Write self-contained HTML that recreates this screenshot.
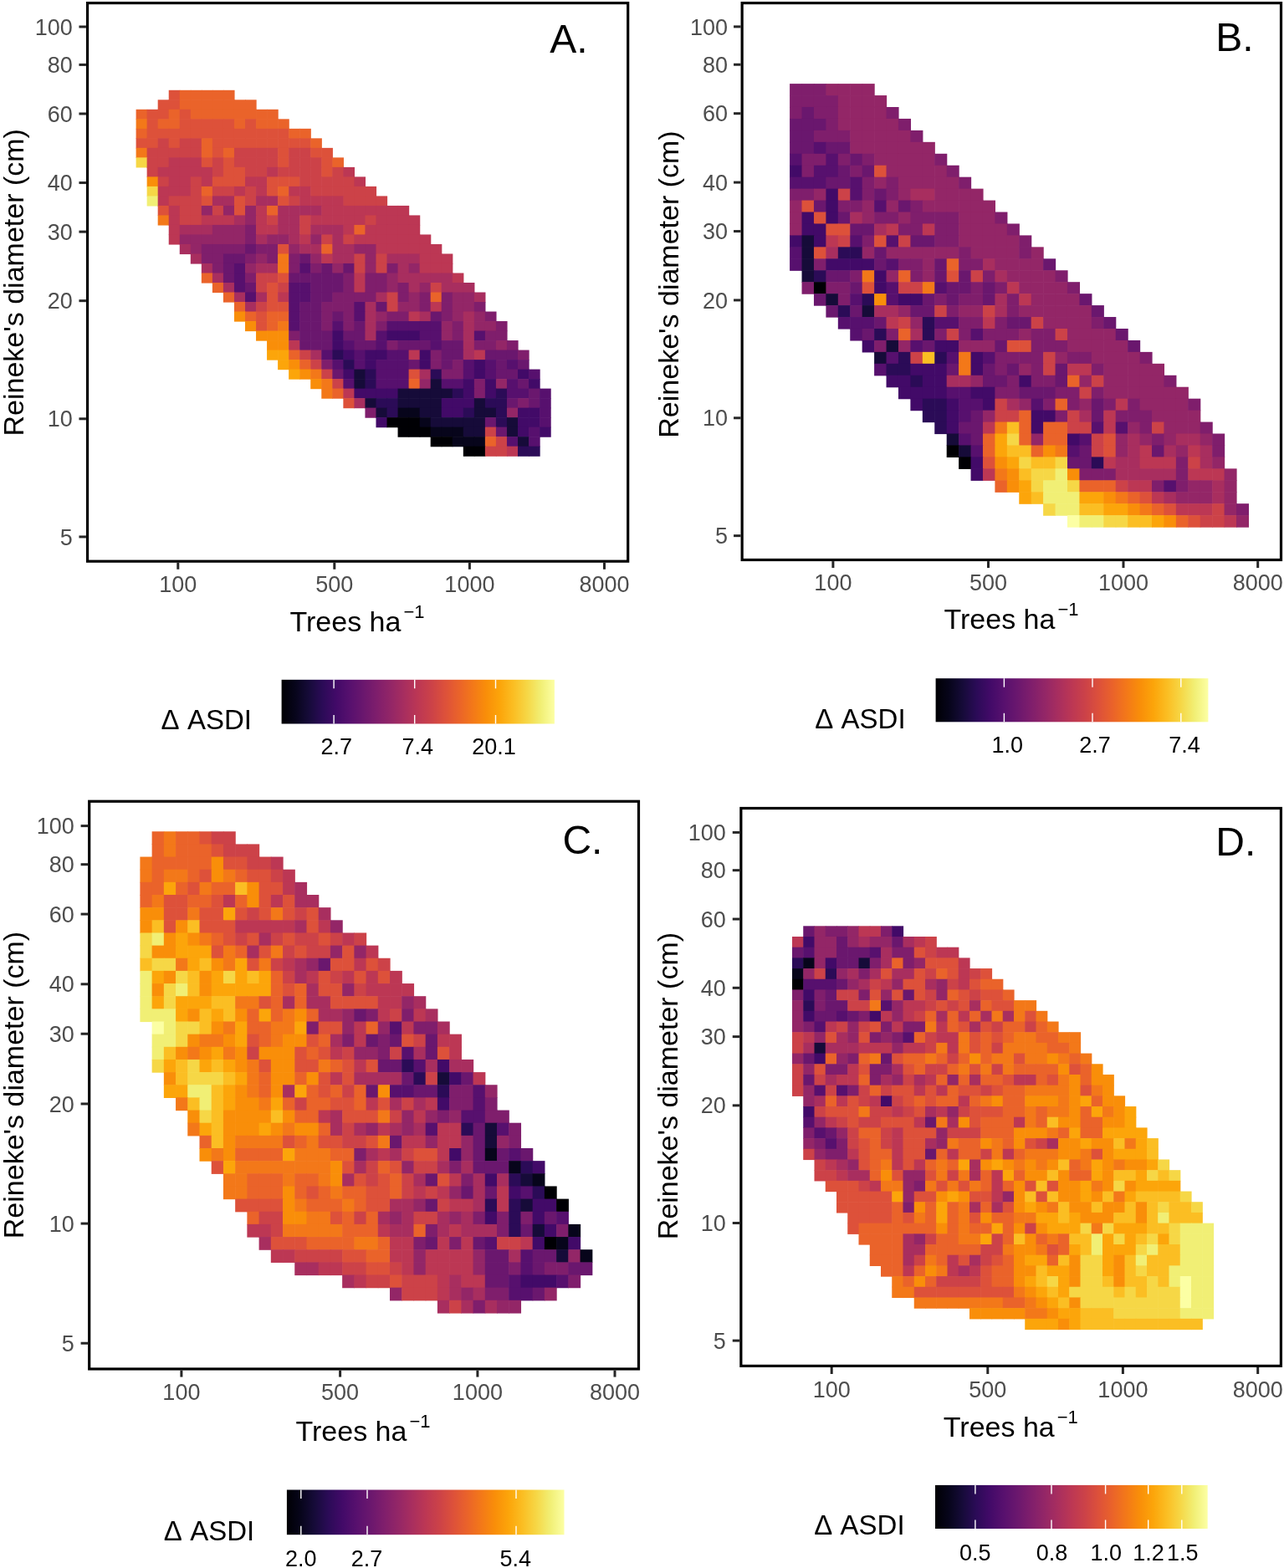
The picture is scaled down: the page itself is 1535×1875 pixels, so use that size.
<!DOCTYPE html>
<html><head><meta charset="utf-8"><title>Figure</title>
<style>html,body{margin:0;padding:0;background:#fff;overflow:hidden} svg text{font-family:"Liberation Sans", Arial, sans-serif;}</style>
</head><body>
<svg width="1535" height="1875" viewBox="0 0 1535 1875" style="display:block">
<rect x="0" y="0" width="1535" height="1875" fill="#ffffff"/>
<defs><linearGradient id="inf" x1="0" y1="0" x2="1" y2="0"><stop offset="0.00" stop-color="#000004"/><stop offset="0.05" stop-color="#07051b"/><stop offset="0.10" stop-color="#160b39"/><stop offset="0.15" stop-color="#2b0b57"/><stop offset="0.20" stop-color="#420a68"/><stop offset="0.25" stop-color="#57106e"/><stop offset="0.30" stop-color="#6a176e"/><stop offset="0.35" stop-color="#7f1e6c"/><stop offset="0.40" stop-color="#932667"/><stop offset="0.45" stop-color="#a82e5f"/><stop offset="0.50" stop-color="#bc3754"/><stop offset="0.55" stop-color="#cc4248"/><stop offset="0.60" stop-color="#dd513a"/><stop offset="0.65" stop-color="#ea632a"/><stop offset="0.70" stop-color="#f37819"/><stop offset="0.75" stop-color="#f98e09"/><stop offset="0.80" stop-color="#fca50a"/><stop offset="0.85" stop-color="#fbbe23"/><stop offset="0.90" stop-color="#f6d746"/><stop offset="0.95" stop-color="#f1ef75"/><stop offset="1.00" stop-color="#fcffa4"/></linearGradient></defs>
<rect x="201.72" y="107.80" width="13.64" height="12.11" fill="#dd513a"/>
<rect x="214.76" y="107.80" width="13.64" height="12.11" fill="#ea632a"/>
<rect x="227.80" y="107.80" width="13.64" height="12.11" fill="#ea632a"/>
<rect x="240.84" y="107.80" width="13.64" height="12.11" fill="#ea632a"/>
<rect x="253.88" y="107.80" width="13.64" height="12.11" fill="#ea632a"/>
<rect x="266.92" y="107.80" width="13.64" height="12.11" fill="#ea632a"/>
<rect x="188.68" y="119.31" width="13.64" height="12.11" fill="#dd513a"/>
<rect x="201.72" y="119.31" width="13.64" height="12.11" fill="#dd513a"/>
<rect x="214.76" y="119.31" width="13.64" height="12.11" fill="#ea632a"/>
<rect x="227.80" y="119.31" width="13.64" height="12.11" fill="#ea632a"/>
<rect x="240.84" y="119.31" width="13.64" height="12.11" fill="#ea632a"/>
<rect x="253.88" y="119.31" width="13.64" height="12.11" fill="#ea632a"/>
<rect x="266.92" y="119.31" width="13.64" height="12.11" fill="#ea632a"/>
<rect x="279.96" y="119.31" width="13.64" height="12.11" fill="#ea632a"/>
<rect x="293.00" y="119.31" width="13.64" height="12.11" fill="#ea632a"/>
<rect x="162.60" y="130.82" width="13.64" height="12.11" fill="#ea632a"/>
<rect x="175.64" y="130.82" width="13.64" height="12.11" fill="#dd513a"/>
<rect x="188.68" y="130.82" width="13.64" height="12.11" fill="#dd513a"/>
<rect x="201.72" y="130.82" width="13.64" height="12.11" fill="#ea632a"/>
<rect x="214.76" y="130.82" width="13.64" height="12.11" fill="#dd513a"/>
<rect x="227.80" y="130.82" width="13.64" height="12.11" fill="#ea632a"/>
<rect x="240.84" y="130.82" width="13.64" height="12.11" fill="#ea632a"/>
<rect x="253.88" y="130.82" width="13.64" height="12.11" fill="#ea632a"/>
<rect x="266.92" y="130.82" width="13.64" height="12.11" fill="#ea632a"/>
<rect x="279.96" y="130.82" width="13.64" height="12.11" fill="#ea632a"/>
<rect x="293.00" y="130.82" width="13.64" height="12.11" fill="#ea632a"/>
<rect x="306.04" y="130.82" width="13.64" height="12.11" fill="#ea632a"/>
<rect x="319.08" y="130.82" width="13.64" height="12.11" fill="#ea632a"/>
<rect x="162.60" y="142.33" width="13.64" height="12.11" fill="#f37819"/>
<rect x="175.64" y="142.33" width="13.64" height="12.11" fill="#dd513a"/>
<rect x="188.68" y="142.33" width="13.64" height="12.11" fill="#ea632a"/>
<rect x="201.72" y="142.33" width="13.64" height="12.11" fill="#ea632a"/>
<rect x="214.76" y="142.33" width="13.64" height="12.11" fill="#dd513a"/>
<rect x="227.80" y="142.33" width="13.64" height="12.11" fill="#dd513a"/>
<rect x="240.84" y="142.33" width="13.64" height="12.11" fill="#dd513a"/>
<rect x="253.88" y="142.33" width="13.64" height="12.11" fill="#dd513a"/>
<rect x="266.92" y="142.33" width="13.64" height="12.11" fill="#dd513a"/>
<rect x="279.96" y="142.33" width="13.64" height="12.11" fill="#ea632a"/>
<rect x="293.00" y="142.33" width="13.64" height="12.11" fill="#dd513a"/>
<rect x="306.04" y="142.33" width="13.64" height="12.11" fill="#ea632a"/>
<rect x="319.08" y="142.33" width="13.64" height="12.11" fill="#ea632a"/>
<rect x="332.12" y="142.33" width="13.64" height="12.11" fill="#ea632a"/>
<rect x="162.60" y="153.84" width="13.64" height="12.11" fill="#ea632a"/>
<rect x="175.64" y="153.84" width="13.64" height="12.11" fill="#dd513a"/>
<rect x="188.68" y="153.84" width="13.64" height="12.11" fill="#dd513a"/>
<rect x="201.72" y="153.84" width="13.64" height="12.11" fill="#dd513a"/>
<rect x="214.76" y="153.84" width="13.64" height="12.11" fill="#dd513a"/>
<rect x="227.80" y="153.84" width="13.64" height="12.11" fill="#dd513a"/>
<rect x="240.84" y="153.84" width="13.64" height="12.11" fill="#dd513a"/>
<rect x="253.88" y="153.84" width="13.64" height="12.11" fill="#dd513a"/>
<rect x="266.92" y="153.84" width="13.64" height="12.11" fill="#dd513a"/>
<rect x="279.96" y="153.84" width="13.64" height="12.11" fill="#dd513a"/>
<rect x="293.00" y="153.84" width="13.64" height="12.11" fill="#dd513a"/>
<rect x="306.04" y="153.84" width="13.64" height="12.11" fill="#dd513a"/>
<rect x="319.08" y="153.84" width="13.64" height="12.11" fill="#dd513a"/>
<rect x="332.12" y="153.84" width="13.64" height="12.11" fill="#dd513a"/>
<rect x="345.16" y="153.84" width="13.64" height="12.11" fill="#ea632a"/>
<rect x="358.20" y="153.84" width="13.64" height="12.11" fill="#ea632a"/>
<rect x="162.60" y="165.35" width="13.64" height="12.11" fill="#dd513a"/>
<rect x="175.64" y="165.35" width="13.64" height="12.11" fill="#dd513a"/>
<rect x="188.68" y="165.35" width="13.64" height="12.11" fill="#cc4248"/>
<rect x="201.72" y="165.35" width="13.64" height="12.11" fill="#dd513a"/>
<rect x="214.76" y="165.35" width="13.64" height="12.11" fill="#cc4248"/>
<rect x="227.80" y="165.35" width="13.64" height="12.11" fill="#cc4248"/>
<rect x="240.84" y="165.35" width="13.64" height="12.11" fill="#ea632a"/>
<rect x="253.88" y="165.35" width="13.64" height="12.11" fill="#dd513a"/>
<rect x="266.92" y="165.35" width="13.64" height="12.11" fill="#dd513a"/>
<rect x="279.96" y="165.35" width="13.64" height="12.11" fill="#dd513a"/>
<rect x="293.00" y="165.35" width="13.64" height="12.11" fill="#dd513a"/>
<rect x="306.04" y="165.35" width="13.64" height="12.11" fill="#dd513a"/>
<rect x="319.08" y="165.35" width="13.64" height="12.11" fill="#dd513a"/>
<rect x="332.12" y="165.35" width="13.64" height="12.11" fill="#dd513a"/>
<rect x="345.16" y="165.35" width="13.64" height="12.11" fill="#dd513a"/>
<rect x="358.20" y="165.35" width="13.64" height="12.11" fill="#dd513a"/>
<rect x="371.24" y="165.35" width="13.64" height="12.11" fill="#ea632a"/>
<rect x="162.60" y="176.86" width="13.64" height="12.11" fill="#f37819"/>
<rect x="175.64" y="176.86" width="13.64" height="12.11" fill="#cc4248"/>
<rect x="188.68" y="176.86" width="13.64" height="12.11" fill="#cc4248"/>
<rect x="201.72" y="176.86" width="13.64" height="12.11" fill="#cc4248"/>
<rect x="214.76" y="176.86" width="13.64" height="12.11" fill="#cc4248"/>
<rect x="227.80" y="176.86" width="13.64" height="12.11" fill="#cc4248"/>
<rect x="240.84" y="176.86" width="13.64" height="12.11" fill="#ea632a"/>
<rect x="253.88" y="176.86" width="13.64" height="12.11" fill="#dd513a"/>
<rect x="266.92" y="176.86" width="13.64" height="12.11" fill="#ea632a"/>
<rect x="279.96" y="176.86" width="13.64" height="12.11" fill="#cc4248"/>
<rect x="293.00" y="176.86" width="13.64" height="12.11" fill="#cc4248"/>
<rect x="306.04" y="176.86" width="13.64" height="12.11" fill="#cc4248"/>
<rect x="319.08" y="176.86" width="13.64" height="12.11" fill="#cc4248"/>
<rect x="332.12" y="176.86" width="13.64" height="12.11" fill="#dd513a"/>
<rect x="345.16" y="176.86" width="13.64" height="12.11" fill="#cc4248"/>
<rect x="358.20" y="176.86" width="13.64" height="12.11" fill="#cc4248"/>
<rect x="371.24" y="176.86" width="13.64" height="12.11" fill="#dd513a"/>
<rect x="384.28" y="176.86" width="13.64" height="12.11" fill="#dd513a"/>
<rect x="162.60" y="188.37" width="13.64" height="12.11" fill="#f6d746"/>
<rect x="175.64" y="188.37" width="13.64" height="12.11" fill="#cc4248"/>
<rect x="188.68" y="188.37" width="13.64" height="12.11" fill="#cc4248"/>
<rect x="201.72" y="188.37" width="13.64" height="12.11" fill="#bc3754"/>
<rect x="214.76" y="188.37" width="13.64" height="12.11" fill="#bc3754"/>
<rect x="227.80" y="188.37" width="13.64" height="12.11" fill="#bc3754"/>
<rect x="240.84" y="188.37" width="13.64" height="12.11" fill="#dd513a"/>
<rect x="253.88" y="188.37" width="13.64" height="12.11" fill="#cc4248"/>
<rect x="266.92" y="188.37" width="13.64" height="12.11" fill="#dd513a"/>
<rect x="279.96" y="188.37" width="13.64" height="12.11" fill="#cc4248"/>
<rect x="293.00" y="188.37" width="13.64" height="12.11" fill="#cc4248"/>
<rect x="306.04" y="188.37" width="13.64" height="12.11" fill="#cc4248"/>
<rect x="319.08" y="188.37" width="13.64" height="12.11" fill="#cc4248"/>
<rect x="332.12" y="188.37" width="13.64" height="12.11" fill="#dd513a"/>
<rect x="345.16" y="188.37" width="13.64" height="12.11" fill="#cc4248"/>
<rect x="358.20" y="188.37" width="13.64" height="12.11" fill="#cc4248"/>
<rect x="371.24" y="188.37" width="13.64" height="12.11" fill="#cc4248"/>
<rect x="384.28" y="188.37" width="13.64" height="12.11" fill="#dd513a"/>
<rect x="397.32" y="188.37" width="13.64" height="12.11" fill="#ea632a"/>
<rect x="175.64" y="199.88" width="13.64" height="12.11" fill="#cc4248"/>
<rect x="188.68" y="199.88" width="13.64" height="12.11" fill="#bc3754"/>
<rect x="201.72" y="199.88" width="13.64" height="12.11" fill="#bc3754"/>
<rect x="214.76" y="199.88" width="13.64" height="12.11" fill="#bc3754"/>
<rect x="227.80" y="199.88" width="13.64" height="12.11" fill="#bc3754"/>
<rect x="240.84" y="199.88" width="13.64" height="12.11" fill="#bc3754"/>
<rect x="253.88" y="199.88" width="13.64" height="12.11" fill="#cc4248"/>
<rect x="266.92" y="199.88" width="13.64" height="12.11" fill="#dd513a"/>
<rect x="279.96" y="199.88" width="13.64" height="12.11" fill="#dd513a"/>
<rect x="293.00" y="199.88" width="13.64" height="12.11" fill="#cc4248"/>
<rect x="306.04" y="199.88" width="13.64" height="12.11" fill="#cc4248"/>
<rect x="319.08" y="199.88" width="13.64" height="12.11" fill="#bc3754"/>
<rect x="332.12" y="199.88" width="13.64" height="12.11" fill="#cc4248"/>
<rect x="345.16" y="199.88" width="13.64" height="12.11" fill="#cc4248"/>
<rect x="358.20" y="199.88" width="13.64" height="12.11" fill="#cc4248"/>
<rect x="371.24" y="199.88" width="13.64" height="12.11" fill="#cc4248"/>
<rect x="384.28" y="199.88" width="13.64" height="12.11" fill="#dd513a"/>
<rect x="397.32" y="199.88" width="13.64" height="12.11" fill="#cc4248"/>
<rect x="410.36" y="199.88" width="13.64" height="12.11" fill="#bc3754"/>
<rect x="175.64" y="211.39" width="13.64" height="12.11" fill="#f98e09"/>
<rect x="188.68" y="211.39" width="13.64" height="12.11" fill="#cc4248"/>
<rect x="201.72" y="211.39" width="13.64" height="12.11" fill="#bc3754"/>
<rect x="214.76" y="211.39" width="13.64" height="12.11" fill="#bc3754"/>
<rect x="227.80" y="211.39" width="13.64" height="12.11" fill="#cc4248"/>
<rect x="240.84" y="211.39" width="13.64" height="12.11" fill="#bc3754"/>
<rect x="253.88" y="211.39" width="13.64" height="12.11" fill="#dd513a"/>
<rect x="266.92" y="211.39" width="13.64" height="12.11" fill="#dd513a"/>
<rect x="279.96" y="211.39" width="13.64" height="12.11" fill="#dd513a"/>
<rect x="293.00" y="211.39" width="13.64" height="12.11" fill="#bc3754"/>
<rect x="306.04" y="211.39" width="13.64" height="12.11" fill="#bc3754"/>
<rect x="319.08" y="211.39" width="13.64" height="12.11" fill="#dd513a"/>
<rect x="332.12" y="211.39" width="13.64" height="12.11" fill="#dd513a"/>
<rect x="345.16" y="211.39" width="13.64" height="12.11" fill="#dd513a"/>
<rect x="358.20" y="211.39" width="13.64" height="12.11" fill="#cc4248"/>
<rect x="371.24" y="211.39" width="13.64" height="12.11" fill="#cc4248"/>
<rect x="384.28" y="211.39" width="13.64" height="12.11" fill="#cc4248"/>
<rect x="397.32" y="211.39" width="13.64" height="12.11" fill="#cc4248"/>
<rect x="410.36" y="211.39" width="13.64" height="12.11" fill="#cc4248"/>
<rect x="423.40" y="211.39" width="13.64" height="12.11" fill="#bc3754"/>
<rect x="175.64" y="222.90" width="13.64" height="12.11" fill="#f6d746"/>
<rect x="188.68" y="222.90" width="13.64" height="12.11" fill="#bc3754"/>
<rect x="201.72" y="222.90" width="13.64" height="12.11" fill="#bc3754"/>
<rect x="214.76" y="222.90" width="13.64" height="12.11" fill="#bc3754"/>
<rect x="227.80" y="222.90" width="13.64" height="12.11" fill="#cc4248"/>
<rect x="240.84" y="222.90" width="13.64" height="12.11" fill="#ea632a"/>
<rect x="253.88" y="222.90" width="13.64" height="12.11" fill="#cc4248"/>
<rect x="266.92" y="222.90" width="13.64" height="12.11" fill="#cc4248"/>
<rect x="279.96" y="222.90" width="13.64" height="12.11" fill="#bc3754"/>
<rect x="293.00" y="222.90" width="13.64" height="12.11" fill="#cc4248"/>
<rect x="306.04" y="222.90" width="13.64" height="12.11" fill="#bc3754"/>
<rect x="319.08" y="222.90" width="13.64" height="12.11" fill="#dd513a"/>
<rect x="332.12" y="222.90" width="13.64" height="12.11" fill="#ea632a"/>
<rect x="345.16" y="222.90" width="13.64" height="12.11" fill="#bc3754"/>
<rect x="358.20" y="222.90" width="13.64" height="12.11" fill="#bc3754"/>
<rect x="371.24" y="222.90" width="13.64" height="12.11" fill="#cc4248"/>
<rect x="384.28" y="222.90" width="13.64" height="12.11" fill="#cc4248"/>
<rect x="397.32" y="222.90" width="13.64" height="12.11" fill="#cc4248"/>
<rect x="410.36" y="222.90" width="13.64" height="12.11" fill="#cc4248"/>
<rect x="423.40" y="222.90" width="13.64" height="12.11" fill="#cc4248"/>
<rect x="436.44" y="222.90" width="13.64" height="12.11" fill="#cc4248"/>
<rect x="175.64" y="234.41" width="13.64" height="12.11" fill="#f1ef75"/>
<rect x="188.68" y="234.41" width="13.64" height="12.11" fill="#bc3754"/>
<rect x="201.72" y="234.41" width="13.64" height="12.11" fill="#cc4248"/>
<rect x="214.76" y="234.41" width="13.64" height="12.11" fill="#cc4248"/>
<rect x="227.80" y="234.41" width="13.64" height="12.11" fill="#cc4248"/>
<rect x="240.84" y="234.41" width="13.64" height="12.11" fill="#dd513a"/>
<rect x="253.88" y="234.41" width="13.64" height="12.11" fill="#a82e5f"/>
<rect x="266.92" y="234.41" width="13.64" height="12.11" fill="#a82e5f"/>
<rect x="279.96" y="234.41" width="13.64" height="12.11" fill="#dd513a"/>
<rect x="293.00" y="234.41" width="13.64" height="12.11" fill="#cc4248"/>
<rect x="306.04" y="234.41" width="13.64" height="12.11" fill="#a82e5f"/>
<rect x="319.08" y="234.41" width="13.64" height="12.11" fill="#a82e5f"/>
<rect x="332.12" y="234.41" width="13.64" height="12.11" fill="#dd513a"/>
<rect x="345.16" y="234.41" width="13.64" height="12.11" fill="#cc4248"/>
<rect x="358.20" y="234.41" width="13.64" height="12.11" fill="#bc3754"/>
<rect x="371.24" y="234.41" width="13.64" height="12.11" fill="#bc3754"/>
<rect x="384.28" y="234.41" width="13.64" height="12.11" fill="#bc3754"/>
<rect x="397.32" y="234.41" width="13.64" height="12.11" fill="#bc3754"/>
<rect x="410.36" y="234.41" width="13.64" height="12.11" fill="#cc4248"/>
<rect x="423.40" y="234.41" width="13.64" height="12.11" fill="#cc4248"/>
<rect x="436.44" y="234.41" width="13.64" height="12.11" fill="#cc4248"/>
<rect x="449.48" y="234.41" width="13.64" height="12.11" fill="#cc4248"/>
<rect x="188.68" y="245.92" width="13.64" height="12.11" fill="#dd513a"/>
<rect x="201.72" y="245.92" width="13.64" height="12.11" fill="#bc3754"/>
<rect x="214.76" y="245.92" width="13.64" height="12.11" fill="#cc4248"/>
<rect x="227.80" y="245.92" width="13.64" height="12.11" fill="#cc4248"/>
<rect x="240.84" y="245.92" width="13.64" height="12.11" fill="#932667"/>
<rect x="253.88" y="245.92" width="13.64" height="12.11" fill="#cc4248"/>
<rect x="266.92" y="245.92" width="13.64" height="12.11" fill="#932667"/>
<rect x="279.96" y="245.92" width="13.64" height="12.11" fill="#dd513a"/>
<rect x="293.00" y="245.92" width="13.64" height="12.11" fill="#932667"/>
<rect x="306.04" y="245.92" width="13.64" height="12.11" fill="#bc3754"/>
<rect x="319.08" y="245.92" width="13.64" height="12.11" fill="#ea632a"/>
<rect x="332.12" y="245.92" width="13.64" height="12.11" fill="#a82e5f"/>
<rect x="345.16" y="245.92" width="13.64" height="12.11" fill="#a82e5f"/>
<rect x="358.20" y="245.92" width="13.64" height="12.11" fill="#a82e5f"/>
<rect x="371.24" y="245.92" width="13.64" height="12.11" fill="#a82e5f"/>
<rect x="384.28" y="245.92" width="13.64" height="12.11" fill="#bc3754"/>
<rect x="397.32" y="245.92" width="13.64" height="12.11" fill="#bc3754"/>
<rect x="410.36" y="245.92" width="13.64" height="12.11" fill="#bc3754"/>
<rect x="423.40" y="245.92" width="13.64" height="12.11" fill="#bc3754"/>
<rect x="436.44" y="245.92" width="13.64" height="12.11" fill="#bc3754"/>
<rect x="449.48" y="245.92" width="13.64" height="12.11" fill="#bc3754"/>
<rect x="462.52" y="245.92" width="13.64" height="12.11" fill="#bc3754"/>
<rect x="475.56" y="245.92" width="13.64" height="12.11" fill="#bc3754"/>
<rect x="188.68" y="257.43" width="13.64" height="12.11" fill="#f37819"/>
<rect x="201.72" y="257.43" width="13.64" height="12.11" fill="#bc3754"/>
<rect x="214.76" y="257.43" width="13.64" height="12.11" fill="#cc4248"/>
<rect x="227.80" y="257.43" width="13.64" height="12.11" fill="#cc4248"/>
<rect x="240.84" y="257.43" width="13.64" height="12.11" fill="#bc3754"/>
<rect x="253.88" y="257.43" width="13.64" height="12.11" fill="#bc3754"/>
<rect x="266.92" y="257.43" width="13.64" height="12.11" fill="#bc3754"/>
<rect x="279.96" y="257.43" width="13.64" height="12.11" fill="#a82e5f"/>
<rect x="293.00" y="257.43" width="13.64" height="12.11" fill="#932667"/>
<rect x="306.04" y="257.43" width="13.64" height="12.11" fill="#bc3754"/>
<rect x="319.08" y="257.43" width="13.64" height="12.11" fill="#cc4248"/>
<rect x="332.12" y="257.43" width="13.64" height="12.11" fill="#a82e5f"/>
<rect x="345.16" y="257.43" width="13.64" height="12.11" fill="#a82e5f"/>
<rect x="358.20" y="257.43" width="13.64" height="12.11" fill="#cc4248"/>
<rect x="371.24" y="257.43" width="13.64" height="12.11" fill="#bc3754"/>
<rect x="384.28" y="257.43" width="13.64" height="12.11" fill="#bc3754"/>
<rect x="397.32" y="257.43" width="13.64" height="12.11" fill="#bc3754"/>
<rect x="410.36" y="257.43" width="13.64" height="12.11" fill="#bc3754"/>
<rect x="423.40" y="257.43" width="13.64" height="12.11" fill="#bc3754"/>
<rect x="436.44" y="257.43" width="13.64" height="12.11" fill="#cc4248"/>
<rect x="449.48" y="257.43" width="13.64" height="12.11" fill="#bc3754"/>
<rect x="462.52" y="257.43" width="13.64" height="12.11" fill="#bc3754"/>
<rect x="475.56" y="257.43" width="13.64" height="12.11" fill="#bc3754"/>
<rect x="488.60" y="257.43" width="13.64" height="12.11" fill="#bc3754"/>
<rect x="201.72" y="268.94" width="13.64" height="12.11" fill="#bc3754"/>
<rect x="214.76" y="268.94" width="13.64" height="12.11" fill="#a82e5f"/>
<rect x="227.80" y="268.94" width="13.64" height="12.11" fill="#a82e5f"/>
<rect x="240.84" y="268.94" width="13.64" height="12.11" fill="#a82e5f"/>
<rect x="253.88" y="268.94" width="13.64" height="12.11" fill="#932667"/>
<rect x="266.92" y="268.94" width="13.64" height="12.11" fill="#932667"/>
<rect x="279.96" y="268.94" width="13.64" height="12.11" fill="#932667"/>
<rect x="293.00" y="268.94" width="13.64" height="12.11" fill="#7f1e6c"/>
<rect x="306.04" y="268.94" width="13.64" height="12.11" fill="#bc3754"/>
<rect x="319.08" y="268.94" width="13.64" height="12.11" fill="#bc3754"/>
<rect x="332.12" y="268.94" width="13.64" height="12.11" fill="#a82e5f"/>
<rect x="345.16" y="268.94" width="13.64" height="12.11" fill="#a82e5f"/>
<rect x="358.20" y="268.94" width="13.64" height="12.11" fill="#cc4248"/>
<rect x="371.24" y="268.94" width="13.64" height="12.11" fill="#a82e5f"/>
<rect x="384.28" y="268.94" width="13.64" height="12.11" fill="#a82e5f"/>
<rect x="397.32" y="268.94" width="13.64" height="12.11" fill="#a82e5f"/>
<rect x="410.36" y="268.94" width="13.64" height="12.11" fill="#bc3754"/>
<rect x="423.40" y="268.94" width="13.64" height="12.11" fill="#ea632a"/>
<rect x="436.44" y="268.94" width="13.64" height="12.11" fill="#bc3754"/>
<rect x="449.48" y="268.94" width="13.64" height="12.11" fill="#bc3754"/>
<rect x="462.52" y="268.94" width="13.64" height="12.11" fill="#bc3754"/>
<rect x="475.56" y="268.94" width="13.64" height="12.11" fill="#bc3754"/>
<rect x="488.60" y="268.94" width="13.64" height="12.11" fill="#bc3754"/>
<rect x="201.72" y="280.45" width="13.64" height="12.11" fill="#bc3754"/>
<rect x="214.76" y="280.45" width="13.64" height="12.11" fill="#932667"/>
<rect x="227.80" y="280.45" width="13.64" height="12.11" fill="#932667"/>
<rect x="240.84" y="280.45" width="13.64" height="12.11" fill="#932667"/>
<rect x="253.88" y="280.45" width="13.64" height="12.11" fill="#932667"/>
<rect x="266.92" y="280.45" width="13.64" height="12.11" fill="#932667"/>
<rect x="279.96" y="280.45" width="13.64" height="12.11" fill="#932667"/>
<rect x="293.00" y="280.45" width="13.64" height="12.11" fill="#7f1e6c"/>
<rect x="306.04" y="280.45" width="13.64" height="12.11" fill="#a82e5f"/>
<rect x="319.08" y="280.45" width="13.64" height="12.11" fill="#932667"/>
<rect x="332.12" y="280.45" width="13.64" height="12.11" fill="#932667"/>
<rect x="345.16" y="280.45" width="13.64" height="12.11" fill="#a82e5f"/>
<rect x="358.20" y="280.45" width="13.64" height="12.11" fill="#bc3754"/>
<rect x="371.24" y="280.45" width="13.64" height="12.11" fill="#932667"/>
<rect x="384.28" y="280.45" width="13.64" height="12.11" fill="#cc4248"/>
<rect x="397.32" y="280.45" width="13.64" height="12.11" fill="#a82e5f"/>
<rect x="410.36" y="280.45" width="13.64" height="12.11" fill="#cc4248"/>
<rect x="423.40" y="280.45" width="13.64" height="12.11" fill="#bc3754"/>
<rect x="436.44" y="280.45" width="13.64" height="12.11" fill="#bc3754"/>
<rect x="449.48" y="280.45" width="13.64" height="12.11" fill="#bc3754"/>
<rect x="462.52" y="280.45" width="13.64" height="12.11" fill="#bc3754"/>
<rect x="475.56" y="280.45" width="13.64" height="12.11" fill="#bc3754"/>
<rect x="488.60" y="280.45" width="13.64" height="12.11" fill="#bc3754"/>
<rect x="501.64" y="280.45" width="13.64" height="12.11" fill="#bc3754"/>
<rect x="214.76" y="291.96" width="13.64" height="12.11" fill="#a82e5f"/>
<rect x="227.80" y="291.96" width="13.64" height="12.11" fill="#932667"/>
<rect x="240.84" y="291.96" width="13.64" height="12.11" fill="#7f1e6c"/>
<rect x="253.88" y="291.96" width="13.64" height="12.11" fill="#7f1e6c"/>
<rect x="266.92" y="291.96" width="13.64" height="12.11" fill="#7f1e6c"/>
<rect x="279.96" y="291.96" width="13.64" height="12.11" fill="#7f1e6c"/>
<rect x="293.00" y="291.96" width="13.64" height="12.11" fill="#6a176e"/>
<rect x="306.04" y="291.96" width="13.64" height="12.11" fill="#7f1e6c"/>
<rect x="319.08" y="291.96" width="13.64" height="12.11" fill="#7f1e6c"/>
<rect x="332.12" y="291.96" width="13.64" height="12.11" fill="#dd513a"/>
<rect x="345.16" y="291.96" width="13.64" height="12.11" fill="#932667"/>
<rect x="358.20" y="291.96" width="13.64" height="12.11" fill="#a82e5f"/>
<rect x="371.24" y="291.96" width="13.64" height="12.11" fill="#a82e5f"/>
<rect x="384.28" y="291.96" width="13.64" height="12.11" fill="#ea632a"/>
<rect x="397.32" y="291.96" width="13.64" height="12.11" fill="#a82e5f"/>
<rect x="410.36" y="291.96" width="13.64" height="12.11" fill="#a82e5f"/>
<rect x="423.40" y="291.96" width="13.64" height="12.11" fill="#932667"/>
<rect x="436.44" y="291.96" width="13.64" height="12.11" fill="#932667"/>
<rect x="449.48" y="291.96" width="13.64" height="12.11" fill="#bc3754"/>
<rect x="462.52" y="291.96" width="13.64" height="12.11" fill="#bc3754"/>
<rect x="475.56" y="291.96" width="13.64" height="12.11" fill="#bc3754"/>
<rect x="488.60" y="291.96" width="13.64" height="12.11" fill="#bc3754"/>
<rect x="501.64" y="291.96" width="13.64" height="12.11" fill="#bc3754"/>
<rect x="514.68" y="291.96" width="13.64" height="12.11" fill="#bc3754"/>
<rect x="227.80" y="303.47" width="13.64" height="12.11" fill="#a82e5f"/>
<rect x="240.84" y="303.47" width="13.64" height="12.11" fill="#7f1e6c"/>
<rect x="253.88" y="303.47" width="13.64" height="12.11" fill="#7f1e6c"/>
<rect x="266.92" y="303.47" width="13.64" height="12.11" fill="#6a176e"/>
<rect x="279.96" y="303.47" width="13.64" height="12.11" fill="#6a176e"/>
<rect x="293.00" y="303.47" width="13.64" height="12.11" fill="#7f1e6c"/>
<rect x="306.04" y="303.47" width="13.64" height="12.11" fill="#932667"/>
<rect x="319.08" y="303.47" width="13.64" height="12.11" fill="#7f1e6c"/>
<rect x="332.12" y="303.47" width="13.64" height="12.11" fill="#f37819"/>
<rect x="345.16" y="303.47" width="13.64" height="12.11" fill="#7f1e6c"/>
<rect x="358.20" y="303.47" width="13.64" height="12.11" fill="#6a176e"/>
<rect x="371.24" y="303.47" width="13.64" height="12.11" fill="#932667"/>
<rect x="384.28" y="303.47" width="13.64" height="12.11" fill="#bc3754"/>
<rect x="397.32" y="303.47" width="13.64" height="12.11" fill="#a82e5f"/>
<rect x="410.36" y="303.47" width="13.64" height="12.11" fill="#a82e5f"/>
<rect x="423.40" y="303.47" width="13.64" height="12.11" fill="#cc4248"/>
<rect x="436.44" y="303.47" width="13.64" height="12.11" fill="#932667"/>
<rect x="449.48" y="303.47" width="13.64" height="12.11" fill="#cc4248"/>
<rect x="462.52" y="303.47" width="13.64" height="12.11" fill="#a82e5f"/>
<rect x="475.56" y="303.47" width="13.64" height="12.11" fill="#a82e5f"/>
<rect x="488.60" y="303.47" width="13.64" height="12.11" fill="#a82e5f"/>
<rect x="501.64" y="303.47" width="13.64" height="12.11" fill="#bc3754"/>
<rect x="514.68" y="303.47" width="13.64" height="12.11" fill="#bc3754"/>
<rect x="527.72" y="303.47" width="13.64" height="12.11" fill="#bc3754"/>
<rect x="240.84" y="314.98" width="13.64" height="12.11" fill="#a82e5f"/>
<rect x="253.88" y="314.98" width="13.64" height="12.11" fill="#7f1e6c"/>
<rect x="266.92" y="314.98" width="13.64" height="12.11" fill="#6a176e"/>
<rect x="279.96" y="314.98" width="13.64" height="12.11" fill="#57106e"/>
<rect x="293.00" y="314.98" width="13.64" height="12.11" fill="#932667"/>
<rect x="306.04" y="314.98" width="13.64" height="12.11" fill="#a82e5f"/>
<rect x="319.08" y="314.98" width="13.64" height="12.11" fill="#a82e5f"/>
<rect x="332.12" y="314.98" width="13.64" height="12.11" fill="#f37819"/>
<rect x="345.16" y="314.98" width="13.64" height="12.11" fill="#7f1e6c"/>
<rect x="358.20" y="314.98" width="13.64" height="12.11" fill="#57106e"/>
<rect x="371.24" y="314.98" width="13.64" height="12.11" fill="#7f1e6c"/>
<rect x="384.28" y="314.98" width="13.64" height="12.11" fill="#6a176e"/>
<rect x="397.32" y="314.98" width="13.64" height="12.11" fill="#932667"/>
<rect x="410.36" y="314.98" width="13.64" height="12.11" fill="#6a176e"/>
<rect x="423.40" y="314.98" width="13.64" height="12.11" fill="#cc4248"/>
<rect x="436.44" y="314.98" width="13.64" height="12.11" fill="#932667"/>
<rect x="449.48" y="314.98" width="13.64" height="12.11" fill="#cc4248"/>
<rect x="462.52" y="314.98" width="13.64" height="12.11" fill="#7f1e6c"/>
<rect x="475.56" y="314.98" width="13.64" height="12.11" fill="#a82e5f"/>
<rect x="488.60" y="314.98" width="13.64" height="12.11" fill="#932667"/>
<rect x="501.64" y="314.98" width="13.64" height="12.11" fill="#bc3754"/>
<rect x="514.68" y="314.98" width="13.64" height="12.11" fill="#bc3754"/>
<rect x="527.72" y="314.98" width="13.64" height="12.11" fill="#bc3754"/>
<rect x="240.84" y="326.49" width="13.64" height="12.11" fill="#ea632a"/>
<rect x="253.88" y="326.49" width="13.64" height="12.11" fill="#a82e5f"/>
<rect x="266.92" y="326.49" width="13.64" height="12.11" fill="#6a176e"/>
<rect x="279.96" y="326.49" width="13.64" height="12.11" fill="#57106e"/>
<rect x="293.00" y="326.49" width="13.64" height="12.11" fill="#7f1e6c"/>
<rect x="306.04" y="326.49" width="13.64" height="12.11" fill="#cc4248"/>
<rect x="319.08" y="326.49" width="13.64" height="12.11" fill="#cc4248"/>
<rect x="332.12" y="326.49" width="13.64" height="12.11" fill="#dd513a"/>
<rect x="345.16" y="326.49" width="13.64" height="12.11" fill="#6a176e"/>
<rect x="358.20" y="326.49" width="13.64" height="12.11" fill="#6a176e"/>
<rect x="371.24" y="326.49" width="13.64" height="12.11" fill="#6a176e"/>
<rect x="384.28" y="326.49" width="13.64" height="12.11" fill="#6a176e"/>
<rect x="397.32" y="326.49" width="13.64" height="12.11" fill="#6a176e"/>
<rect x="410.36" y="326.49" width="13.64" height="12.11" fill="#7f1e6c"/>
<rect x="423.40" y="326.49" width="13.64" height="12.11" fill="#bc3754"/>
<rect x="436.44" y="326.49" width="13.64" height="12.11" fill="#7f1e6c"/>
<rect x="449.48" y="326.49" width="13.64" height="12.11" fill="#7f1e6c"/>
<rect x="462.52" y="326.49" width="13.64" height="12.11" fill="#932667"/>
<rect x="475.56" y="326.49" width="13.64" height="12.11" fill="#a82e5f"/>
<rect x="488.60" y="326.49" width="13.64" height="12.11" fill="#a82e5f"/>
<rect x="501.64" y="326.49" width="13.64" height="12.11" fill="#a82e5f"/>
<rect x="514.68" y="326.49" width="13.64" height="12.11" fill="#a82e5f"/>
<rect x="527.72" y="326.49" width="13.64" height="12.11" fill="#a82e5f"/>
<rect x="540.76" y="326.49" width="13.64" height="12.11" fill="#bc3754"/>
<rect x="253.88" y="338.00" width="13.64" height="12.11" fill="#ea632a"/>
<rect x="266.92" y="338.00" width="13.64" height="12.11" fill="#a82e5f"/>
<rect x="279.96" y="338.00" width="13.64" height="12.11" fill="#57106e"/>
<rect x="293.00" y="338.00" width="13.64" height="12.11" fill="#6a176e"/>
<rect x="306.04" y="338.00" width="13.64" height="12.11" fill="#cc4248"/>
<rect x="319.08" y="338.00" width="13.64" height="12.11" fill="#dd513a"/>
<rect x="332.12" y="338.00" width="13.64" height="12.11" fill="#cc4248"/>
<rect x="345.16" y="338.00" width="13.64" height="12.11" fill="#57106e"/>
<rect x="358.20" y="338.00" width="13.64" height="12.11" fill="#57106e"/>
<rect x="371.24" y="338.00" width="13.64" height="12.11" fill="#6a176e"/>
<rect x="384.28" y="338.00" width="13.64" height="12.11" fill="#6a176e"/>
<rect x="397.32" y="338.00" width="13.64" height="12.11" fill="#6a176e"/>
<rect x="410.36" y="338.00" width="13.64" height="12.11" fill="#7f1e6c"/>
<rect x="423.40" y="338.00" width="13.64" height="12.11" fill="#bc3754"/>
<rect x="436.44" y="338.00" width="13.64" height="12.11" fill="#7f1e6c"/>
<rect x="449.48" y="338.00" width="13.64" height="12.11" fill="#7f1e6c"/>
<rect x="462.52" y="338.00" width="13.64" height="12.11" fill="#932667"/>
<rect x="475.56" y="338.00" width="13.64" height="12.11" fill="#7f1e6c"/>
<rect x="488.60" y="338.00" width="13.64" height="12.11" fill="#a82e5f"/>
<rect x="501.64" y="338.00" width="13.64" height="12.11" fill="#932667"/>
<rect x="514.68" y="338.00" width="13.64" height="12.11" fill="#cc4248"/>
<rect x="527.72" y="338.00" width="13.64" height="12.11" fill="#a82e5f"/>
<rect x="540.76" y="338.00" width="13.64" height="12.11" fill="#a82e5f"/>
<rect x="553.80" y="338.00" width="13.64" height="12.11" fill="#a82e5f"/>
<rect x="266.92" y="349.51" width="13.64" height="12.11" fill="#ea632a"/>
<rect x="279.96" y="349.51" width="13.64" height="12.11" fill="#a82e5f"/>
<rect x="293.00" y="349.51" width="13.64" height="12.11" fill="#57106e"/>
<rect x="306.04" y="349.51" width="13.64" height="12.11" fill="#a82e5f"/>
<rect x="319.08" y="349.51" width="13.64" height="12.11" fill="#dd513a"/>
<rect x="332.12" y="349.51" width="13.64" height="12.11" fill="#bc3754"/>
<rect x="345.16" y="349.51" width="13.64" height="12.11" fill="#57106e"/>
<rect x="358.20" y="349.51" width="13.64" height="12.11" fill="#57106e"/>
<rect x="371.24" y="349.51" width="13.64" height="12.11" fill="#6a176e"/>
<rect x="384.28" y="349.51" width="13.64" height="12.11" fill="#6a176e"/>
<rect x="397.32" y="349.51" width="13.64" height="12.11" fill="#7f1e6c"/>
<rect x="410.36" y="349.51" width="13.64" height="12.11" fill="#7f1e6c"/>
<rect x="423.40" y="349.51" width="13.64" height="12.11" fill="#7f1e6c"/>
<rect x="436.44" y="349.51" width="13.64" height="12.11" fill="#7f1e6c"/>
<rect x="449.48" y="349.51" width="13.64" height="12.11" fill="#a82e5f"/>
<rect x="462.52" y="349.51" width="13.64" height="12.11" fill="#cc4248"/>
<rect x="475.56" y="349.51" width="13.64" height="12.11" fill="#7f1e6c"/>
<rect x="488.60" y="349.51" width="13.64" height="12.11" fill="#932667"/>
<rect x="501.64" y="349.51" width="13.64" height="12.11" fill="#7f1e6c"/>
<rect x="514.68" y="349.51" width="13.64" height="12.11" fill="#ea632a"/>
<rect x="527.72" y="349.51" width="13.64" height="12.11" fill="#7f1e6c"/>
<rect x="540.76" y="349.51" width="13.64" height="12.11" fill="#932667"/>
<rect x="553.80" y="349.51" width="13.64" height="12.11" fill="#932667"/>
<rect x="566.84" y="349.51" width="13.64" height="12.11" fill="#a82e5f"/>
<rect x="279.96" y="361.02" width="13.64" height="12.11" fill="#ea632a"/>
<rect x="293.00" y="361.02" width="13.64" height="12.11" fill="#a82e5f"/>
<rect x="306.04" y="361.02" width="13.64" height="12.11" fill="#cc4248"/>
<rect x="319.08" y="361.02" width="13.64" height="12.11" fill="#dd513a"/>
<rect x="332.12" y="361.02" width="13.64" height="12.11" fill="#dd513a"/>
<rect x="345.16" y="361.02" width="13.64" height="12.11" fill="#57106e"/>
<rect x="358.20" y="361.02" width="13.64" height="12.11" fill="#6a176e"/>
<rect x="371.24" y="361.02" width="13.64" height="12.11" fill="#6a176e"/>
<rect x="384.28" y="361.02" width="13.64" height="12.11" fill="#7f1e6c"/>
<rect x="397.32" y="361.02" width="13.64" height="12.11" fill="#7f1e6c"/>
<rect x="410.36" y="361.02" width="13.64" height="12.11" fill="#7f1e6c"/>
<rect x="423.40" y="361.02" width="13.64" height="12.11" fill="#57106e"/>
<rect x="436.44" y="361.02" width="13.64" height="12.11" fill="#a82e5f"/>
<rect x="449.48" y="361.02" width="13.64" height="12.11" fill="#6a176e"/>
<rect x="462.52" y="361.02" width="13.64" height="12.11" fill="#cc4248"/>
<rect x="475.56" y="361.02" width="13.64" height="12.11" fill="#932667"/>
<rect x="488.60" y="361.02" width="13.64" height="12.11" fill="#932667"/>
<rect x="501.64" y="361.02" width="13.64" height="12.11" fill="#7f1e6c"/>
<rect x="514.68" y="361.02" width="13.64" height="12.11" fill="#bc3754"/>
<rect x="527.72" y="361.02" width="13.64" height="12.11" fill="#7f1e6c"/>
<rect x="540.76" y="361.02" width="13.64" height="12.11" fill="#932667"/>
<rect x="553.80" y="361.02" width="13.64" height="12.11" fill="#932667"/>
<rect x="566.84" y="361.02" width="13.64" height="12.11" fill="#7f1e6c"/>
<rect x="279.96" y="372.53" width="13.64" height="12.11" fill="#f98e09"/>
<rect x="293.00" y="372.53" width="13.64" height="12.11" fill="#ea632a"/>
<rect x="306.04" y="372.53" width="13.64" height="12.11" fill="#dd513a"/>
<rect x="319.08" y="372.53" width="13.64" height="12.11" fill="#ea632a"/>
<rect x="332.12" y="372.53" width="13.64" height="12.11" fill="#ea632a"/>
<rect x="345.16" y="372.53" width="13.64" height="12.11" fill="#57106e"/>
<rect x="358.20" y="372.53" width="13.64" height="12.11" fill="#6a176e"/>
<rect x="371.24" y="372.53" width="13.64" height="12.11" fill="#6a176e"/>
<rect x="384.28" y="372.53" width="13.64" height="12.11" fill="#7f1e6c"/>
<rect x="397.32" y="372.53" width="13.64" height="12.11" fill="#6a176e"/>
<rect x="410.36" y="372.53" width="13.64" height="12.11" fill="#7f1e6c"/>
<rect x="423.40" y="372.53" width="13.64" height="12.11" fill="#57106e"/>
<rect x="436.44" y="372.53" width="13.64" height="12.11" fill="#a82e5f"/>
<rect x="449.48" y="372.53" width="13.64" height="12.11" fill="#932667"/>
<rect x="462.52" y="372.53" width="13.64" height="12.11" fill="#7f1e6c"/>
<rect x="475.56" y="372.53" width="13.64" height="12.11" fill="#7f1e6c"/>
<rect x="488.60" y="372.53" width="13.64" height="12.11" fill="#bc3754"/>
<rect x="501.64" y="372.53" width="13.64" height="12.11" fill="#a82e5f"/>
<rect x="514.68" y="372.53" width="13.64" height="12.11" fill="#6a176e"/>
<rect x="527.72" y="372.53" width="13.64" height="12.11" fill="#7f1e6c"/>
<rect x="540.76" y="372.53" width="13.64" height="12.11" fill="#932667"/>
<rect x="553.80" y="372.53" width="13.64" height="12.11" fill="#a82e5f"/>
<rect x="566.84" y="372.53" width="13.64" height="12.11" fill="#932667"/>
<rect x="579.88" y="372.53" width="13.64" height="12.11" fill="#7f1e6c"/>
<rect x="293.00" y="384.04" width="13.64" height="12.11" fill="#f98e09"/>
<rect x="306.04" y="384.04" width="13.64" height="12.11" fill="#dd513a"/>
<rect x="319.08" y="384.04" width="13.64" height="12.11" fill="#ea632a"/>
<rect x="332.12" y="384.04" width="13.64" height="12.11" fill="#f37819"/>
<rect x="345.16" y="384.04" width="13.64" height="12.11" fill="#57106e"/>
<rect x="358.20" y="384.04" width="13.64" height="12.11" fill="#6a176e"/>
<rect x="371.24" y="384.04" width="13.64" height="12.11" fill="#6a176e"/>
<rect x="384.28" y="384.04" width="13.64" height="12.11" fill="#7f1e6c"/>
<rect x="397.32" y="384.04" width="13.64" height="12.11" fill="#57106e"/>
<rect x="410.36" y="384.04" width="13.64" height="12.11" fill="#7f1e6c"/>
<rect x="423.40" y="384.04" width="13.64" height="12.11" fill="#6a176e"/>
<rect x="436.44" y="384.04" width="13.64" height="12.11" fill="#a82e5f"/>
<rect x="449.48" y="384.04" width="13.64" height="12.11" fill="#7f1e6c"/>
<rect x="462.52" y="384.04" width="13.64" height="12.11" fill="#57106e"/>
<rect x="475.56" y="384.04" width="13.64" height="12.11" fill="#57106e"/>
<rect x="488.60" y="384.04" width="13.64" height="12.11" fill="#57106e"/>
<rect x="501.64" y="384.04" width="13.64" height="12.11" fill="#57106e"/>
<rect x="514.68" y="384.04" width="13.64" height="12.11" fill="#57106e"/>
<rect x="527.72" y="384.04" width="13.64" height="12.11" fill="#932667"/>
<rect x="540.76" y="384.04" width="13.64" height="12.11" fill="#7f1e6c"/>
<rect x="553.80" y="384.04" width="13.64" height="12.11" fill="#a82e5f"/>
<rect x="566.84" y="384.04" width="13.64" height="12.11" fill="#932667"/>
<rect x="579.88" y="384.04" width="13.64" height="12.11" fill="#932667"/>
<rect x="592.92" y="384.04" width="13.64" height="12.11" fill="#7f1e6c"/>
<rect x="306.04" y="395.55" width="13.64" height="12.11" fill="#f98e09"/>
<rect x="319.08" y="395.55" width="13.64" height="12.11" fill="#f98e09"/>
<rect x="332.12" y="395.55" width="13.64" height="12.11" fill="#f98e09"/>
<rect x="345.16" y="395.55" width="13.64" height="12.11" fill="#7f1e6c"/>
<rect x="358.20" y="395.55" width="13.64" height="12.11" fill="#6a176e"/>
<rect x="371.24" y="395.55" width="13.64" height="12.11" fill="#6a176e"/>
<rect x="384.28" y="395.55" width="13.64" height="12.11" fill="#6a176e"/>
<rect x="397.32" y="395.55" width="13.64" height="12.11" fill="#420a68"/>
<rect x="410.36" y="395.55" width="13.64" height="12.11" fill="#6a176e"/>
<rect x="423.40" y="395.55" width="13.64" height="12.11" fill="#6a176e"/>
<rect x="436.44" y="395.55" width="13.64" height="12.11" fill="#a82e5f"/>
<rect x="449.48" y="395.55" width="13.64" height="12.11" fill="#57106e"/>
<rect x="462.52" y="395.55" width="13.64" height="12.11" fill="#420a68"/>
<rect x="475.56" y="395.55" width="13.64" height="12.11" fill="#420a68"/>
<rect x="488.60" y="395.55" width="13.64" height="12.11" fill="#420a68"/>
<rect x="501.64" y="395.55" width="13.64" height="12.11" fill="#57106e"/>
<rect x="514.68" y="395.55" width="13.64" height="12.11" fill="#57106e"/>
<rect x="527.72" y="395.55" width="13.64" height="12.11" fill="#932667"/>
<rect x="540.76" y="395.55" width="13.64" height="12.11" fill="#7f1e6c"/>
<rect x="553.80" y="395.55" width="13.64" height="12.11" fill="#a82e5f"/>
<rect x="566.84" y="395.55" width="13.64" height="12.11" fill="#57106e"/>
<rect x="579.88" y="395.55" width="13.64" height="12.11" fill="#7f1e6c"/>
<rect x="592.92" y="395.55" width="13.64" height="12.11" fill="#7f1e6c"/>
<rect x="319.08" y="407.06" width="13.64" height="12.11" fill="#f98e09"/>
<rect x="332.12" y="407.06" width="13.64" height="12.11" fill="#f98e09"/>
<rect x="345.16" y="407.06" width="13.64" height="12.11" fill="#bc3754"/>
<rect x="358.20" y="407.06" width="13.64" height="12.11" fill="#6a176e"/>
<rect x="371.24" y="407.06" width="13.64" height="12.11" fill="#6a176e"/>
<rect x="384.28" y="407.06" width="13.64" height="12.11" fill="#6a176e"/>
<rect x="397.32" y="407.06" width="13.64" height="12.11" fill="#420a68"/>
<rect x="410.36" y="407.06" width="13.64" height="12.11" fill="#57106e"/>
<rect x="423.40" y="407.06" width="13.64" height="12.11" fill="#6a176e"/>
<rect x="436.44" y="407.06" width="13.64" height="12.11" fill="#6a176e"/>
<rect x="449.48" y="407.06" width="13.64" height="12.11" fill="#57106e"/>
<rect x="462.52" y="407.06" width="13.64" height="12.11" fill="#7f1e6c"/>
<rect x="475.56" y="407.06" width="13.64" height="12.11" fill="#6a176e"/>
<rect x="488.60" y="407.06" width="13.64" height="12.11" fill="#6a176e"/>
<rect x="501.64" y="407.06" width="13.64" height="12.11" fill="#6a176e"/>
<rect x="514.68" y="407.06" width="13.64" height="12.11" fill="#57106e"/>
<rect x="527.72" y="407.06" width="13.64" height="12.11" fill="#6a176e"/>
<rect x="540.76" y="407.06" width="13.64" height="12.11" fill="#6a176e"/>
<rect x="553.80" y="407.06" width="13.64" height="12.11" fill="#a82e5f"/>
<rect x="566.84" y="407.06" width="13.64" height="12.11" fill="#7f1e6c"/>
<rect x="579.88" y="407.06" width="13.64" height="12.11" fill="#7f1e6c"/>
<rect x="592.92" y="407.06" width="13.64" height="12.11" fill="#932667"/>
<rect x="605.96" y="407.06" width="13.64" height="12.11" fill="#7f1e6c"/>
<rect x="319.08" y="418.57" width="13.64" height="12.11" fill="#fca50a"/>
<rect x="332.12" y="418.57" width="13.64" height="12.11" fill="#fca50a"/>
<rect x="345.16" y="418.57" width="13.64" height="12.11" fill="#ea632a"/>
<rect x="358.20" y="418.57" width="13.64" height="12.11" fill="#cc4248"/>
<rect x="371.24" y="418.57" width="13.64" height="12.11" fill="#a82e5f"/>
<rect x="384.28" y="418.57" width="13.64" height="12.11" fill="#57106e"/>
<rect x="397.32" y="418.57" width="13.64" height="12.11" fill="#2b0b57"/>
<rect x="410.36" y="418.57" width="13.64" height="12.11" fill="#420a68"/>
<rect x="423.40" y="418.57" width="13.64" height="12.11" fill="#57106e"/>
<rect x="436.44" y="418.57" width="13.64" height="12.11" fill="#420a68"/>
<rect x="449.48" y="418.57" width="13.64" height="12.11" fill="#420a68"/>
<rect x="462.52" y="418.57" width="13.64" height="12.11" fill="#57106e"/>
<rect x="475.56" y="418.57" width="13.64" height="12.11" fill="#57106e"/>
<rect x="488.60" y="418.57" width="13.64" height="12.11" fill="#bc3754"/>
<rect x="501.64" y="418.57" width="13.64" height="12.11" fill="#420a68"/>
<rect x="514.68" y="418.57" width="13.64" height="12.11" fill="#7f1e6c"/>
<rect x="527.72" y="418.57" width="13.64" height="12.11" fill="#6a176e"/>
<rect x="540.76" y="418.57" width="13.64" height="12.11" fill="#6a176e"/>
<rect x="553.80" y="418.57" width="13.64" height="12.11" fill="#a82e5f"/>
<rect x="566.84" y="418.57" width="13.64" height="12.11" fill="#bc3754"/>
<rect x="579.88" y="418.57" width="13.64" height="12.11" fill="#6a176e"/>
<rect x="592.92" y="418.57" width="13.64" height="12.11" fill="#6a176e"/>
<rect x="605.96" y="418.57" width="13.64" height="12.11" fill="#6a176e"/>
<rect x="619.00" y="418.57" width="13.64" height="12.11" fill="#7f1e6c"/>
<rect x="332.12" y="430.08" width="13.64" height="12.11" fill="#fca50a"/>
<rect x="345.16" y="430.08" width="13.64" height="12.11" fill="#f98e09"/>
<rect x="358.20" y="430.08" width="13.64" height="12.11" fill="#ea632a"/>
<rect x="371.24" y="430.08" width="13.64" height="12.11" fill="#cc4248"/>
<rect x="384.28" y="430.08" width="13.64" height="12.11" fill="#7f1e6c"/>
<rect x="397.32" y="430.08" width="13.64" height="12.11" fill="#57106e"/>
<rect x="410.36" y="430.08" width="13.64" height="12.11" fill="#2b0b57"/>
<rect x="423.40" y="430.08" width="13.64" height="12.11" fill="#57106e"/>
<rect x="436.44" y="430.08" width="13.64" height="12.11" fill="#420a68"/>
<rect x="449.48" y="430.08" width="13.64" height="12.11" fill="#57106e"/>
<rect x="462.52" y="430.08" width="13.64" height="12.11" fill="#57106e"/>
<rect x="475.56" y="430.08" width="13.64" height="12.11" fill="#57106e"/>
<rect x="488.60" y="430.08" width="13.64" height="12.11" fill="#6a176e"/>
<rect x="501.64" y="430.08" width="13.64" height="12.11" fill="#420a68"/>
<rect x="514.68" y="430.08" width="13.64" height="12.11" fill="#7f1e6c"/>
<rect x="527.72" y="430.08" width="13.64" height="12.11" fill="#6a176e"/>
<rect x="540.76" y="430.08" width="13.64" height="12.11" fill="#7f1e6c"/>
<rect x="553.80" y="430.08" width="13.64" height="12.11" fill="#57106e"/>
<rect x="566.84" y="430.08" width="13.64" height="12.11" fill="#420a68"/>
<rect x="579.88" y="430.08" width="13.64" height="12.11" fill="#57106e"/>
<rect x="592.92" y="430.08" width="13.64" height="12.11" fill="#6a176e"/>
<rect x="605.96" y="430.08" width="13.64" height="12.11" fill="#57106e"/>
<rect x="619.00" y="430.08" width="13.64" height="12.11" fill="#6a176e"/>
<rect x="345.16" y="441.59" width="13.64" height="12.11" fill="#fca50a"/>
<rect x="358.20" y="441.59" width="13.64" height="12.11" fill="#f98e09"/>
<rect x="371.24" y="441.59" width="13.64" height="12.11" fill="#f37819"/>
<rect x="384.28" y="441.59" width="13.64" height="12.11" fill="#cc4248"/>
<rect x="397.32" y="441.59" width="13.64" height="12.11" fill="#6a176e"/>
<rect x="410.36" y="441.59" width="13.64" height="12.11" fill="#420a68"/>
<rect x="423.40" y="441.59" width="13.64" height="12.11" fill="#160b39"/>
<rect x="436.44" y="441.59" width="13.64" height="12.11" fill="#2b0b57"/>
<rect x="449.48" y="441.59" width="13.64" height="12.11" fill="#57106e"/>
<rect x="462.52" y="441.59" width="13.64" height="12.11" fill="#57106e"/>
<rect x="475.56" y="441.59" width="13.64" height="12.11" fill="#57106e"/>
<rect x="488.60" y="441.59" width="13.64" height="12.11" fill="#dd513a"/>
<rect x="501.64" y="441.59" width="13.64" height="12.11" fill="#a82e5f"/>
<rect x="514.68" y="441.59" width="13.64" height="12.11" fill="#2b0b57"/>
<rect x="527.72" y="441.59" width="13.64" height="12.11" fill="#7f1e6c"/>
<rect x="540.76" y="441.59" width="13.64" height="12.11" fill="#7f1e6c"/>
<rect x="553.80" y="441.59" width="13.64" height="12.11" fill="#57106e"/>
<rect x="566.84" y="441.59" width="13.64" height="12.11" fill="#420a68"/>
<rect x="579.88" y="441.59" width="13.64" height="12.11" fill="#57106e"/>
<rect x="592.92" y="441.59" width="13.64" height="12.11" fill="#6a176e"/>
<rect x="605.96" y="441.59" width="13.64" height="12.11" fill="#6a176e"/>
<rect x="619.00" y="441.59" width="13.64" height="12.11" fill="#420a68"/>
<rect x="632.04" y="441.59" width="13.64" height="12.11" fill="#57106e"/>
<rect x="371.24" y="453.10" width="13.64" height="12.11" fill="#f98e09"/>
<rect x="384.28" y="453.10" width="13.64" height="12.11" fill="#f37819"/>
<rect x="397.32" y="453.10" width="13.64" height="12.11" fill="#cc4248"/>
<rect x="410.36" y="453.10" width="13.64" height="12.11" fill="#57106e"/>
<rect x="423.40" y="453.10" width="13.64" height="12.11" fill="#160b39"/>
<rect x="436.44" y="453.10" width="13.64" height="12.11" fill="#2b0b57"/>
<rect x="449.48" y="453.10" width="13.64" height="12.11" fill="#57106e"/>
<rect x="462.52" y="453.10" width="13.64" height="12.11" fill="#57106e"/>
<rect x="475.56" y="453.10" width="13.64" height="12.11" fill="#57106e"/>
<rect x="488.60" y="453.10" width="13.64" height="12.11" fill="#ea632a"/>
<rect x="501.64" y="453.10" width="13.64" height="12.11" fill="#932667"/>
<rect x="514.68" y="453.10" width="13.64" height="12.11" fill="#160b39"/>
<rect x="527.72" y="453.10" width="13.64" height="12.11" fill="#57106e"/>
<rect x="540.76" y="453.10" width="13.64" height="12.11" fill="#57106e"/>
<rect x="553.80" y="453.10" width="13.64" height="12.11" fill="#420a68"/>
<rect x="566.84" y="453.10" width="13.64" height="12.11" fill="#7f1e6c"/>
<rect x="579.88" y="453.10" width="13.64" height="12.11" fill="#420a68"/>
<rect x="592.92" y="453.10" width="13.64" height="12.11" fill="#932667"/>
<rect x="605.96" y="453.10" width="13.64" height="12.11" fill="#57106e"/>
<rect x="619.00" y="453.10" width="13.64" height="12.11" fill="#6a176e"/>
<rect x="632.04" y="453.10" width="13.64" height="12.11" fill="#420a68"/>
<rect x="384.28" y="464.61" width="13.64" height="12.11" fill="#f37819"/>
<rect x="397.32" y="464.61" width="13.64" height="12.11" fill="#ea632a"/>
<rect x="410.36" y="464.61" width="13.64" height="12.11" fill="#bc3754"/>
<rect x="423.40" y="464.61" width="13.64" height="12.11" fill="#420a68"/>
<rect x="436.44" y="464.61" width="13.64" height="12.11" fill="#420a68"/>
<rect x="449.48" y="464.61" width="13.64" height="12.11" fill="#420a68"/>
<rect x="462.52" y="464.61" width="13.64" height="12.11" fill="#420a68"/>
<rect x="475.56" y="464.61" width="13.64" height="12.11" fill="#160b39"/>
<rect x="488.60" y="464.61" width="13.64" height="12.11" fill="#160b39"/>
<rect x="501.64" y="464.61" width="13.64" height="12.11" fill="#160b39"/>
<rect x="514.68" y="464.61" width="13.64" height="12.11" fill="#160b39"/>
<rect x="527.72" y="464.61" width="13.64" height="12.11" fill="#160b39"/>
<rect x="540.76" y="464.61" width="13.64" height="12.11" fill="#2b0b57"/>
<rect x="553.80" y="464.61" width="13.64" height="12.11" fill="#420a68"/>
<rect x="566.84" y="464.61" width="13.64" height="12.11" fill="#7f1e6c"/>
<rect x="579.88" y="464.61" width="13.64" height="12.11" fill="#420a68"/>
<rect x="592.92" y="464.61" width="13.64" height="12.11" fill="#2b0b57"/>
<rect x="605.96" y="464.61" width="13.64" height="12.11" fill="#57106e"/>
<rect x="619.00" y="464.61" width="13.64" height="12.11" fill="#57106e"/>
<rect x="632.04" y="464.61" width="13.64" height="12.11" fill="#6a176e"/>
<rect x="645.08" y="464.61" width="13.64" height="12.11" fill="#57106e"/>
<rect x="410.36" y="476.12" width="13.64" height="12.11" fill="#dd513a"/>
<rect x="423.40" y="476.12" width="13.64" height="12.11" fill="#a82e5f"/>
<rect x="436.44" y="476.12" width="13.64" height="12.11" fill="#160b39"/>
<rect x="449.48" y="476.12" width="13.64" height="12.11" fill="#2b0b57"/>
<rect x="462.52" y="476.12" width="13.64" height="12.11" fill="#2b0b57"/>
<rect x="475.56" y="476.12" width="13.64" height="12.11" fill="#160b39"/>
<rect x="488.60" y="476.12" width="13.64" height="12.11" fill="#160b39"/>
<rect x="501.64" y="476.12" width="13.64" height="12.11" fill="#160b39"/>
<rect x="514.68" y="476.12" width="13.64" height="12.11" fill="#160b39"/>
<rect x="527.72" y="476.12" width="13.64" height="12.11" fill="#420a68"/>
<rect x="540.76" y="476.12" width="13.64" height="12.11" fill="#420a68"/>
<rect x="553.80" y="476.12" width="13.64" height="12.11" fill="#420a68"/>
<rect x="566.84" y="476.12" width="13.64" height="12.11" fill="#160b39"/>
<rect x="579.88" y="476.12" width="13.64" height="12.11" fill="#2b0b57"/>
<rect x="592.92" y="476.12" width="13.64" height="12.11" fill="#2b0b57"/>
<rect x="605.96" y="476.12" width="13.64" height="12.11" fill="#6a176e"/>
<rect x="619.00" y="476.12" width="13.64" height="12.11" fill="#7f1e6c"/>
<rect x="632.04" y="476.12" width="13.64" height="12.11" fill="#6a176e"/>
<rect x="645.08" y="476.12" width="13.64" height="12.11" fill="#57106e"/>
<rect x="436.44" y="487.63" width="13.64" height="12.11" fill="#7f1e6c"/>
<rect x="449.48" y="487.63" width="13.64" height="12.11" fill="#160b39"/>
<rect x="462.52" y="487.63" width="13.64" height="12.11" fill="#2b0b57"/>
<rect x="475.56" y="487.63" width="13.64" height="12.11" fill="#07051b"/>
<rect x="488.60" y="487.63" width="13.64" height="12.11" fill="#07051b"/>
<rect x="501.64" y="487.63" width="13.64" height="12.11" fill="#160b39"/>
<rect x="514.68" y="487.63" width="13.64" height="12.11" fill="#160b39"/>
<rect x="527.72" y="487.63" width="13.64" height="12.11" fill="#420a68"/>
<rect x="540.76" y="487.63" width="13.64" height="12.11" fill="#420a68"/>
<rect x="553.80" y="487.63" width="13.64" height="12.11" fill="#2b0b57"/>
<rect x="566.84" y="487.63" width="13.64" height="12.11" fill="#160b39"/>
<rect x="579.88" y="487.63" width="13.64" height="12.11" fill="#160b39"/>
<rect x="592.92" y="487.63" width="13.64" height="12.11" fill="#2b0b57"/>
<rect x="605.96" y="487.63" width="13.64" height="12.11" fill="#932667"/>
<rect x="619.00" y="487.63" width="13.64" height="12.11" fill="#420a68"/>
<rect x="632.04" y="487.63" width="13.64" height="12.11" fill="#420a68"/>
<rect x="645.08" y="487.63" width="13.64" height="12.11" fill="#57106e"/>
<rect x="449.48" y="499.14" width="13.64" height="12.11" fill="#420a68"/>
<rect x="462.52" y="499.14" width="13.64" height="12.11" fill="#000004"/>
<rect x="475.56" y="499.14" width="13.64" height="12.11" fill="#000004"/>
<rect x="488.60" y="499.14" width="13.64" height="12.11" fill="#000004"/>
<rect x="501.64" y="499.14" width="13.64" height="12.11" fill="#07051b"/>
<rect x="514.68" y="499.14" width="13.64" height="12.11" fill="#160b39"/>
<rect x="527.72" y="499.14" width="13.64" height="12.11" fill="#160b39"/>
<rect x="540.76" y="499.14" width="13.64" height="12.11" fill="#160b39"/>
<rect x="553.80" y="499.14" width="13.64" height="12.11" fill="#160b39"/>
<rect x="566.84" y="499.14" width="13.64" height="12.11" fill="#160b39"/>
<rect x="579.88" y="499.14" width="13.64" height="12.11" fill="#6a176e"/>
<rect x="592.92" y="499.14" width="13.64" height="12.11" fill="#2b0b57"/>
<rect x="605.96" y="499.14" width="13.64" height="12.11" fill="#160b39"/>
<rect x="619.00" y="499.14" width="13.64" height="12.11" fill="#420a68"/>
<rect x="632.04" y="499.14" width="13.64" height="12.11" fill="#420a68"/>
<rect x="645.08" y="499.14" width="13.64" height="12.11" fill="#57106e"/>
<rect x="475.56" y="510.65" width="13.64" height="12.11" fill="#000004"/>
<rect x="488.60" y="510.65" width="13.64" height="12.11" fill="#000004"/>
<rect x="501.64" y="510.65" width="13.64" height="12.11" fill="#000004"/>
<rect x="514.68" y="510.65" width="13.64" height="12.11" fill="#07051b"/>
<rect x="527.72" y="510.65" width="13.64" height="12.11" fill="#07051b"/>
<rect x="540.76" y="510.65" width="13.64" height="12.11" fill="#07051b"/>
<rect x="553.80" y="510.65" width="13.64" height="12.11" fill="#160b39"/>
<rect x="566.84" y="510.65" width="13.64" height="12.11" fill="#160b39"/>
<rect x="579.88" y="510.65" width="13.64" height="12.11" fill="#cc4248"/>
<rect x="592.92" y="510.65" width="13.64" height="12.11" fill="#6a176e"/>
<rect x="605.96" y="510.65" width="13.64" height="12.11" fill="#160b39"/>
<rect x="619.00" y="510.65" width="13.64" height="12.11" fill="#420a68"/>
<rect x="632.04" y="510.65" width="13.64" height="12.11" fill="#57106e"/>
<rect x="645.08" y="510.65" width="13.64" height="12.11" fill="#420a68"/>
<rect x="514.68" y="522.16" width="13.64" height="12.11" fill="#000004"/>
<rect x="527.72" y="522.16" width="13.64" height="12.11" fill="#000004"/>
<rect x="540.76" y="522.16" width="13.64" height="12.11" fill="#07051b"/>
<rect x="553.80" y="522.16" width="13.64" height="12.11" fill="#07051b"/>
<rect x="566.84" y="522.16" width="13.64" height="12.11" fill="#07051b"/>
<rect x="579.88" y="522.16" width="13.64" height="12.11" fill="#ea632a"/>
<rect x="592.92" y="522.16" width="13.64" height="12.11" fill="#cc4248"/>
<rect x="605.96" y="522.16" width="13.64" height="12.11" fill="#57106e"/>
<rect x="619.00" y="522.16" width="13.64" height="12.11" fill="#160b39"/>
<rect x="632.04" y="522.16" width="13.64" height="12.11" fill="#57106e"/>
<rect x="553.80" y="533.67" width="13.64" height="12.11" fill="#000004"/>
<rect x="566.84" y="533.67" width="13.64" height="12.11" fill="#000004"/>
<rect x="579.88" y="533.67" width="13.64" height="12.11" fill="#cc4248"/>
<rect x="592.92" y="533.67" width="13.64" height="12.11" fill="#cc4248"/>
<rect x="605.96" y="533.67" width="13.64" height="12.11" fill="#bc3754"/>
<rect x="619.00" y="533.67" width="13.64" height="12.11" fill="#2b0b57"/>
<rect x="632.04" y="533.67" width="13.64" height="12.11" fill="#2b0b57"/>
<rect x="104.55" y="3.6" width="646.15" height="667.60" fill="none" stroke="#000" stroke-width="3.2"/>
<line x1="94.45" y1="32.00" x2="102.95" y2="32.00" stroke="#262626" stroke-width="3"/>
<text x="86.80" y="41.60" font-size="27" fill="#4d4d4d" text-anchor="end">100</text>
<line x1="94.45" y1="77.43" x2="102.95" y2="77.43" stroke="#262626" stroke-width="3"/>
<text x="86.80" y="87.03" font-size="27" fill="#4d4d4d" text-anchor="end">80</text>
<line x1="94.45" y1="136.00" x2="102.95" y2="136.00" stroke="#262626" stroke-width="3"/>
<text x="86.80" y="145.60" font-size="27" fill="#4d4d4d" text-anchor="end">60</text>
<line x1="94.45" y1="218.55" x2="102.95" y2="218.55" stroke="#262626" stroke-width="3"/>
<text x="86.80" y="228.15" font-size="27" fill="#4d4d4d" text-anchor="end">40</text>
<line x1="94.45" y1="277.13" x2="102.95" y2="277.13" stroke="#262626" stroke-width="3"/>
<text x="86.80" y="286.73" font-size="27" fill="#4d4d4d" text-anchor="end">30</text>
<line x1="94.45" y1="359.68" x2="102.95" y2="359.68" stroke="#262626" stroke-width="3"/>
<text x="86.80" y="369.28" font-size="27" fill="#4d4d4d" text-anchor="end">20</text>
<line x1="94.45" y1="500.80" x2="102.95" y2="500.80" stroke="#262626" stroke-width="3"/>
<text x="86.80" y="510.40" font-size="27" fill="#4d4d4d" text-anchor="end">10</text>
<line x1="94.45" y1="641.92" x2="102.95" y2="641.92" stroke="#262626" stroke-width="3"/>
<text x="86.80" y="651.52" font-size="27" fill="#4d4d4d" text-anchor="end">5</text>
<line x1="212.80" y1="672.80" x2="212.80" y2="680.80" stroke="#262626" stroke-width="3"/>
<text x="212.80" y="708.20" font-size="27" fill="#4d4d4d" text-anchor="middle">100</text>
<line x1="399.80" y1="672.80" x2="399.80" y2="680.80" stroke="#262626" stroke-width="3"/>
<text x="399.80" y="708.20" font-size="27" fill="#4d4d4d" text-anchor="middle">500</text>
<line x1="561.40" y1="672.80" x2="561.40" y2="680.80" stroke="#262626" stroke-width="3"/>
<text x="561.40" y="708.20" font-size="27" fill="#4d4d4d" text-anchor="middle">1000</text>
<line x1="722.50" y1="672.80" x2="722.50" y2="680.80" stroke="#262626" stroke-width="3"/>
<text x="722.50" y="708.20" font-size="27" fill="#4d4d4d" text-anchor="middle">8000</text>
<text x="346.50" y="754.80" font-size="34" fill="#000">Trees ha<tspan font-size="22" dx="3" dy="-16">&#8722;1</tspan></text>
<text transform="translate(28.20,337.80) rotate(-90)" x="0" y="0" font-size="34" fill="#000" text-anchor="middle">Reineke's diameter (cm)</text>
<text x="657.20" y="62.80" font-size="48" fill="#000">A.</text>
<rect x="944.10" y="100.10" width="15.03" height="14.55" fill="#7f1e6c"/>
<rect x="958.53" y="100.10" width="15.03" height="14.55" fill="#7f1e6c"/>
<rect x="972.96" y="100.10" width="15.03" height="14.55" fill="#7f1e6c"/>
<rect x="987.39" y="100.10" width="15.03" height="14.55" fill="#932667"/>
<rect x="1001.82" y="100.10" width="15.03" height="14.55" fill="#932667"/>
<rect x="1016.25" y="100.10" width="15.03" height="14.55" fill="#932667"/>
<rect x="1030.68" y="100.10" width="15.03" height="14.55" fill="#932667"/>
<rect x="944.10" y="114.05" width="15.03" height="14.55" fill="#7f1e6c"/>
<rect x="958.53" y="114.05" width="15.03" height="14.55" fill="#7f1e6c"/>
<rect x="972.96" y="114.05" width="15.03" height="14.55" fill="#7f1e6c"/>
<rect x="987.39" y="114.05" width="15.03" height="14.55" fill="#7f1e6c"/>
<rect x="1001.82" y="114.05" width="15.03" height="14.55" fill="#932667"/>
<rect x="1016.25" y="114.05" width="15.03" height="14.55" fill="#932667"/>
<rect x="1030.68" y="114.05" width="15.03" height="14.55" fill="#932667"/>
<rect x="1045.11" y="114.05" width="15.03" height="14.55" fill="#932667"/>
<rect x="944.10" y="127.99" width="15.03" height="14.55" fill="#7f1e6c"/>
<rect x="958.53" y="127.99" width="15.03" height="14.55" fill="#6a176e"/>
<rect x="972.96" y="127.99" width="15.03" height="14.55" fill="#7f1e6c"/>
<rect x="987.39" y="127.99" width="15.03" height="14.55" fill="#7f1e6c"/>
<rect x="1001.82" y="127.99" width="15.03" height="14.55" fill="#932667"/>
<rect x="1016.25" y="127.99" width="15.03" height="14.55" fill="#932667"/>
<rect x="1030.68" y="127.99" width="15.03" height="14.55" fill="#932667"/>
<rect x="1045.11" y="127.99" width="15.03" height="14.55" fill="#932667"/>
<rect x="1059.54" y="127.99" width="15.03" height="14.55" fill="#7f1e6c"/>
<rect x="944.10" y="141.94" width="15.03" height="14.55" fill="#6a176e"/>
<rect x="958.53" y="141.94" width="15.03" height="14.55" fill="#6a176e"/>
<rect x="972.96" y="141.94" width="15.03" height="14.55" fill="#6a176e"/>
<rect x="987.39" y="141.94" width="15.03" height="14.55" fill="#7f1e6c"/>
<rect x="1001.82" y="141.94" width="15.03" height="14.55" fill="#932667"/>
<rect x="1016.25" y="141.94" width="15.03" height="14.55" fill="#932667"/>
<rect x="1030.68" y="141.94" width="15.03" height="14.55" fill="#932667"/>
<rect x="1045.11" y="141.94" width="15.03" height="14.55" fill="#932667"/>
<rect x="1059.54" y="141.94" width="15.03" height="14.55" fill="#932667"/>
<rect x="1073.97" y="141.94" width="15.03" height="14.55" fill="#7f1e6c"/>
<rect x="944.10" y="155.89" width="15.03" height="14.55" fill="#6a176e"/>
<rect x="958.53" y="155.89" width="15.03" height="14.55" fill="#6a176e"/>
<rect x="972.96" y="155.89" width="15.03" height="14.55" fill="#7f1e6c"/>
<rect x="987.39" y="155.89" width="15.03" height="14.55" fill="#7f1e6c"/>
<rect x="1001.82" y="155.89" width="15.03" height="14.55" fill="#7f1e6c"/>
<rect x="1016.25" y="155.89" width="15.03" height="14.55" fill="#932667"/>
<rect x="1030.68" y="155.89" width="15.03" height="14.55" fill="#932667"/>
<rect x="1045.11" y="155.89" width="15.03" height="14.55" fill="#932667"/>
<rect x="1059.54" y="155.89" width="15.03" height="14.55" fill="#932667"/>
<rect x="1073.97" y="155.89" width="15.03" height="14.55" fill="#932667"/>
<rect x="1088.40" y="155.89" width="15.03" height="14.55" fill="#7f1e6c"/>
<rect x="944.10" y="169.83" width="15.03" height="14.55" fill="#6a176e"/>
<rect x="958.53" y="169.83" width="15.03" height="14.55" fill="#6a176e"/>
<rect x="972.96" y="169.83" width="15.03" height="14.55" fill="#57106e"/>
<rect x="987.39" y="169.83" width="15.03" height="14.55" fill="#6a176e"/>
<rect x="1001.82" y="169.83" width="15.03" height="14.55" fill="#6a176e"/>
<rect x="1016.25" y="169.83" width="15.03" height="14.55" fill="#932667"/>
<rect x="1030.68" y="169.83" width="15.03" height="14.55" fill="#932667"/>
<rect x="1045.11" y="169.83" width="15.03" height="14.55" fill="#932667"/>
<rect x="1059.54" y="169.83" width="15.03" height="14.55" fill="#932667"/>
<rect x="1073.97" y="169.83" width="15.03" height="14.55" fill="#932667"/>
<rect x="1088.40" y="169.83" width="15.03" height="14.55" fill="#932667"/>
<rect x="1102.83" y="169.83" width="15.03" height="14.55" fill="#932667"/>
<rect x="944.10" y="183.78" width="15.03" height="14.55" fill="#57106e"/>
<rect x="958.53" y="183.78" width="15.03" height="14.55" fill="#7f1e6c"/>
<rect x="972.96" y="183.78" width="15.03" height="14.55" fill="#7f1e6c"/>
<rect x="987.39" y="183.78" width="15.03" height="14.55" fill="#57106e"/>
<rect x="1001.82" y="183.78" width="15.03" height="14.55" fill="#7f1e6c"/>
<rect x="1016.25" y="183.78" width="15.03" height="14.55" fill="#6a176e"/>
<rect x="1030.68" y="183.78" width="15.03" height="14.55" fill="#7f1e6c"/>
<rect x="1045.11" y="183.78" width="15.03" height="14.55" fill="#932667"/>
<rect x="1059.54" y="183.78" width="15.03" height="14.55" fill="#932667"/>
<rect x="1073.97" y="183.78" width="15.03" height="14.55" fill="#932667"/>
<rect x="1088.40" y="183.78" width="15.03" height="14.55" fill="#932667"/>
<rect x="1102.83" y="183.78" width="15.03" height="14.55" fill="#932667"/>
<rect x="1117.26" y="183.78" width="15.03" height="14.55" fill="#7f1e6c"/>
<rect x="944.10" y="197.73" width="15.03" height="14.55" fill="#420a68"/>
<rect x="958.53" y="197.73" width="15.03" height="14.55" fill="#7f1e6c"/>
<rect x="972.96" y="197.73" width="15.03" height="14.55" fill="#57106e"/>
<rect x="987.39" y="197.73" width="15.03" height="14.55" fill="#57106e"/>
<rect x="1001.82" y="197.73" width="15.03" height="14.55" fill="#6a176e"/>
<rect x="1016.25" y="197.73" width="15.03" height="14.55" fill="#7f1e6c"/>
<rect x="1030.68" y="197.73" width="15.03" height="14.55" fill="#6a176e"/>
<rect x="1045.11" y="197.73" width="15.03" height="14.55" fill="#dd513a"/>
<rect x="1059.54" y="197.73" width="15.03" height="14.55" fill="#932667"/>
<rect x="1073.97" y="197.73" width="15.03" height="14.55" fill="#932667"/>
<rect x="1088.40" y="197.73" width="15.03" height="14.55" fill="#932667"/>
<rect x="1102.83" y="197.73" width="15.03" height="14.55" fill="#932667"/>
<rect x="1117.26" y="197.73" width="15.03" height="14.55" fill="#932667"/>
<rect x="1131.69" y="197.73" width="15.03" height="14.55" fill="#7f1e6c"/>
<rect x="944.10" y="211.68" width="15.03" height="14.55" fill="#57106e"/>
<rect x="958.53" y="211.68" width="15.03" height="14.55" fill="#57106e"/>
<rect x="972.96" y="211.68" width="15.03" height="14.55" fill="#57106e"/>
<rect x="987.39" y="211.68" width="15.03" height="14.55" fill="#6a176e"/>
<rect x="1001.82" y="211.68" width="15.03" height="14.55" fill="#6a176e"/>
<rect x="1016.25" y="211.68" width="15.03" height="14.55" fill="#57106e"/>
<rect x="1030.68" y="211.68" width="15.03" height="14.55" fill="#7f1e6c"/>
<rect x="1045.11" y="211.68" width="15.03" height="14.55" fill="#932667"/>
<rect x="1059.54" y="211.68" width="15.03" height="14.55" fill="#7f1e6c"/>
<rect x="1073.97" y="211.68" width="15.03" height="14.55" fill="#932667"/>
<rect x="1088.40" y="211.68" width="15.03" height="14.55" fill="#932667"/>
<rect x="1102.83" y="211.68" width="15.03" height="14.55" fill="#932667"/>
<rect x="1117.26" y="211.68" width="15.03" height="14.55" fill="#932667"/>
<rect x="1131.69" y="211.68" width="15.03" height="14.55" fill="#932667"/>
<rect x="1146.12" y="211.68" width="15.03" height="14.55" fill="#7f1e6c"/>
<rect x="944.10" y="225.62" width="15.03" height="14.55" fill="#7f1e6c"/>
<rect x="958.53" y="225.62" width="15.03" height="14.55" fill="#7f1e6c"/>
<rect x="972.96" y="225.62" width="15.03" height="14.55" fill="#932667"/>
<rect x="987.39" y="225.62" width="15.03" height="14.55" fill="#420a68"/>
<rect x="1001.82" y="225.62" width="15.03" height="14.55" fill="#cc4248"/>
<rect x="1016.25" y="225.62" width="15.03" height="14.55" fill="#57106e"/>
<rect x="1030.68" y="225.62" width="15.03" height="14.55" fill="#7f1e6c"/>
<rect x="1045.11" y="225.62" width="15.03" height="14.55" fill="#6a176e"/>
<rect x="1059.54" y="225.62" width="15.03" height="14.55" fill="#7f1e6c"/>
<rect x="1073.97" y="225.62" width="15.03" height="14.55" fill="#932667"/>
<rect x="1088.40" y="225.62" width="15.03" height="14.55" fill="#a82e5f"/>
<rect x="1102.83" y="225.62" width="15.03" height="14.55" fill="#a82e5f"/>
<rect x="1117.26" y="225.62" width="15.03" height="14.55" fill="#932667"/>
<rect x="1131.69" y="225.62" width="15.03" height="14.55" fill="#932667"/>
<rect x="1146.12" y="225.62" width="15.03" height="14.55" fill="#932667"/>
<rect x="1160.55" y="225.62" width="15.03" height="14.55" fill="#932667"/>
<rect x="944.10" y="239.57" width="15.03" height="14.55" fill="#932667"/>
<rect x="958.53" y="239.57" width="15.03" height="14.55" fill="#dd513a"/>
<rect x="972.96" y="239.57" width="15.03" height="14.55" fill="#6a176e"/>
<rect x="987.39" y="239.57" width="15.03" height="14.55" fill="#420a68"/>
<rect x="1001.82" y="239.57" width="15.03" height="14.55" fill="#7f1e6c"/>
<rect x="1016.25" y="239.57" width="15.03" height="14.55" fill="#7f1e6c"/>
<rect x="1030.68" y="239.57" width="15.03" height="14.55" fill="#932667"/>
<rect x="1045.11" y="239.57" width="15.03" height="14.55" fill="#57106e"/>
<rect x="1059.54" y="239.57" width="15.03" height="14.55" fill="#932667"/>
<rect x="1073.97" y="239.57" width="15.03" height="14.55" fill="#6a176e"/>
<rect x="1088.40" y="239.57" width="15.03" height="14.55" fill="#7f1e6c"/>
<rect x="1102.83" y="239.57" width="15.03" height="14.55" fill="#932667"/>
<rect x="1117.26" y="239.57" width="15.03" height="14.55" fill="#932667"/>
<rect x="1131.69" y="239.57" width="15.03" height="14.55" fill="#932667"/>
<rect x="1146.12" y="239.57" width="15.03" height="14.55" fill="#932667"/>
<rect x="1160.55" y="239.57" width="15.03" height="14.55" fill="#932667"/>
<rect x="1174.98" y="239.57" width="15.03" height="14.55" fill="#932667"/>
<rect x="944.10" y="253.52" width="15.03" height="14.55" fill="#932667"/>
<rect x="958.53" y="253.52" width="15.03" height="14.55" fill="#420a68"/>
<rect x="972.96" y="253.52" width="15.03" height="14.55" fill="#dd513a"/>
<rect x="987.39" y="253.52" width="15.03" height="14.55" fill="#420a68"/>
<rect x="1001.82" y="253.52" width="15.03" height="14.55" fill="#6a176e"/>
<rect x="1016.25" y="253.52" width="15.03" height="14.55" fill="#a82e5f"/>
<rect x="1030.68" y="253.52" width="15.03" height="14.55" fill="#932667"/>
<rect x="1045.11" y="253.52" width="15.03" height="14.55" fill="#7f1e6c"/>
<rect x="1059.54" y="253.52" width="15.03" height="14.55" fill="#7f1e6c"/>
<rect x="1073.97" y="253.52" width="15.03" height="14.55" fill="#932667"/>
<rect x="1088.40" y="253.52" width="15.03" height="14.55" fill="#7f1e6c"/>
<rect x="1102.83" y="253.52" width="15.03" height="14.55" fill="#7f1e6c"/>
<rect x="1117.26" y="253.52" width="15.03" height="14.55" fill="#7f1e6c"/>
<rect x="1131.69" y="253.52" width="15.03" height="14.55" fill="#7f1e6c"/>
<rect x="1146.12" y="253.52" width="15.03" height="14.55" fill="#932667"/>
<rect x="1160.55" y="253.52" width="15.03" height="14.55" fill="#932667"/>
<rect x="1174.98" y="253.52" width="15.03" height="14.55" fill="#932667"/>
<rect x="1189.41" y="253.52" width="15.03" height="14.55" fill="#7f1e6c"/>
<rect x="944.10" y="267.46" width="15.03" height="14.55" fill="#932667"/>
<rect x="958.53" y="267.46" width="15.03" height="14.55" fill="#420a68"/>
<rect x="972.96" y="267.46" width="15.03" height="14.55" fill="#420a68"/>
<rect x="987.39" y="267.46" width="15.03" height="14.55" fill="#dd513a"/>
<rect x="1001.82" y="267.46" width="15.03" height="14.55" fill="#dd513a"/>
<rect x="1016.25" y="267.46" width="15.03" height="14.55" fill="#6a176e"/>
<rect x="1030.68" y="267.46" width="15.03" height="14.55" fill="#6a176e"/>
<rect x="1045.11" y="267.46" width="15.03" height="14.55" fill="#a82e5f"/>
<rect x="1059.54" y="267.46" width="15.03" height="14.55" fill="#bc3754"/>
<rect x="1073.97" y="267.46" width="15.03" height="14.55" fill="#7f1e6c"/>
<rect x="1088.40" y="267.46" width="15.03" height="14.55" fill="#7f1e6c"/>
<rect x="1102.83" y="267.46" width="15.03" height="14.55" fill="#bc3754"/>
<rect x="1117.26" y="267.46" width="15.03" height="14.55" fill="#7f1e6c"/>
<rect x="1131.69" y="267.46" width="15.03" height="14.55" fill="#7f1e6c"/>
<rect x="1146.12" y="267.46" width="15.03" height="14.55" fill="#932667"/>
<rect x="1160.55" y="267.46" width="15.03" height="14.55" fill="#932667"/>
<rect x="1174.98" y="267.46" width="15.03" height="14.55" fill="#932667"/>
<rect x="1189.41" y="267.46" width="15.03" height="14.55" fill="#932667"/>
<rect x="1203.84" y="267.46" width="15.03" height="14.55" fill="#7f1e6c"/>
<rect x="944.10" y="281.41" width="15.03" height="14.55" fill="#420a68"/>
<rect x="958.53" y="281.41" width="15.03" height="14.55" fill="#160b39"/>
<rect x="972.96" y="281.41" width="15.03" height="14.55" fill="#420a68"/>
<rect x="987.39" y="281.41" width="15.03" height="14.55" fill="#bc3754"/>
<rect x="1001.82" y="281.41" width="15.03" height="14.55" fill="#cc4248"/>
<rect x="1016.25" y="281.41" width="15.03" height="14.55" fill="#57106e"/>
<rect x="1030.68" y="281.41" width="15.03" height="14.55" fill="#7f1e6c"/>
<rect x="1045.11" y="281.41" width="15.03" height="14.55" fill="#dd513a"/>
<rect x="1059.54" y="281.41" width="15.03" height="14.55" fill="#57106e"/>
<rect x="1073.97" y="281.41" width="15.03" height="14.55" fill="#cc4248"/>
<rect x="1088.40" y="281.41" width="15.03" height="14.55" fill="#6a176e"/>
<rect x="1102.83" y="281.41" width="15.03" height="14.55" fill="#6a176e"/>
<rect x="1117.26" y="281.41" width="15.03" height="14.55" fill="#7f1e6c"/>
<rect x="1131.69" y="281.41" width="15.03" height="14.55" fill="#7f1e6c"/>
<rect x="1146.12" y="281.41" width="15.03" height="14.55" fill="#932667"/>
<rect x="1160.55" y="281.41" width="15.03" height="14.55" fill="#932667"/>
<rect x="1174.98" y="281.41" width="15.03" height="14.55" fill="#932667"/>
<rect x="1189.41" y="281.41" width="15.03" height="14.55" fill="#932667"/>
<rect x="1203.84" y="281.41" width="15.03" height="14.55" fill="#932667"/>
<rect x="1218.27" y="281.41" width="15.03" height="14.55" fill="#7f1e6c"/>
<rect x="944.10" y="295.36" width="15.03" height="14.55" fill="#57106e"/>
<rect x="958.53" y="295.36" width="15.03" height="14.55" fill="#160b39"/>
<rect x="972.96" y="295.36" width="15.03" height="14.55" fill="#dd513a"/>
<rect x="987.39" y="295.36" width="15.03" height="14.55" fill="#a82e5f"/>
<rect x="1001.82" y="295.36" width="15.03" height="14.55" fill="#2b0b57"/>
<rect x="1016.25" y="295.36" width="15.03" height="14.55" fill="#2b0b57"/>
<rect x="1030.68" y="295.36" width="15.03" height="14.55" fill="#932667"/>
<rect x="1045.11" y="295.36" width="15.03" height="14.55" fill="#6a176e"/>
<rect x="1059.54" y="295.36" width="15.03" height="14.55" fill="#932667"/>
<rect x="1073.97" y="295.36" width="15.03" height="14.55" fill="#932667"/>
<rect x="1088.40" y="295.36" width="15.03" height="14.55" fill="#932667"/>
<rect x="1102.83" y="295.36" width="15.03" height="14.55" fill="#932667"/>
<rect x="1117.26" y="295.36" width="15.03" height="14.55" fill="#932667"/>
<rect x="1131.69" y="295.36" width="15.03" height="14.55" fill="#932667"/>
<rect x="1146.12" y="295.36" width="15.03" height="14.55" fill="#7f1e6c"/>
<rect x="1160.55" y="295.36" width="15.03" height="14.55" fill="#932667"/>
<rect x="1174.98" y="295.36" width="15.03" height="14.55" fill="#932667"/>
<rect x="1189.41" y="295.36" width="15.03" height="14.55" fill="#932667"/>
<rect x="1203.84" y="295.36" width="15.03" height="14.55" fill="#932667"/>
<rect x="1218.27" y="295.36" width="15.03" height="14.55" fill="#7f1e6c"/>
<rect x="1232.70" y="295.36" width="15.03" height="14.55" fill="#932667"/>
<rect x="944.10" y="309.30" width="15.03" height="14.55" fill="#57106e"/>
<rect x="958.53" y="309.30" width="15.03" height="14.55" fill="#160b39"/>
<rect x="972.96" y="309.30" width="15.03" height="14.55" fill="#7f1e6c"/>
<rect x="987.39" y="309.30" width="15.03" height="14.55" fill="#420a68"/>
<rect x="1001.82" y="309.30" width="15.03" height="14.55" fill="#420a68"/>
<rect x="1016.25" y="309.30" width="15.03" height="14.55" fill="#420a68"/>
<rect x="1030.68" y="309.30" width="15.03" height="14.55" fill="#420a68"/>
<rect x="1045.11" y="309.30" width="15.03" height="14.55" fill="#6a176e"/>
<rect x="1059.54" y="309.30" width="15.03" height="14.55" fill="#57106e"/>
<rect x="1073.97" y="309.30" width="15.03" height="14.55" fill="#7f1e6c"/>
<rect x="1088.40" y="309.30" width="15.03" height="14.55" fill="#7f1e6c"/>
<rect x="1102.83" y="309.30" width="15.03" height="14.55" fill="#932667"/>
<rect x="1117.26" y="309.30" width="15.03" height="14.55" fill="#6a176e"/>
<rect x="1131.69" y="309.30" width="15.03" height="14.55" fill="#ea632a"/>
<rect x="1146.12" y="309.30" width="15.03" height="14.55" fill="#7f1e6c"/>
<rect x="1160.55" y="309.30" width="15.03" height="14.55" fill="#7f1e6c"/>
<rect x="1174.98" y="309.30" width="15.03" height="14.55" fill="#a82e5f"/>
<rect x="1189.41" y="309.30" width="15.03" height="14.55" fill="#932667"/>
<rect x="1203.84" y="309.30" width="15.03" height="14.55" fill="#932667"/>
<rect x="1218.27" y="309.30" width="15.03" height="14.55" fill="#932667"/>
<rect x="1232.70" y="309.30" width="15.03" height="14.55" fill="#932667"/>
<rect x="1247.13" y="309.30" width="15.03" height="14.55" fill="#6a176e"/>
<rect x="958.53" y="323.25" width="15.03" height="14.55" fill="#160b39"/>
<rect x="972.96" y="323.25" width="15.03" height="14.55" fill="#2b0b57"/>
<rect x="987.39" y="323.25" width="15.03" height="14.55" fill="#6a176e"/>
<rect x="1001.82" y="323.25" width="15.03" height="14.55" fill="#6a176e"/>
<rect x="1016.25" y="323.25" width="15.03" height="14.55" fill="#7f1e6c"/>
<rect x="1030.68" y="323.25" width="15.03" height="14.55" fill="#f37819"/>
<rect x="1045.11" y="323.25" width="15.03" height="14.55" fill="#420a68"/>
<rect x="1059.54" y="323.25" width="15.03" height="14.55" fill="#932667"/>
<rect x="1073.97" y="323.25" width="15.03" height="14.55" fill="#ea632a"/>
<rect x="1088.40" y="323.25" width="15.03" height="14.55" fill="#7f1e6c"/>
<rect x="1102.83" y="323.25" width="15.03" height="14.55" fill="#932667"/>
<rect x="1117.26" y="323.25" width="15.03" height="14.55" fill="#6a176e"/>
<rect x="1131.69" y="323.25" width="15.03" height="14.55" fill="#dd513a"/>
<rect x="1146.12" y="323.25" width="15.03" height="14.55" fill="#6a176e"/>
<rect x="1160.55" y="323.25" width="15.03" height="14.55" fill="#cc4248"/>
<rect x="1174.98" y="323.25" width="15.03" height="14.55" fill="#7f1e6c"/>
<rect x="1189.41" y="323.25" width="15.03" height="14.55" fill="#a82e5f"/>
<rect x="1203.84" y="323.25" width="15.03" height="14.55" fill="#932667"/>
<rect x="1218.27" y="323.25" width="15.03" height="14.55" fill="#932667"/>
<rect x="1232.70" y="323.25" width="15.03" height="14.55" fill="#932667"/>
<rect x="1247.13" y="323.25" width="15.03" height="14.55" fill="#932667"/>
<rect x="1261.56" y="323.25" width="15.03" height="14.55" fill="#7f1e6c"/>
<rect x="958.53" y="337.20" width="15.03" height="14.55" fill="#7f1e6c"/>
<rect x="972.96" y="337.20" width="15.03" height="14.55" fill="#000004"/>
<rect x="987.39" y="337.20" width="15.03" height="14.55" fill="#7f1e6c"/>
<rect x="1001.82" y="337.20" width="15.03" height="14.55" fill="#7f1e6c"/>
<rect x="1016.25" y="337.20" width="15.03" height="14.55" fill="#6a176e"/>
<rect x="1030.68" y="337.20" width="15.03" height="14.55" fill="#dd513a"/>
<rect x="1045.11" y="337.20" width="15.03" height="14.55" fill="#420a68"/>
<rect x="1059.54" y="337.20" width="15.03" height="14.55" fill="#57106e"/>
<rect x="1073.97" y="337.20" width="15.03" height="14.55" fill="#cc4248"/>
<rect x="1088.40" y="337.20" width="15.03" height="14.55" fill="#cc4248"/>
<rect x="1102.83" y="337.20" width="15.03" height="14.55" fill="#f37819"/>
<rect x="1117.26" y="337.20" width="15.03" height="14.55" fill="#57106e"/>
<rect x="1131.69" y="337.20" width="15.03" height="14.55" fill="#6a176e"/>
<rect x="1146.12" y="337.20" width="15.03" height="14.55" fill="#6a176e"/>
<rect x="1160.55" y="337.20" width="15.03" height="14.55" fill="#7f1e6c"/>
<rect x="1174.98" y="337.20" width="15.03" height="14.55" fill="#6a176e"/>
<rect x="1189.41" y="337.20" width="15.03" height="14.55" fill="#7f1e6c"/>
<rect x="1203.84" y="337.20" width="15.03" height="14.55" fill="#bc3754"/>
<rect x="1218.27" y="337.20" width="15.03" height="14.55" fill="#932667"/>
<rect x="1232.70" y="337.20" width="15.03" height="14.55" fill="#932667"/>
<rect x="1247.13" y="337.20" width="15.03" height="14.55" fill="#932667"/>
<rect x="1261.56" y="337.20" width="15.03" height="14.55" fill="#932667"/>
<rect x="1275.99" y="337.20" width="15.03" height="14.55" fill="#7f1e6c"/>
<rect x="972.96" y="351.15" width="15.03" height="14.55" fill="#6a176e"/>
<rect x="987.39" y="351.15" width="15.03" height="14.55" fill="#160b39"/>
<rect x="1001.82" y="351.15" width="15.03" height="14.55" fill="#7f1e6c"/>
<rect x="1016.25" y="351.15" width="15.03" height="14.55" fill="#57106e"/>
<rect x="1030.68" y="351.15" width="15.03" height="14.55" fill="#2b0b57"/>
<rect x="1045.11" y="351.15" width="15.03" height="14.55" fill="#f98e09"/>
<rect x="1059.54" y="351.15" width="15.03" height="14.55" fill="#57106e"/>
<rect x="1073.97" y="351.15" width="15.03" height="14.55" fill="#420a68"/>
<rect x="1088.40" y="351.15" width="15.03" height="14.55" fill="#420a68"/>
<rect x="1102.83" y="351.15" width="15.03" height="14.55" fill="#6a176e"/>
<rect x="1117.26" y="351.15" width="15.03" height="14.55" fill="#7f1e6c"/>
<rect x="1131.69" y="351.15" width="15.03" height="14.55" fill="#6a176e"/>
<rect x="1146.12" y="351.15" width="15.03" height="14.55" fill="#7f1e6c"/>
<rect x="1160.55" y="351.15" width="15.03" height="14.55" fill="#7f1e6c"/>
<rect x="1174.98" y="351.15" width="15.03" height="14.55" fill="#6a176e"/>
<rect x="1189.41" y="351.15" width="15.03" height="14.55" fill="#a82e5f"/>
<rect x="1203.84" y="351.15" width="15.03" height="14.55" fill="#7f1e6c"/>
<rect x="1218.27" y="351.15" width="15.03" height="14.55" fill="#bc3754"/>
<rect x="1232.70" y="351.15" width="15.03" height="14.55" fill="#932667"/>
<rect x="1247.13" y="351.15" width="15.03" height="14.55" fill="#932667"/>
<rect x="1261.56" y="351.15" width="15.03" height="14.55" fill="#932667"/>
<rect x="1275.99" y="351.15" width="15.03" height="14.55" fill="#932667"/>
<rect x="1290.42" y="351.15" width="15.03" height="14.55" fill="#6a176e"/>
<rect x="987.39" y="365.09" width="15.03" height="14.55" fill="#6a176e"/>
<rect x="1001.82" y="365.09" width="15.03" height="14.55" fill="#2b0b57"/>
<rect x="1016.25" y="365.09" width="15.03" height="14.55" fill="#6a176e"/>
<rect x="1030.68" y="365.09" width="15.03" height="14.55" fill="#160b39"/>
<rect x="1045.11" y="365.09" width="15.03" height="14.55" fill="#a82e5f"/>
<rect x="1059.54" y="365.09" width="15.03" height="14.55" fill="#a82e5f"/>
<rect x="1073.97" y="365.09" width="15.03" height="14.55" fill="#932667"/>
<rect x="1088.40" y="365.09" width="15.03" height="14.55" fill="#6a176e"/>
<rect x="1102.83" y="365.09" width="15.03" height="14.55" fill="#6a176e"/>
<rect x="1117.26" y="365.09" width="15.03" height="14.55" fill="#cc4248"/>
<rect x="1131.69" y="365.09" width="15.03" height="14.55" fill="#7f1e6c"/>
<rect x="1146.12" y="365.09" width="15.03" height="14.55" fill="#932667"/>
<rect x="1160.55" y="365.09" width="15.03" height="14.55" fill="#932667"/>
<rect x="1174.98" y="365.09" width="15.03" height="14.55" fill="#cc4248"/>
<rect x="1189.41" y="365.09" width="15.03" height="14.55" fill="#a82e5f"/>
<rect x="1203.84" y="365.09" width="15.03" height="14.55" fill="#7f1e6c"/>
<rect x="1218.27" y="365.09" width="15.03" height="14.55" fill="#932667"/>
<rect x="1232.70" y="365.09" width="15.03" height="14.55" fill="#932667"/>
<rect x="1247.13" y="365.09" width="15.03" height="14.55" fill="#932667"/>
<rect x="1261.56" y="365.09" width="15.03" height="14.55" fill="#932667"/>
<rect x="1275.99" y="365.09" width="15.03" height="14.55" fill="#932667"/>
<rect x="1290.42" y="365.09" width="15.03" height="14.55" fill="#932667"/>
<rect x="1304.85" y="365.09" width="15.03" height="14.55" fill="#6a176e"/>
<rect x="1001.82" y="379.04" width="15.03" height="14.55" fill="#57106e"/>
<rect x="1016.25" y="379.04" width="15.03" height="14.55" fill="#57106e"/>
<rect x="1030.68" y="379.04" width="15.03" height="14.55" fill="#57106e"/>
<rect x="1045.11" y="379.04" width="15.03" height="14.55" fill="#6a176e"/>
<rect x="1059.54" y="379.04" width="15.03" height="14.55" fill="#bc3754"/>
<rect x="1073.97" y="379.04" width="15.03" height="14.55" fill="#cc4248"/>
<rect x="1088.40" y="379.04" width="15.03" height="14.55" fill="#932667"/>
<rect x="1102.83" y="379.04" width="15.03" height="14.55" fill="#2b0b57"/>
<rect x="1117.26" y="379.04" width="15.03" height="14.55" fill="#57106e"/>
<rect x="1131.69" y="379.04" width="15.03" height="14.55" fill="#57106e"/>
<rect x="1146.12" y="379.04" width="15.03" height="14.55" fill="#7f1e6c"/>
<rect x="1160.55" y="379.04" width="15.03" height="14.55" fill="#7f1e6c"/>
<rect x="1174.98" y="379.04" width="15.03" height="14.55" fill="#bc3754"/>
<rect x="1189.41" y="379.04" width="15.03" height="14.55" fill="#7f1e6c"/>
<rect x="1203.84" y="379.04" width="15.03" height="14.55" fill="#6a176e"/>
<rect x="1218.27" y="379.04" width="15.03" height="14.55" fill="#6a176e"/>
<rect x="1232.70" y="379.04" width="15.03" height="14.55" fill="#cc4248"/>
<rect x="1247.13" y="379.04" width="15.03" height="14.55" fill="#932667"/>
<rect x="1261.56" y="379.04" width="15.03" height="14.55" fill="#932667"/>
<rect x="1275.99" y="379.04" width="15.03" height="14.55" fill="#932667"/>
<rect x="1290.42" y="379.04" width="15.03" height="14.55" fill="#932667"/>
<rect x="1304.85" y="379.04" width="15.03" height="14.55" fill="#7f1e6c"/>
<rect x="1319.28" y="379.04" width="15.03" height="14.55" fill="#6a176e"/>
<rect x="1016.25" y="392.99" width="15.03" height="14.55" fill="#57106e"/>
<rect x="1030.68" y="392.99" width="15.03" height="14.55" fill="#6a176e"/>
<rect x="1045.11" y="392.99" width="15.03" height="14.55" fill="#2b0b57"/>
<rect x="1059.54" y="392.99" width="15.03" height="14.55" fill="#7f1e6c"/>
<rect x="1073.97" y="392.99" width="15.03" height="14.55" fill="#ea632a"/>
<rect x="1088.40" y="392.99" width="15.03" height="14.55" fill="#a82e5f"/>
<rect x="1102.83" y="392.99" width="15.03" height="14.55" fill="#2b0b57"/>
<rect x="1117.26" y="392.99" width="15.03" height="14.55" fill="#7f1e6c"/>
<rect x="1131.69" y="392.99" width="15.03" height="14.55" fill="#cc4248"/>
<rect x="1146.12" y="392.99" width="15.03" height="14.55" fill="#7f1e6c"/>
<rect x="1160.55" y="392.99" width="15.03" height="14.55" fill="#57106e"/>
<rect x="1174.98" y="392.99" width="15.03" height="14.55" fill="#7f1e6c"/>
<rect x="1189.41" y="392.99" width="15.03" height="14.55" fill="#7f1e6c"/>
<rect x="1203.84" y="392.99" width="15.03" height="14.55" fill="#7f1e6c"/>
<rect x="1218.27" y="392.99" width="15.03" height="14.55" fill="#932667"/>
<rect x="1232.70" y="392.99" width="15.03" height="14.55" fill="#7f1e6c"/>
<rect x="1247.13" y="392.99" width="15.03" height="14.55" fill="#7f1e6c"/>
<rect x="1261.56" y="392.99" width="15.03" height="14.55" fill="#cc4248"/>
<rect x="1275.99" y="392.99" width="15.03" height="14.55" fill="#932667"/>
<rect x="1290.42" y="392.99" width="15.03" height="14.55" fill="#932667"/>
<rect x="1304.85" y="392.99" width="15.03" height="14.55" fill="#932667"/>
<rect x="1319.28" y="392.99" width="15.03" height="14.55" fill="#932667"/>
<rect x="1333.71" y="392.99" width="15.03" height="14.55" fill="#6a176e"/>
<rect x="1030.68" y="406.93" width="15.03" height="14.55" fill="#420a68"/>
<rect x="1045.11" y="406.93" width="15.03" height="14.55" fill="#7f1e6c"/>
<rect x="1059.54" y="406.93" width="15.03" height="14.55" fill="#160b39"/>
<rect x="1073.97" y="406.93" width="15.03" height="14.55" fill="#932667"/>
<rect x="1088.40" y="406.93" width="15.03" height="14.55" fill="#57106e"/>
<rect x="1102.83" y="406.93" width="15.03" height="14.55" fill="#6a176e"/>
<rect x="1117.26" y="406.93" width="15.03" height="14.55" fill="#420a68"/>
<rect x="1131.69" y="406.93" width="15.03" height="14.55" fill="#420a68"/>
<rect x="1146.12" y="406.93" width="15.03" height="14.55" fill="#932667"/>
<rect x="1160.55" y="406.93" width="15.03" height="14.55" fill="#932667"/>
<rect x="1174.98" y="406.93" width="15.03" height="14.55" fill="#932667"/>
<rect x="1189.41" y="406.93" width="15.03" height="14.55" fill="#6a176e"/>
<rect x="1203.84" y="406.93" width="15.03" height="14.55" fill="#dd513a"/>
<rect x="1218.27" y="406.93" width="15.03" height="14.55" fill="#dd513a"/>
<rect x="1232.70" y="406.93" width="15.03" height="14.55" fill="#7f1e6c"/>
<rect x="1247.13" y="406.93" width="15.03" height="14.55" fill="#7f1e6c"/>
<rect x="1261.56" y="406.93" width="15.03" height="14.55" fill="#7f1e6c"/>
<rect x="1275.99" y="406.93" width="15.03" height="14.55" fill="#932667"/>
<rect x="1290.42" y="406.93" width="15.03" height="14.55" fill="#932667"/>
<rect x="1304.85" y="406.93" width="15.03" height="14.55" fill="#932667"/>
<rect x="1319.28" y="406.93" width="15.03" height="14.55" fill="#932667"/>
<rect x="1333.71" y="406.93" width="15.03" height="14.55" fill="#932667"/>
<rect x="1348.14" y="406.93" width="15.03" height="14.55" fill="#6a176e"/>
<rect x="1045.11" y="420.88" width="15.03" height="14.55" fill="#160b39"/>
<rect x="1059.54" y="420.88" width="15.03" height="14.55" fill="#57106e"/>
<rect x="1073.97" y="420.88" width="15.03" height="14.55" fill="#2b0b57"/>
<rect x="1088.40" y="420.88" width="15.03" height="14.55" fill="#cc4248"/>
<rect x="1102.83" y="420.88" width="15.03" height="14.55" fill="#fbbe23"/>
<rect x="1117.26" y="420.88" width="15.03" height="14.55" fill="#2b0b57"/>
<rect x="1131.69" y="420.88" width="15.03" height="14.55" fill="#57106e"/>
<rect x="1146.12" y="420.88" width="15.03" height="14.55" fill="#f37819"/>
<rect x="1160.55" y="420.88" width="15.03" height="14.55" fill="#420a68"/>
<rect x="1174.98" y="420.88" width="15.03" height="14.55" fill="#57106e"/>
<rect x="1189.41" y="420.88" width="15.03" height="14.55" fill="#7f1e6c"/>
<rect x="1203.84" y="420.88" width="15.03" height="14.55" fill="#7f1e6c"/>
<rect x="1218.27" y="420.88" width="15.03" height="14.55" fill="#7f1e6c"/>
<rect x="1232.70" y="420.88" width="15.03" height="14.55" fill="#7f1e6c"/>
<rect x="1247.13" y="420.88" width="15.03" height="14.55" fill="#cc4248"/>
<rect x="1261.56" y="420.88" width="15.03" height="14.55" fill="#932667"/>
<rect x="1275.99" y="420.88" width="15.03" height="14.55" fill="#7f1e6c"/>
<rect x="1290.42" y="420.88" width="15.03" height="14.55" fill="#7f1e6c"/>
<rect x="1304.85" y="420.88" width="15.03" height="14.55" fill="#932667"/>
<rect x="1319.28" y="420.88" width="15.03" height="14.55" fill="#932667"/>
<rect x="1333.71" y="420.88" width="15.03" height="14.55" fill="#932667"/>
<rect x="1348.14" y="420.88" width="15.03" height="14.55" fill="#932667"/>
<rect x="1362.57" y="420.88" width="15.03" height="14.55" fill="#7f1e6c"/>
<rect x="1045.11" y="434.83" width="15.03" height="14.55" fill="#57106e"/>
<rect x="1059.54" y="434.83" width="15.03" height="14.55" fill="#2b0b57"/>
<rect x="1073.97" y="434.83" width="15.03" height="14.55" fill="#2b0b57"/>
<rect x="1088.40" y="434.83" width="15.03" height="14.55" fill="#420a68"/>
<rect x="1102.83" y="434.83" width="15.03" height="14.55" fill="#420a68"/>
<rect x="1117.26" y="434.83" width="15.03" height="14.55" fill="#420a68"/>
<rect x="1131.69" y="434.83" width="15.03" height="14.55" fill="#6a176e"/>
<rect x="1146.12" y="434.83" width="15.03" height="14.55" fill="#f37819"/>
<rect x="1160.55" y="434.83" width="15.03" height="14.55" fill="#420a68"/>
<rect x="1174.98" y="434.83" width="15.03" height="14.55" fill="#6a176e"/>
<rect x="1189.41" y="434.83" width="15.03" height="14.55" fill="#7f1e6c"/>
<rect x="1203.84" y="434.83" width="15.03" height="14.55" fill="#6a176e"/>
<rect x="1218.27" y="434.83" width="15.03" height="14.55" fill="#932667"/>
<rect x="1232.70" y="434.83" width="15.03" height="14.55" fill="#7f1e6c"/>
<rect x="1247.13" y="434.83" width="15.03" height="14.55" fill="#cc4248"/>
<rect x="1261.56" y="434.83" width="15.03" height="14.55" fill="#6a176e"/>
<rect x="1275.99" y="434.83" width="15.03" height="14.55" fill="#bc3754"/>
<rect x="1290.42" y="434.83" width="15.03" height="14.55" fill="#bc3754"/>
<rect x="1304.85" y="434.83" width="15.03" height="14.55" fill="#7f1e6c"/>
<rect x="1319.28" y="434.83" width="15.03" height="14.55" fill="#932667"/>
<rect x="1333.71" y="434.83" width="15.03" height="14.55" fill="#932667"/>
<rect x="1348.14" y="434.83" width="15.03" height="14.55" fill="#932667"/>
<rect x="1362.57" y="434.83" width="15.03" height="14.55" fill="#932667"/>
<rect x="1377.00" y="434.83" width="15.03" height="14.55" fill="#932667"/>
<rect x="1059.54" y="448.77" width="15.03" height="14.55" fill="#420a68"/>
<rect x="1073.97" y="448.77" width="15.03" height="14.55" fill="#420a68"/>
<rect x="1088.40" y="448.77" width="15.03" height="14.55" fill="#2b0b57"/>
<rect x="1102.83" y="448.77" width="15.03" height="14.55" fill="#420a68"/>
<rect x="1117.26" y="448.77" width="15.03" height="14.55" fill="#420a68"/>
<rect x="1131.69" y="448.77" width="15.03" height="14.55" fill="#a82e5f"/>
<rect x="1146.12" y="448.77" width="15.03" height="14.55" fill="#a82e5f"/>
<rect x="1160.55" y="448.77" width="15.03" height="14.55" fill="#932667"/>
<rect x="1174.98" y="448.77" width="15.03" height="14.55" fill="#6a176e"/>
<rect x="1189.41" y="448.77" width="15.03" height="14.55" fill="#6a176e"/>
<rect x="1203.84" y="448.77" width="15.03" height="14.55" fill="#7f1e6c"/>
<rect x="1218.27" y="448.77" width="15.03" height="14.55" fill="#420a68"/>
<rect x="1232.70" y="448.77" width="15.03" height="14.55" fill="#7f1e6c"/>
<rect x="1247.13" y="448.77" width="15.03" height="14.55" fill="#7f1e6c"/>
<rect x="1261.56" y="448.77" width="15.03" height="14.55" fill="#6a176e"/>
<rect x="1275.99" y="448.77" width="15.03" height="14.55" fill="#ea632a"/>
<rect x="1290.42" y="448.77" width="15.03" height="14.55" fill="#932667"/>
<rect x="1304.85" y="448.77" width="15.03" height="14.55" fill="#cc4248"/>
<rect x="1319.28" y="448.77" width="15.03" height="14.55" fill="#932667"/>
<rect x="1333.71" y="448.77" width="15.03" height="14.55" fill="#932667"/>
<rect x="1348.14" y="448.77" width="15.03" height="14.55" fill="#932667"/>
<rect x="1362.57" y="448.77" width="15.03" height="14.55" fill="#932667"/>
<rect x="1377.00" y="448.77" width="15.03" height="14.55" fill="#932667"/>
<rect x="1391.43" y="448.77" width="15.03" height="14.55" fill="#7f1e6c"/>
<rect x="1073.97" y="462.72" width="15.03" height="14.55" fill="#420a68"/>
<rect x="1088.40" y="462.72" width="15.03" height="14.55" fill="#420a68"/>
<rect x="1102.83" y="462.72" width="15.03" height="14.55" fill="#420a68"/>
<rect x="1117.26" y="462.72" width="15.03" height="14.55" fill="#420a68"/>
<rect x="1131.69" y="462.72" width="15.03" height="14.55" fill="#57106e"/>
<rect x="1146.12" y="462.72" width="15.03" height="14.55" fill="#57106e"/>
<rect x="1160.55" y="462.72" width="15.03" height="14.55" fill="#420a68"/>
<rect x="1174.98" y="462.72" width="15.03" height="14.55" fill="#420a68"/>
<rect x="1189.41" y="462.72" width="15.03" height="14.55" fill="#7f1e6c"/>
<rect x="1203.84" y="462.72" width="15.03" height="14.55" fill="#7f1e6c"/>
<rect x="1218.27" y="462.72" width="15.03" height="14.55" fill="#6a176e"/>
<rect x="1232.70" y="462.72" width="15.03" height="14.55" fill="#6a176e"/>
<rect x="1247.13" y="462.72" width="15.03" height="14.55" fill="#6a176e"/>
<rect x="1261.56" y="462.72" width="15.03" height="14.55" fill="#7f1e6c"/>
<rect x="1275.99" y="462.72" width="15.03" height="14.55" fill="#7f1e6c"/>
<rect x="1290.42" y="462.72" width="15.03" height="14.55" fill="#cc4248"/>
<rect x="1304.85" y="462.72" width="15.03" height="14.55" fill="#7f1e6c"/>
<rect x="1319.28" y="462.72" width="15.03" height="14.55" fill="#932667"/>
<rect x="1333.71" y="462.72" width="15.03" height="14.55" fill="#932667"/>
<rect x="1348.14" y="462.72" width="15.03" height="14.55" fill="#932667"/>
<rect x="1362.57" y="462.72" width="15.03" height="14.55" fill="#932667"/>
<rect x="1377.00" y="462.72" width="15.03" height="14.55" fill="#932667"/>
<rect x="1391.43" y="462.72" width="15.03" height="14.55" fill="#932667"/>
<rect x="1405.86" y="462.72" width="15.03" height="14.55" fill="#932667"/>
<rect x="1088.40" y="476.67" width="15.03" height="14.55" fill="#420a68"/>
<rect x="1102.83" y="476.67" width="15.03" height="14.55" fill="#2b0b57"/>
<rect x="1117.26" y="476.67" width="15.03" height="14.55" fill="#2b0b57"/>
<rect x="1131.69" y="476.67" width="15.03" height="14.55" fill="#420a68"/>
<rect x="1146.12" y="476.67" width="15.03" height="14.55" fill="#57106e"/>
<rect x="1160.55" y="476.67" width="15.03" height="14.55" fill="#57106e"/>
<rect x="1174.98" y="476.67" width="15.03" height="14.55" fill="#420a68"/>
<rect x="1189.41" y="476.67" width="15.03" height="14.55" fill="#cc4248"/>
<rect x="1203.84" y="476.67" width="15.03" height="14.55" fill="#a82e5f"/>
<rect x="1218.27" y="476.67" width="15.03" height="14.55" fill="#932667"/>
<rect x="1232.70" y="476.67" width="15.03" height="14.55" fill="#57106e"/>
<rect x="1247.13" y="476.67" width="15.03" height="14.55" fill="#7f1e6c"/>
<rect x="1261.56" y="476.67" width="15.03" height="14.55" fill="#ea632a"/>
<rect x="1275.99" y="476.67" width="15.03" height="14.55" fill="#7f1e6c"/>
<rect x="1290.42" y="476.67" width="15.03" height="14.55" fill="#932667"/>
<rect x="1304.85" y="476.67" width="15.03" height="14.55" fill="#6a176e"/>
<rect x="1319.28" y="476.67" width="15.03" height="14.55" fill="#7f1e6c"/>
<rect x="1333.71" y="476.67" width="15.03" height="14.55" fill="#bc3754"/>
<rect x="1348.14" y="476.67" width="15.03" height="14.55" fill="#7f1e6c"/>
<rect x="1362.57" y="476.67" width="15.03" height="14.55" fill="#932667"/>
<rect x="1377.00" y="476.67" width="15.03" height="14.55" fill="#932667"/>
<rect x="1391.43" y="476.67" width="15.03" height="14.55" fill="#932667"/>
<rect x="1405.86" y="476.67" width="15.03" height="14.55" fill="#932667"/>
<rect x="1420.29" y="476.67" width="15.03" height="14.55" fill="#7f1e6c"/>
<rect x="1102.83" y="490.62" width="15.03" height="14.55" fill="#2b0b57"/>
<rect x="1117.26" y="490.62" width="15.03" height="14.55" fill="#2b0b57"/>
<rect x="1131.69" y="490.62" width="15.03" height="14.55" fill="#420a68"/>
<rect x="1146.12" y="490.62" width="15.03" height="14.55" fill="#57106e"/>
<rect x="1160.55" y="490.62" width="15.03" height="14.55" fill="#6a176e"/>
<rect x="1174.98" y="490.62" width="15.03" height="14.55" fill="#932667"/>
<rect x="1189.41" y="490.62" width="15.03" height="14.55" fill="#cc4248"/>
<rect x="1203.84" y="490.62" width="15.03" height="14.55" fill="#cc4248"/>
<rect x="1218.27" y="490.62" width="15.03" height="14.55" fill="#ea632a"/>
<rect x="1232.70" y="490.62" width="15.03" height="14.55" fill="#420a68"/>
<rect x="1247.13" y="490.62" width="15.03" height="14.55" fill="#420a68"/>
<rect x="1261.56" y="490.62" width="15.03" height="14.55" fill="#7f1e6c"/>
<rect x="1275.99" y="490.62" width="15.03" height="14.55" fill="#cc4248"/>
<rect x="1290.42" y="490.62" width="15.03" height="14.55" fill="#a82e5f"/>
<rect x="1304.85" y="490.62" width="15.03" height="14.55" fill="#6a176e"/>
<rect x="1319.28" y="490.62" width="15.03" height="14.55" fill="#bc3754"/>
<rect x="1333.71" y="490.62" width="15.03" height="14.55" fill="#7f1e6c"/>
<rect x="1348.14" y="490.62" width="15.03" height="14.55" fill="#7f1e6c"/>
<rect x="1362.57" y="490.62" width="15.03" height="14.55" fill="#7f1e6c"/>
<rect x="1377.00" y="490.62" width="15.03" height="14.55" fill="#932667"/>
<rect x="1391.43" y="490.62" width="15.03" height="14.55" fill="#932667"/>
<rect x="1405.86" y="490.62" width="15.03" height="14.55" fill="#932667"/>
<rect x="1420.29" y="490.62" width="15.03" height="14.55" fill="#932667"/>
<rect x="1117.26" y="504.56" width="15.03" height="14.55" fill="#2b0b57"/>
<rect x="1131.69" y="504.56" width="15.03" height="14.55" fill="#420a68"/>
<rect x="1146.12" y="504.56" width="15.03" height="14.55" fill="#6a176e"/>
<rect x="1160.55" y="504.56" width="15.03" height="14.55" fill="#6a176e"/>
<rect x="1174.98" y="504.56" width="15.03" height="14.55" fill="#bc3754"/>
<rect x="1189.41" y="504.56" width="15.03" height="14.55" fill="#f37819"/>
<rect x="1203.84" y="504.56" width="15.03" height="14.55" fill="#fbbe23"/>
<rect x="1218.27" y="504.56" width="15.03" height="14.55" fill="#ea632a"/>
<rect x="1232.70" y="504.56" width="15.03" height="14.55" fill="#420a68"/>
<rect x="1247.13" y="504.56" width="15.03" height="14.55" fill="#ea632a"/>
<rect x="1261.56" y="504.56" width="15.03" height="14.55" fill="#ea632a"/>
<rect x="1275.99" y="504.56" width="15.03" height="14.55" fill="#cc4248"/>
<rect x="1290.42" y="504.56" width="15.03" height="14.55" fill="#cc4248"/>
<rect x="1304.85" y="504.56" width="15.03" height="14.55" fill="#57106e"/>
<rect x="1319.28" y="504.56" width="15.03" height="14.55" fill="#bc3754"/>
<rect x="1333.71" y="504.56" width="15.03" height="14.55" fill="#57106e"/>
<rect x="1348.14" y="504.56" width="15.03" height="14.55" fill="#932667"/>
<rect x="1362.57" y="504.56" width="15.03" height="14.55" fill="#7f1e6c"/>
<rect x="1377.00" y="504.56" width="15.03" height="14.55" fill="#cc4248"/>
<rect x="1391.43" y="504.56" width="15.03" height="14.55" fill="#932667"/>
<rect x="1405.86" y="504.56" width="15.03" height="14.55" fill="#932667"/>
<rect x="1420.29" y="504.56" width="15.03" height="14.55" fill="#932667"/>
<rect x="1434.72" y="504.56" width="15.03" height="14.55" fill="#7f1e6c"/>
<rect x="1131.69" y="518.51" width="15.03" height="14.55" fill="#160b39"/>
<rect x="1146.12" y="518.51" width="15.03" height="14.55" fill="#57106e"/>
<rect x="1160.55" y="518.51" width="15.03" height="14.55" fill="#6a176e"/>
<rect x="1174.98" y="518.51" width="15.03" height="14.55" fill="#ea632a"/>
<rect x="1189.41" y="518.51" width="15.03" height="14.55" fill="#fca50a"/>
<rect x="1203.84" y="518.51" width="15.03" height="14.55" fill="#f6d746"/>
<rect x="1218.27" y="518.51" width="15.03" height="14.55" fill="#ea632a"/>
<rect x="1232.70" y="518.51" width="15.03" height="14.55" fill="#932667"/>
<rect x="1247.13" y="518.51" width="15.03" height="14.55" fill="#ea632a"/>
<rect x="1261.56" y="518.51" width="15.03" height="14.55" fill="#ea632a"/>
<rect x="1275.99" y="518.51" width="15.03" height="14.55" fill="#420a68"/>
<rect x="1290.42" y="518.51" width="15.03" height="14.55" fill="#57106e"/>
<rect x="1304.85" y="518.51" width="15.03" height="14.55" fill="#cc4248"/>
<rect x="1319.28" y="518.51" width="15.03" height="14.55" fill="#dd513a"/>
<rect x="1333.71" y="518.51" width="15.03" height="14.55" fill="#932667"/>
<rect x="1348.14" y="518.51" width="15.03" height="14.55" fill="#a82e5f"/>
<rect x="1362.57" y="518.51" width="15.03" height="14.55" fill="#932667"/>
<rect x="1377.00" y="518.51" width="15.03" height="14.55" fill="#7f1e6c"/>
<rect x="1391.43" y="518.51" width="15.03" height="14.55" fill="#932667"/>
<rect x="1405.86" y="518.51" width="15.03" height="14.55" fill="#a82e5f"/>
<rect x="1420.29" y="518.51" width="15.03" height="14.55" fill="#a82e5f"/>
<rect x="1434.72" y="518.51" width="15.03" height="14.55" fill="#932667"/>
<rect x="1449.15" y="518.51" width="15.03" height="14.55" fill="#7f1e6c"/>
<rect x="1131.69" y="532.46" width="15.03" height="14.55" fill="#000004"/>
<rect x="1146.12" y="532.46" width="15.03" height="14.55" fill="#160b39"/>
<rect x="1160.55" y="532.46" width="15.03" height="14.55" fill="#57106e"/>
<rect x="1174.98" y="532.46" width="15.03" height="14.55" fill="#ea632a"/>
<rect x="1189.41" y="532.46" width="15.03" height="14.55" fill="#fca50a"/>
<rect x="1203.84" y="532.46" width="15.03" height="14.55" fill="#fbbe23"/>
<rect x="1218.27" y="532.46" width="15.03" height="14.55" fill="#fbbe23"/>
<rect x="1232.70" y="532.46" width="15.03" height="14.55" fill="#ea632a"/>
<rect x="1247.13" y="532.46" width="15.03" height="14.55" fill="#f98e09"/>
<rect x="1261.56" y="532.46" width="15.03" height="14.55" fill="#f37819"/>
<rect x="1275.99" y="532.46" width="15.03" height="14.55" fill="#57106e"/>
<rect x="1290.42" y="532.46" width="15.03" height="14.55" fill="#6a176e"/>
<rect x="1304.85" y="532.46" width="15.03" height="14.55" fill="#cc4248"/>
<rect x="1319.28" y="532.46" width="15.03" height="14.55" fill="#dd513a"/>
<rect x="1333.71" y="532.46" width="15.03" height="14.55" fill="#932667"/>
<rect x="1348.14" y="532.46" width="15.03" height="14.55" fill="#a82e5f"/>
<rect x="1362.57" y="532.46" width="15.03" height="14.55" fill="#bc3754"/>
<rect x="1377.00" y="532.46" width="15.03" height="14.55" fill="#6a176e"/>
<rect x="1391.43" y="532.46" width="15.03" height="14.55" fill="#a82e5f"/>
<rect x="1405.86" y="532.46" width="15.03" height="14.55" fill="#932667"/>
<rect x="1420.29" y="532.46" width="15.03" height="14.55" fill="#bc3754"/>
<rect x="1434.72" y="532.46" width="15.03" height="14.55" fill="#a82e5f"/>
<rect x="1449.15" y="532.46" width="15.03" height="14.55" fill="#7f1e6c"/>
<rect x="1146.12" y="546.40" width="15.03" height="14.55" fill="#000004"/>
<rect x="1160.55" y="546.40" width="15.03" height="14.55" fill="#420a68"/>
<rect x="1174.98" y="546.40" width="15.03" height="14.55" fill="#dd513a"/>
<rect x="1189.41" y="546.40" width="15.03" height="14.55" fill="#f98e09"/>
<rect x="1203.84" y="546.40" width="15.03" height="14.55" fill="#fca50a"/>
<rect x="1218.27" y="546.40" width="15.03" height="14.55" fill="#f6d746"/>
<rect x="1232.70" y="546.40" width="15.03" height="14.55" fill="#fbbe23"/>
<rect x="1247.13" y="546.40" width="15.03" height="14.55" fill="#fbbe23"/>
<rect x="1261.56" y="546.40" width="15.03" height="14.55" fill="#f6d746"/>
<rect x="1275.99" y="546.40" width="15.03" height="14.55" fill="#6a176e"/>
<rect x="1290.42" y="546.40" width="15.03" height="14.55" fill="#6a176e"/>
<rect x="1304.85" y="546.40" width="15.03" height="14.55" fill="#2b0b57"/>
<rect x="1319.28" y="546.40" width="15.03" height="14.55" fill="#bc3754"/>
<rect x="1333.71" y="546.40" width="15.03" height="14.55" fill="#a82e5f"/>
<rect x="1348.14" y="546.40" width="15.03" height="14.55" fill="#a82e5f"/>
<rect x="1362.57" y="546.40" width="15.03" height="14.55" fill="#bc3754"/>
<rect x="1377.00" y="546.40" width="15.03" height="14.55" fill="#bc3754"/>
<rect x="1391.43" y="546.40" width="15.03" height="14.55" fill="#bc3754"/>
<rect x="1405.86" y="546.40" width="15.03" height="14.55" fill="#7f1e6c"/>
<rect x="1420.29" y="546.40" width="15.03" height="14.55" fill="#cc4248"/>
<rect x="1434.72" y="546.40" width="15.03" height="14.55" fill="#a82e5f"/>
<rect x="1449.15" y="546.40" width="15.03" height="14.55" fill="#932667"/>
<rect x="1160.55" y="560.35" width="15.03" height="14.55" fill="#420a68"/>
<rect x="1174.98" y="560.35" width="15.03" height="14.55" fill="#bc3754"/>
<rect x="1189.41" y="560.35" width="15.03" height="14.55" fill="#f37819"/>
<rect x="1203.84" y="560.35" width="15.03" height="14.55" fill="#f98e09"/>
<rect x="1218.27" y="560.35" width="15.03" height="14.55" fill="#fbbe23"/>
<rect x="1232.70" y="560.35" width="15.03" height="14.55" fill="#f6d746"/>
<rect x="1247.13" y="560.35" width="15.03" height="14.55" fill="#f6d746"/>
<rect x="1261.56" y="560.35" width="15.03" height="14.55" fill="#f1ef75"/>
<rect x="1275.99" y="560.35" width="15.03" height="14.55" fill="#f98e09"/>
<rect x="1290.42" y="560.35" width="15.03" height="14.55" fill="#7f1e6c"/>
<rect x="1304.85" y="560.35" width="15.03" height="14.55" fill="#7f1e6c"/>
<rect x="1319.28" y="560.35" width="15.03" height="14.55" fill="#7f1e6c"/>
<rect x="1333.71" y="560.35" width="15.03" height="14.55" fill="#a82e5f"/>
<rect x="1348.14" y="560.35" width="15.03" height="14.55" fill="#a82e5f"/>
<rect x="1362.57" y="560.35" width="15.03" height="14.55" fill="#a82e5f"/>
<rect x="1377.00" y="560.35" width="15.03" height="14.55" fill="#a82e5f"/>
<rect x="1391.43" y="560.35" width="15.03" height="14.55" fill="#a82e5f"/>
<rect x="1405.86" y="560.35" width="15.03" height="14.55" fill="#7f1e6c"/>
<rect x="1420.29" y="560.35" width="15.03" height="14.55" fill="#bc3754"/>
<rect x="1434.72" y="560.35" width="15.03" height="14.55" fill="#bc3754"/>
<rect x="1449.15" y="560.35" width="15.03" height="14.55" fill="#bc3754"/>
<rect x="1463.58" y="560.35" width="15.03" height="14.55" fill="#932667"/>
<rect x="1189.41" y="574.30" width="15.03" height="14.55" fill="#ea632a"/>
<rect x="1203.84" y="574.30" width="15.03" height="14.55" fill="#f98e09"/>
<rect x="1218.27" y="574.30" width="15.03" height="14.55" fill="#fca50a"/>
<rect x="1232.70" y="574.30" width="15.03" height="14.55" fill="#f6d746"/>
<rect x="1247.13" y="574.30" width="15.03" height="14.55" fill="#f1ef75"/>
<rect x="1261.56" y="574.30" width="15.03" height="14.55" fill="#f1ef75"/>
<rect x="1275.99" y="574.30" width="15.03" height="14.55" fill="#f6d746"/>
<rect x="1290.42" y="574.30" width="15.03" height="14.55" fill="#ea632a"/>
<rect x="1304.85" y="574.30" width="15.03" height="14.55" fill="#ea632a"/>
<rect x="1319.28" y="574.30" width="15.03" height="14.55" fill="#ea632a"/>
<rect x="1333.71" y="574.30" width="15.03" height="14.55" fill="#cc4248"/>
<rect x="1348.14" y="574.30" width="15.03" height="14.55" fill="#bc3754"/>
<rect x="1362.57" y="574.30" width="15.03" height="14.55" fill="#bc3754"/>
<rect x="1377.00" y="574.30" width="15.03" height="14.55" fill="#7f1e6c"/>
<rect x="1391.43" y="574.30" width="15.03" height="14.55" fill="#57106e"/>
<rect x="1405.86" y="574.30" width="15.03" height="14.55" fill="#7f1e6c"/>
<rect x="1420.29" y="574.30" width="15.03" height="14.55" fill="#932667"/>
<rect x="1434.72" y="574.30" width="15.03" height="14.55" fill="#932667"/>
<rect x="1449.15" y="574.30" width="15.03" height="14.55" fill="#a82e5f"/>
<rect x="1463.58" y="574.30" width="15.03" height="14.55" fill="#932667"/>
<rect x="1218.27" y="588.25" width="15.03" height="14.55" fill="#fca50a"/>
<rect x="1232.70" y="588.25" width="15.03" height="14.55" fill="#fbbe23"/>
<rect x="1247.13" y="588.25" width="15.03" height="14.55" fill="#f1ef75"/>
<rect x="1261.56" y="588.25" width="15.03" height="14.55" fill="#f1ef75"/>
<rect x="1275.99" y="588.25" width="15.03" height="14.55" fill="#f1ef75"/>
<rect x="1290.42" y="588.25" width="15.03" height="14.55" fill="#fca50a"/>
<rect x="1304.85" y="588.25" width="15.03" height="14.55" fill="#fca50a"/>
<rect x="1319.28" y="588.25" width="15.03" height="14.55" fill="#f98e09"/>
<rect x="1333.71" y="588.25" width="15.03" height="14.55" fill="#f37819"/>
<rect x="1348.14" y="588.25" width="15.03" height="14.55" fill="#ea632a"/>
<rect x="1362.57" y="588.25" width="15.03" height="14.55" fill="#dd513a"/>
<rect x="1377.00" y="588.25" width="15.03" height="14.55" fill="#bc3754"/>
<rect x="1391.43" y="588.25" width="15.03" height="14.55" fill="#a82e5f"/>
<rect x="1405.86" y="588.25" width="15.03" height="14.55" fill="#932667"/>
<rect x="1420.29" y="588.25" width="15.03" height="14.55" fill="#932667"/>
<rect x="1434.72" y="588.25" width="15.03" height="14.55" fill="#932667"/>
<rect x="1449.15" y="588.25" width="15.03" height="14.55" fill="#a82e5f"/>
<rect x="1463.58" y="588.25" width="15.03" height="14.55" fill="#932667"/>
<rect x="1247.13" y="602.19" width="15.03" height="14.55" fill="#f6d746"/>
<rect x="1261.56" y="602.19" width="15.03" height="14.55" fill="#f1ef75"/>
<rect x="1275.99" y="602.19" width="15.03" height="14.55" fill="#f1ef75"/>
<rect x="1290.42" y="602.19" width="15.03" height="14.55" fill="#fbbe23"/>
<rect x="1304.85" y="602.19" width="15.03" height="14.55" fill="#fbbe23"/>
<rect x="1319.28" y="602.19" width="15.03" height="14.55" fill="#fca50a"/>
<rect x="1333.71" y="602.19" width="15.03" height="14.55" fill="#fca50a"/>
<rect x="1348.14" y="602.19" width="15.03" height="14.55" fill="#f98e09"/>
<rect x="1362.57" y="602.19" width="15.03" height="14.55" fill="#f37819"/>
<rect x="1377.00" y="602.19" width="15.03" height="14.55" fill="#ea632a"/>
<rect x="1391.43" y="602.19" width="15.03" height="14.55" fill="#dd513a"/>
<rect x="1405.86" y="602.19" width="15.03" height="14.55" fill="#bc3754"/>
<rect x="1420.29" y="602.19" width="15.03" height="14.55" fill="#bc3754"/>
<rect x="1434.72" y="602.19" width="15.03" height="14.55" fill="#bc3754"/>
<rect x="1449.15" y="602.19" width="15.03" height="14.55" fill="#cc4248"/>
<rect x="1463.58" y="602.19" width="15.03" height="14.55" fill="#932667"/>
<rect x="1478.01" y="602.19" width="15.03" height="14.55" fill="#7f1e6c"/>
<rect x="1275.99" y="616.14" width="15.03" height="14.55" fill="#fcffa4"/>
<rect x="1290.42" y="616.14" width="15.03" height="14.55" fill="#f1ef75"/>
<rect x="1304.85" y="616.14" width="15.03" height="14.55" fill="#f1ef75"/>
<rect x="1319.28" y="616.14" width="15.03" height="14.55" fill="#f6d746"/>
<rect x="1333.71" y="616.14" width="15.03" height="14.55" fill="#f6d746"/>
<rect x="1348.14" y="616.14" width="15.03" height="14.55" fill="#fbbe23"/>
<rect x="1362.57" y="616.14" width="15.03" height="14.55" fill="#fbbe23"/>
<rect x="1377.00" y="616.14" width="15.03" height="14.55" fill="#fca50a"/>
<rect x="1391.43" y="616.14" width="15.03" height="14.55" fill="#f98e09"/>
<rect x="1405.86" y="616.14" width="15.03" height="14.55" fill="#ea632a"/>
<rect x="1420.29" y="616.14" width="15.03" height="14.55" fill="#dd513a"/>
<rect x="1434.72" y="616.14" width="15.03" height="14.55" fill="#cc4248"/>
<rect x="1449.15" y="616.14" width="15.03" height="14.55" fill="#cc4248"/>
<rect x="1463.58" y="616.14" width="15.03" height="14.55" fill="#bc3754"/>
<rect x="1478.01" y="616.14" width="15.03" height="14.55" fill="#932667"/>
<rect x="887.15" y="3.6" width="644.35" height="665.90" fill="none" stroke="#000" stroke-width="3.2"/>
<line x1="877.05" y1="31.90" x2="885.55" y2="31.90" stroke="#262626" stroke-width="3"/>
<text x="870.10" y="41.50" font-size="27" fill="#4d4d4d" text-anchor="end">100</text>
<line x1="877.05" y1="77.24" x2="885.55" y2="77.24" stroke="#262626" stroke-width="3"/>
<text x="870.10" y="86.84" font-size="27" fill="#4d4d4d" text-anchor="end">80</text>
<line x1="877.05" y1="135.70" x2="885.55" y2="135.70" stroke="#262626" stroke-width="3"/>
<text x="870.10" y="145.30" font-size="27" fill="#4d4d4d" text-anchor="end">60</text>
<line x1="877.05" y1="218.10" x2="885.55" y2="218.10" stroke="#262626" stroke-width="3"/>
<text x="870.10" y="227.70" font-size="27" fill="#4d4d4d" text-anchor="end">40</text>
<line x1="877.05" y1="276.55" x2="885.55" y2="276.55" stroke="#262626" stroke-width="3"/>
<text x="870.10" y="286.15" font-size="27" fill="#4d4d4d" text-anchor="end">30</text>
<line x1="877.05" y1="358.95" x2="885.55" y2="358.95" stroke="#262626" stroke-width="3"/>
<text x="870.10" y="368.55" font-size="27" fill="#4d4d4d" text-anchor="end">20</text>
<line x1="877.05" y1="499.80" x2="885.55" y2="499.80" stroke="#262626" stroke-width="3"/>
<text x="870.10" y="509.40" font-size="27" fill="#4d4d4d" text-anchor="end">10</text>
<line x1="877.05" y1="640.65" x2="885.55" y2="640.65" stroke="#262626" stroke-width="3"/>
<text x="870.10" y="650.25" font-size="27" fill="#4d4d4d" text-anchor="end">5</text>
<line x1="995.90" y1="671.10" x2="995.90" y2="679.10" stroke="#262626" stroke-width="3"/>
<text x="995.90" y="706.40" font-size="27" fill="#4d4d4d" text-anchor="middle">100</text>
<line x1="1181.50" y1="671.10" x2="1181.50" y2="679.10" stroke="#262626" stroke-width="3"/>
<text x="1181.50" y="706.40" font-size="27" fill="#4d4d4d" text-anchor="middle">500</text>
<line x1="1343.00" y1="671.10" x2="1343.00" y2="679.10" stroke="#262626" stroke-width="3"/>
<text x="1343.00" y="706.40" font-size="27" fill="#4d4d4d" text-anchor="middle">1000</text>
<line x1="1503.70" y1="671.10" x2="1503.70" y2="679.10" stroke="#262626" stroke-width="3"/>
<text x="1503.70" y="706.40" font-size="27" fill="#4d4d4d" text-anchor="middle">8000</text>
<text x="1128.50" y="752.10" font-size="34" fill="#000">Trees ha<tspan font-size="22" dx="3" dy="-16">&#8722;1</tspan></text>
<text transform="translate(810.60,340.00) rotate(-90)" x="0" y="0" font-size="34" fill="#000" text-anchor="middle">Reineke's diameter (cm)</text>
<text x="1453.30" y="60.80" font-size="48" fill="#000">B.</text>
<rect x="181.62" y="994.25" width="14.82" height="15.75" fill="#ea632a"/>
<rect x="195.84" y="994.25" width="14.82" height="15.75" fill="#f37819"/>
<rect x="210.06" y="994.25" width="14.82" height="15.75" fill="#ea632a"/>
<rect x="224.28" y="994.25" width="14.82" height="15.75" fill="#ea632a"/>
<rect x="238.50" y="994.25" width="14.82" height="15.75" fill="#dd513a"/>
<rect x="252.72" y="994.25" width="14.82" height="15.75" fill="#cc4248"/>
<rect x="266.94" y="994.25" width="14.82" height="15.75" fill="#cc4248"/>
<rect x="181.62" y="1009.40" width="14.82" height="15.75" fill="#ea632a"/>
<rect x="195.84" y="1009.40" width="14.82" height="15.75" fill="#f37819"/>
<rect x="210.06" y="1009.40" width="14.82" height="15.75" fill="#ea632a"/>
<rect x="224.28" y="1009.40" width="14.82" height="15.75" fill="#ea632a"/>
<rect x="238.50" y="1009.40" width="14.82" height="15.75" fill="#ea632a"/>
<rect x="252.72" y="1009.40" width="14.82" height="15.75" fill="#dd513a"/>
<rect x="266.94" y="1009.40" width="14.82" height="15.75" fill="#cc4248"/>
<rect x="281.16" y="1009.40" width="14.82" height="15.75" fill="#cc4248"/>
<rect x="295.38" y="1009.40" width="14.82" height="15.75" fill="#cc4248"/>
<rect x="167.40" y="1024.55" width="14.82" height="15.75" fill="#f37819"/>
<rect x="181.62" y="1024.55" width="14.82" height="15.75" fill="#ea632a"/>
<rect x="195.84" y="1024.55" width="14.82" height="15.75" fill="#ea632a"/>
<rect x="210.06" y="1024.55" width="14.82" height="15.75" fill="#ea632a"/>
<rect x="224.28" y="1024.55" width="14.82" height="15.75" fill="#ea632a"/>
<rect x="238.50" y="1024.55" width="14.82" height="15.75" fill="#ea632a"/>
<rect x="252.72" y="1024.55" width="14.82" height="15.75" fill="#f98e09"/>
<rect x="266.94" y="1024.55" width="14.82" height="15.75" fill="#dd513a"/>
<rect x="281.16" y="1024.55" width="14.82" height="15.75" fill="#dd513a"/>
<rect x="295.38" y="1024.55" width="14.82" height="15.75" fill="#cc4248"/>
<rect x="309.60" y="1024.55" width="14.82" height="15.75" fill="#cc4248"/>
<rect x="323.82" y="1024.55" width="14.82" height="15.75" fill="#bc3754"/>
<rect x="167.40" y="1039.70" width="14.82" height="15.75" fill="#f37819"/>
<rect x="181.62" y="1039.70" width="14.82" height="15.75" fill="#ea632a"/>
<rect x="195.84" y="1039.70" width="14.82" height="15.75" fill="#f37819"/>
<rect x="210.06" y="1039.70" width="14.82" height="15.75" fill="#f37819"/>
<rect x="224.28" y="1039.70" width="14.82" height="15.75" fill="#ea632a"/>
<rect x="238.50" y="1039.70" width="14.82" height="15.75" fill="#dd513a"/>
<rect x="252.72" y="1039.70" width="14.82" height="15.75" fill="#f98e09"/>
<rect x="266.94" y="1039.70" width="14.82" height="15.75" fill="#f37819"/>
<rect x="281.16" y="1039.70" width="14.82" height="15.75" fill="#ea632a"/>
<rect x="295.38" y="1039.70" width="14.82" height="15.75" fill="#dd513a"/>
<rect x="309.60" y="1039.70" width="14.82" height="15.75" fill="#dd513a"/>
<rect x="323.82" y="1039.70" width="14.82" height="15.75" fill="#cc4248"/>
<rect x="338.04" y="1039.70" width="14.82" height="15.75" fill="#bc3754"/>
<rect x="167.40" y="1054.85" width="14.82" height="15.75" fill="#ea632a"/>
<rect x="181.62" y="1054.85" width="14.82" height="15.75" fill="#ea632a"/>
<rect x="195.84" y="1054.85" width="14.82" height="15.75" fill="#fca50a"/>
<rect x="210.06" y="1054.85" width="14.82" height="15.75" fill="#ea632a"/>
<rect x="224.28" y="1054.85" width="14.82" height="15.75" fill="#dd513a"/>
<rect x="238.50" y="1054.85" width="14.82" height="15.75" fill="#f37819"/>
<rect x="252.72" y="1054.85" width="14.82" height="15.75" fill="#ea632a"/>
<rect x="266.94" y="1054.85" width="14.82" height="15.75" fill="#ea632a"/>
<rect x="281.16" y="1054.85" width="14.82" height="15.75" fill="#fbbe23"/>
<rect x="295.38" y="1054.85" width="14.82" height="15.75" fill="#f98e09"/>
<rect x="309.60" y="1054.85" width="14.82" height="15.75" fill="#dd513a"/>
<rect x="323.82" y="1054.85" width="14.82" height="15.75" fill="#dd513a"/>
<rect x="338.04" y="1054.85" width="14.82" height="15.75" fill="#bc3754"/>
<rect x="352.26" y="1054.85" width="14.82" height="15.75" fill="#a82e5f"/>
<rect x="167.40" y="1070.00" width="14.82" height="15.75" fill="#ea632a"/>
<rect x="181.62" y="1070.00" width="14.82" height="15.75" fill="#f37819"/>
<rect x="195.84" y="1070.00" width="14.82" height="15.75" fill="#dd513a"/>
<rect x="210.06" y="1070.00" width="14.82" height="15.75" fill="#dd513a"/>
<rect x="224.28" y="1070.00" width="14.82" height="15.75" fill="#ea632a"/>
<rect x="238.50" y="1070.00" width="14.82" height="15.75" fill="#ea632a"/>
<rect x="252.72" y="1070.00" width="14.82" height="15.75" fill="#dd513a"/>
<rect x="266.94" y="1070.00" width="14.82" height="15.75" fill="#bc3754"/>
<rect x="281.16" y="1070.00" width="14.82" height="15.75" fill="#ea632a"/>
<rect x="295.38" y="1070.00" width="14.82" height="15.75" fill="#f98e09"/>
<rect x="309.60" y="1070.00" width="14.82" height="15.75" fill="#dd513a"/>
<rect x="323.82" y="1070.00" width="14.82" height="15.75" fill="#bc3754"/>
<rect x="338.04" y="1070.00" width="14.82" height="15.75" fill="#dd513a"/>
<rect x="352.26" y="1070.00" width="14.82" height="15.75" fill="#a82e5f"/>
<rect x="366.48" y="1070.00" width="14.82" height="15.75" fill="#a82e5f"/>
<rect x="167.40" y="1085.15" width="14.82" height="15.75" fill="#f98e09"/>
<rect x="181.62" y="1085.15" width="14.82" height="15.75" fill="#f98e09"/>
<rect x="195.84" y="1085.15" width="14.82" height="15.75" fill="#dd513a"/>
<rect x="210.06" y="1085.15" width="14.82" height="15.75" fill="#dd513a"/>
<rect x="224.28" y="1085.15" width="14.82" height="15.75" fill="#f37819"/>
<rect x="238.50" y="1085.15" width="14.82" height="15.75" fill="#dd513a"/>
<rect x="252.72" y="1085.15" width="14.82" height="15.75" fill="#dd513a"/>
<rect x="266.94" y="1085.15" width="14.82" height="15.75" fill="#fca50a"/>
<rect x="281.16" y="1085.15" width="14.82" height="15.75" fill="#dd513a"/>
<rect x="295.38" y="1085.15" width="14.82" height="15.75" fill="#cc4248"/>
<rect x="309.60" y="1085.15" width="14.82" height="15.75" fill="#dd513a"/>
<rect x="323.82" y="1085.15" width="14.82" height="15.75" fill="#f37819"/>
<rect x="338.04" y="1085.15" width="14.82" height="15.75" fill="#dd513a"/>
<rect x="352.26" y="1085.15" width="14.82" height="15.75" fill="#cc4248"/>
<rect x="366.48" y="1085.15" width="14.82" height="15.75" fill="#dd513a"/>
<rect x="380.70" y="1085.15" width="14.82" height="15.75" fill="#a82e5f"/>
<rect x="167.40" y="1100.30" width="14.82" height="15.75" fill="#f98e09"/>
<rect x="181.62" y="1100.30" width="14.82" height="15.75" fill="#fbbe23"/>
<rect x="195.84" y="1100.30" width="14.82" height="15.75" fill="#dd513a"/>
<rect x="210.06" y="1100.30" width="14.82" height="15.75" fill="#f98e09"/>
<rect x="224.28" y="1100.30" width="14.82" height="15.75" fill="#fbbe23"/>
<rect x="238.50" y="1100.30" width="14.82" height="15.75" fill="#dd513a"/>
<rect x="252.72" y="1100.30" width="14.82" height="15.75" fill="#dd513a"/>
<rect x="266.94" y="1100.30" width="14.82" height="15.75" fill="#dd513a"/>
<rect x="281.16" y="1100.30" width="14.82" height="15.75" fill="#bc3754"/>
<rect x="295.38" y="1100.30" width="14.82" height="15.75" fill="#bc3754"/>
<rect x="309.60" y="1100.30" width="14.82" height="15.75" fill="#bc3754"/>
<rect x="323.82" y="1100.30" width="14.82" height="15.75" fill="#bc3754"/>
<rect x="338.04" y="1100.30" width="14.82" height="15.75" fill="#bc3754"/>
<rect x="352.26" y="1100.30" width="14.82" height="15.75" fill="#a82e5f"/>
<rect x="366.48" y="1100.30" width="14.82" height="15.75" fill="#dd513a"/>
<rect x="380.70" y="1100.30" width="14.82" height="15.75" fill="#bc3754"/>
<rect x="394.92" y="1100.30" width="14.82" height="15.75" fill="#932667"/>
<rect x="167.40" y="1115.45" width="14.82" height="15.75" fill="#f6d746"/>
<rect x="181.62" y="1115.45" width="14.82" height="15.75" fill="#f1ef75"/>
<rect x="195.84" y="1115.45" width="14.82" height="15.75" fill="#f98e09"/>
<rect x="210.06" y="1115.45" width="14.82" height="15.75" fill="#fca50a"/>
<rect x="224.28" y="1115.45" width="14.82" height="15.75" fill="#f98e09"/>
<rect x="238.50" y="1115.45" width="14.82" height="15.75" fill="#f37819"/>
<rect x="252.72" y="1115.45" width="14.82" height="15.75" fill="#ea632a"/>
<rect x="266.94" y="1115.45" width="14.82" height="15.75" fill="#dd513a"/>
<rect x="281.16" y="1115.45" width="14.82" height="15.75" fill="#cc4248"/>
<rect x="295.38" y="1115.45" width="14.82" height="15.75" fill="#dd513a"/>
<rect x="309.60" y="1115.45" width="14.82" height="15.75" fill="#a82e5f"/>
<rect x="323.82" y="1115.45" width="14.82" height="15.75" fill="#cc4248"/>
<rect x="338.04" y="1115.45" width="14.82" height="15.75" fill="#dd513a"/>
<rect x="352.26" y="1115.45" width="14.82" height="15.75" fill="#cc4248"/>
<rect x="366.48" y="1115.45" width="14.82" height="15.75" fill="#cc4248"/>
<rect x="380.70" y="1115.45" width="14.82" height="15.75" fill="#dd513a"/>
<rect x="394.92" y="1115.45" width="14.82" height="15.75" fill="#cc4248"/>
<rect x="409.14" y="1115.45" width="14.82" height="15.75" fill="#bc3754"/>
<rect x="423.36" y="1115.45" width="14.82" height="15.75" fill="#cc4248"/>
<rect x="167.40" y="1130.60" width="14.82" height="15.75" fill="#f6d746"/>
<rect x="181.62" y="1130.60" width="14.82" height="15.75" fill="#f98e09"/>
<rect x="195.84" y="1130.60" width="14.82" height="15.75" fill="#f98e09"/>
<rect x="210.06" y="1130.60" width="14.82" height="15.75" fill="#fca50a"/>
<rect x="224.28" y="1130.60" width="14.82" height="15.75" fill="#fca50a"/>
<rect x="238.50" y="1130.60" width="14.82" height="15.75" fill="#fca50a"/>
<rect x="252.72" y="1130.60" width="14.82" height="15.75" fill="#dd513a"/>
<rect x="266.94" y="1130.60" width="14.82" height="15.75" fill="#f37819"/>
<rect x="281.16" y="1130.60" width="14.82" height="15.75" fill="#ea632a"/>
<rect x="295.38" y="1130.60" width="14.82" height="15.75" fill="#a82e5f"/>
<rect x="309.60" y="1130.60" width="14.82" height="15.75" fill="#dd513a"/>
<rect x="323.82" y="1130.60" width="14.82" height="15.75" fill="#f37819"/>
<rect x="338.04" y="1130.60" width="14.82" height="15.75" fill="#cc4248"/>
<rect x="352.26" y="1130.60" width="14.82" height="15.75" fill="#dd513a"/>
<rect x="366.48" y="1130.60" width="14.82" height="15.75" fill="#cc4248"/>
<rect x="380.70" y="1130.60" width="14.82" height="15.75" fill="#cc4248"/>
<rect x="394.92" y="1130.60" width="14.82" height="15.75" fill="#932667"/>
<rect x="409.14" y="1130.60" width="14.82" height="15.75" fill="#dd513a"/>
<rect x="423.36" y="1130.60" width="14.82" height="15.75" fill="#932667"/>
<rect x="437.58" y="1130.60" width="14.82" height="15.75" fill="#bc3754"/>
<rect x="167.40" y="1145.75" width="14.82" height="15.75" fill="#fbbe23"/>
<rect x="181.62" y="1145.75" width="14.82" height="15.75" fill="#f6d746"/>
<rect x="195.84" y="1145.75" width="14.82" height="15.75" fill="#f6d746"/>
<rect x="210.06" y="1145.75" width="14.82" height="15.75" fill="#f37819"/>
<rect x="224.28" y="1145.75" width="14.82" height="15.75" fill="#fca50a"/>
<rect x="238.50" y="1145.75" width="14.82" height="15.75" fill="#fbbe23"/>
<rect x="252.72" y="1145.75" width="14.82" height="15.75" fill="#f98e09"/>
<rect x="266.94" y="1145.75" width="14.82" height="15.75" fill="#f37819"/>
<rect x="281.16" y="1145.75" width="14.82" height="15.75" fill="#fca50a"/>
<rect x="295.38" y="1145.75" width="14.82" height="15.75" fill="#dd513a"/>
<rect x="309.60" y="1145.75" width="14.82" height="15.75" fill="#f37819"/>
<rect x="323.82" y="1145.75" width="14.82" height="15.75" fill="#cc4248"/>
<rect x="338.04" y="1145.75" width="14.82" height="15.75" fill="#bc3754"/>
<rect x="352.26" y="1145.75" width="14.82" height="15.75" fill="#a82e5f"/>
<rect x="366.48" y="1145.75" width="14.82" height="15.75" fill="#932667"/>
<rect x="380.70" y="1145.75" width="14.82" height="15.75" fill="#6a176e"/>
<rect x="394.92" y="1145.75" width="14.82" height="15.75" fill="#dd513a"/>
<rect x="409.14" y="1145.75" width="14.82" height="15.75" fill="#dd513a"/>
<rect x="423.36" y="1145.75" width="14.82" height="15.75" fill="#bc3754"/>
<rect x="437.58" y="1145.75" width="14.82" height="15.75" fill="#dd513a"/>
<rect x="451.80" y="1145.75" width="14.82" height="15.75" fill="#cc4248"/>
<rect x="167.40" y="1160.90" width="14.82" height="15.75" fill="#f1ef75"/>
<rect x="181.62" y="1160.90" width="14.82" height="15.75" fill="#fca50a"/>
<rect x="195.84" y="1160.90" width="14.82" height="15.75" fill="#f98e09"/>
<rect x="210.06" y="1160.90" width="14.82" height="15.75" fill="#f6d746"/>
<rect x="224.28" y="1160.90" width="14.82" height="15.75" fill="#fbbe23"/>
<rect x="238.50" y="1160.90" width="14.82" height="15.75" fill="#f98e09"/>
<rect x="252.72" y="1160.90" width="14.82" height="15.75" fill="#fca50a"/>
<rect x="266.94" y="1160.90" width="14.82" height="15.75" fill="#f6d746"/>
<rect x="281.16" y="1160.90" width="14.82" height="15.75" fill="#fca50a"/>
<rect x="295.38" y="1160.90" width="14.82" height="15.75" fill="#fbbe23"/>
<rect x="309.60" y="1160.90" width="14.82" height="15.75" fill="#fca50a"/>
<rect x="323.82" y="1160.90" width="14.82" height="15.75" fill="#ea632a"/>
<rect x="338.04" y="1160.90" width="14.82" height="15.75" fill="#cc4248"/>
<rect x="352.26" y="1160.90" width="14.82" height="15.75" fill="#a82e5f"/>
<rect x="366.48" y="1160.90" width="14.82" height="15.75" fill="#bc3754"/>
<rect x="380.70" y="1160.90" width="14.82" height="15.75" fill="#dd513a"/>
<rect x="394.92" y="1160.90" width="14.82" height="15.75" fill="#cc4248"/>
<rect x="409.14" y="1160.90" width="14.82" height="15.75" fill="#bc3754"/>
<rect x="423.36" y="1160.90" width="14.82" height="15.75" fill="#dd513a"/>
<rect x="437.58" y="1160.90" width="14.82" height="15.75" fill="#bc3754"/>
<rect x="451.80" y="1160.90" width="14.82" height="15.75" fill="#dd513a"/>
<rect x="466.02" y="1160.90" width="14.82" height="15.75" fill="#bc3754"/>
<rect x="167.40" y="1176.05" width="14.82" height="15.75" fill="#f1ef75"/>
<rect x="181.62" y="1176.05" width="14.82" height="15.75" fill="#f98e09"/>
<rect x="195.84" y="1176.05" width="14.82" height="15.75" fill="#f6d746"/>
<rect x="210.06" y="1176.05" width="14.82" height="15.75" fill="#f1ef75"/>
<rect x="224.28" y="1176.05" width="14.82" height="15.75" fill="#fbbe23"/>
<rect x="238.50" y="1176.05" width="14.82" height="15.75" fill="#f98e09"/>
<rect x="252.72" y="1176.05" width="14.82" height="15.75" fill="#fca50a"/>
<rect x="266.94" y="1176.05" width="14.82" height="15.75" fill="#fca50a"/>
<rect x="281.16" y="1176.05" width="14.82" height="15.75" fill="#fca50a"/>
<rect x="295.38" y="1176.05" width="14.82" height="15.75" fill="#fca50a"/>
<rect x="309.60" y="1176.05" width="14.82" height="15.75" fill="#fca50a"/>
<rect x="323.82" y="1176.05" width="14.82" height="15.75" fill="#ea632a"/>
<rect x="338.04" y="1176.05" width="14.82" height="15.75" fill="#dd513a"/>
<rect x="352.26" y="1176.05" width="14.82" height="15.75" fill="#ea632a"/>
<rect x="366.48" y="1176.05" width="14.82" height="15.75" fill="#a82e5f"/>
<rect x="380.70" y="1176.05" width="14.82" height="15.75" fill="#dd513a"/>
<rect x="394.92" y="1176.05" width="14.82" height="15.75" fill="#dd513a"/>
<rect x="409.14" y="1176.05" width="14.82" height="15.75" fill="#932667"/>
<rect x="423.36" y="1176.05" width="14.82" height="15.75" fill="#cc4248"/>
<rect x="437.58" y="1176.05" width="14.82" height="15.75" fill="#bc3754"/>
<rect x="451.80" y="1176.05" width="14.82" height="15.75" fill="#bc3754"/>
<rect x="466.02" y="1176.05" width="14.82" height="15.75" fill="#bc3754"/>
<rect x="480.24" y="1176.05" width="14.82" height="15.75" fill="#bc3754"/>
<rect x="167.40" y="1191.20" width="14.82" height="15.75" fill="#f1ef75"/>
<rect x="181.62" y="1191.20" width="14.82" height="15.75" fill="#fca50a"/>
<rect x="195.84" y="1191.20" width="14.82" height="15.75" fill="#f6d746"/>
<rect x="210.06" y="1191.20" width="14.82" height="15.75" fill="#fca50a"/>
<rect x="224.28" y="1191.20" width="14.82" height="15.75" fill="#fca50a"/>
<rect x="238.50" y="1191.20" width="14.82" height="15.75" fill="#fca50a"/>
<rect x="252.72" y="1191.20" width="14.82" height="15.75" fill="#fbbe23"/>
<rect x="266.94" y="1191.20" width="14.82" height="15.75" fill="#fbbe23"/>
<rect x="281.16" y="1191.20" width="14.82" height="15.75" fill="#f37819"/>
<rect x="295.38" y="1191.20" width="14.82" height="15.75" fill="#f37819"/>
<rect x="309.60" y="1191.20" width="14.82" height="15.75" fill="#dd513a"/>
<rect x="323.82" y="1191.20" width="14.82" height="15.75" fill="#ea632a"/>
<rect x="338.04" y="1191.20" width="14.82" height="15.75" fill="#a82e5f"/>
<rect x="352.26" y="1191.20" width="14.82" height="15.75" fill="#ea632a"/>
<rect x="366.48" y="1191.20" width="14.82" height="15.75" fill="#a82e5f"/>
<rect x="380.70" y="1191.20" width="14.82" height="15.75" fill="#a82e5f"/>
<rect x="394.92" y="1191.20" width="14.82" height="15.75" fill="#dd513a"/>
<rect x="409.14" y="1191.20" width="14.82" height="15.75" fill="#dd513a"/>
<rect x="423.36" y="1191.20" width="14.82" height="15.75" fill="#dd513a"/>
<rect x="437.58" y="1191.20" width="14.82" height="15.75" fill="#dd513a"/>
<rect x="451.80" y="1191.20" width="14.82" height="15.75" fill="#bc3754"/>
<rect x="466.02" y="1191.20" width="14.82" height="15.75" fill="#bc3754"/>
<rect x="480.24" y="1191.20" width="14.82" height="15.75" fill="#932667"/>
<rect x="494.46" y="1191.20" width="14.82" height="15.75" fill="#a82e5f"/>
<rect x="167.40" y="1206.35" width="14.82" height="15.75" fill="#f1ef75"/>
<rect x="181.62" y="1206.35" width="14.82" height="15.75" fill="#f1ef75"/>
<rect x="195.84" y="1206.35" width="14.82" height="15.75" fill="#f1ef75"/>
<rect x="210.06" y="1206.35" width="14.82" height="15.75" fill="#fca50a"/>
<rect x="224.28" y="1206.35" width="14.82" height="15.75" fill="#f98e09"/>
<rect x="238.50" y="1206.35" width="14.82" height="15.75" fill="#fbbe23"/>
<rect x="252.72" y="1206.35" width="14.82" height="15.75" fill="#fca50a"/>
<rect x="266.94" y="1206.35" width="14.82" height="15.75" fill="#fbbe23"/>
<rect x="281.16" y="1206.35" width="14.82" height="15.75" fill="#f98e09"/>
<rect x="295.38" y="1206.35" width="14.82" height="15.75" fill="#ea632a"/>
<rect x="309.60" y="1206.35" width="14.82" height="15.75" fill="#fca50a"/>
<rect x="323.82" y="1206.35" width="14.82" height="15.75" fill="#ea632a"/>
<rect x="338.04" y="1206.35" width="14.82" height="15.75" fill="#f37819"/>
<rect x="352.26" y="1206.35" width="14.82" height="15.75" fill="#f98e09"/>
<rect x="366.48" y="1206.35" width="14.82" height="15.75" fill="#ea632a"/>
<rect x="380.70" y="1206.35" width="14.82" height="15.75" fill="#a82e5f"/>
<rect x="394.92" y="1206.35" width="14.82" height="15.75" fill="#a82e5f"/>
<rect x="409.14" y="1206.35" width="14.82" height="15.75" fill="#932667"/>
<rect x="423.36" y="1206.35" width="14.82" height="15.75" fill="#6a176e"/>
<rect x="437.58" y="1206.35" width="14.82" height="15.75" fill="#7f1e6c"/>
<rect x="451.80" y="1206.35" width="14.82" height="15.75" fill="#bc3754"/>
<rect x="466.02" y="1206.35" width="14.82" height="15.75" fill="#cc4248"/>
<rect x="480.24" y="1206.35" width="14.82" height="15.75" fill="#7f1e6c"/>
<rect x="494.46" y="1206.35" width="14.82" height="15.75" fill="#bc3754"/>
<rect x="508.68" y="1206.35" width="14.82" height="15.75" fill="#a82e5f"/>
<rect x="181.62" y="1221.50" width="14.82" height="15.75" fill="#fcffa4"/>
<rect x="195.84" y="1221.50" width="14.82" height="15.75" fill="#f1ef75"/>
<rect x="210.06" y="1221.50" width="14.82" height="15.75" fill="#f6d746"/>
<rect x="224.28" y="1221.50" width="14.82" height="15.75" fill="#f6d746"/>
<rect x="238.50" y="1221.50" width="14.82" height="15.75" fill="#fbbe23"/>
<rect x="252.72" y="1221.50" width="14.82" height="15.75" fill="#f98e09"/>
<rect x="266.94" y="1221.50" width="14.82" height="15.75" fill="#f37819"/>
<rect x="281.16" y="1221.50" width="14.82" height="15.75" fill="#fca50a"/>
<rect x="295.38" y="1221.50" width="14.82" height="15.75" fill="#ea632a"/>
<rect x="309.60" y="1221.50" width="14.82" height="15.75" fill="#ea632a"/>
<rect x="323.82" y="1221.50" width="14.82" height="15.75" fill="#f37819"/>
<rect x="338.04" y="1221.50" width="14.82" height="15.75" fill="#f37819"/>
<rect x="352.26" y="1221.50" width="14.82" height="15.75" fill="#fca50a"/>
<rect x="366.48" y="1221.50" width="14.82" height="15.75" fill="#7f1e6c"/>
<rect x="380.70" y="1221.50" width="14.82" height="15.75" fill="#dd513a"/>
<rect x="394.92" y="1221.50" width="14.82" height="15.75" fill="#dd513a"/>
<rect x="409.14" y="1221.50" width="14.82" height="15.75" fill="#932667"/>
<rect x="423.36" y="1221.50" width="14.82" height="15.75" fill="#bc3754"/>
<rect x="437.58" y="1221.50" width="14.82" height="15.75" fill="#ea632a"/>
<rect x="451.80" y="1221.50" width="14.82" height="15.75" fill="#932667"/>
<rect x="466.02" y="1221.50" width="14.82" height="15.75" fill="#57106e"/>
<rect x="480.24" y="1221.50" width="14.82" height="15.75" fill="#bc3754"/>
<rect x="494.46" y="1221.50" width="14.82" height="15.75" fill="#7f1e6c"/>
<rect x="508.68" y="1221.50" width="14.82" height="15.75" fill="#7f1e6c"/>
<rect x="522.90" y="1221.50" width="14.82" height="15.75" fill="#a82e5f"/>
<rect x="181.62" y="1236.65" width="14.82" height="15.75" fill="#f1ef75"/>
<rect x="195.84" y="1236.65" width="14.82" height="15.75" fill="#f1ef75"/>
<rect x="210.06" y="1236.65" width="14.82" height="15.75" fill="#f6d746"/>
<rect x="224.28" y="1236.65" width="14.82" height="15.75" fill="#f98e09"/>
<rect x="238.50" y="1236.65" width="14.82" height="15.75" fill="#f37819"/>
<rect x="252.72" y="1236.65" width="14.82" height="15.75" fill="#f37819"/>
<rect x="266.94" y="1236.65" width="14.82" height="15.75" fill="#f98e09"/>
<rect x="281.16" y="1236.65" width="14.82" height="15.75" fill="#fca50a"/>
<rect x="295.38" y="1236.65" width="14.82" height="15.75" fill="#dd513a"/>
<rect x="309.60" y="1236.65" width="14.82" height="15.75" fill="#ea632a"/>
<rect x="323.82" y="1236.65" width="14.82" height="15.75" fill="#f37819"/>
<rect x="338.04" y="1236.65" width="14.82" height="15.75" fill="#f98e09"/>
<rect x="352.26" y="1236.65" width="14.82" height="15.75" fill="#f98e09"/>
<rect x="366.48" y="1236.65" width="14.82" height="15.75" fill="#dd513a"/>
<rect x="380.70" y="1236.65" width="14.82" height="15.75" fill="#ea632a"/>
<rect x="394.92" y="1236.65" width="14.82" height="15.75" fill="#a82e5f"/>
<rect x="409.14" y="1236.65" width="14.82" height="15.75" fill="#7f1e6c"/>
<rect x="423.36" y="1236.65" width="14.82" height="15.75" fill="#bc3754"/>
<rect x="437.58" y="1236.65" width="14.82" height="15.75" fill="#6a176e"/>
<rect x="451.80" y="1236.65" width="14.82" height="15.75" fill="#7f1e6c"/>
<rect x="466.02" y="1236.65" width="14.82" height="15.75" fill="#6a176e"/>
<rect x="480.24" y="1236.65" width="14.82" height="15.75" fill="#dd513a"/>
<rect x="494.46" y="1236.65" width="14.82" height="15.75" fill="#cc4248"/>
<rect x="508.68" y="1236.65" width="14.82" height="15.75" fill="#6a176e"/>
<rect x="522.90" y="1236.65" width="14.82" height="15.75" fill="#bc3754"/>
<rect x="537.12" y="1236.65" width="14.82" height="15.75" fill="#bc3754"/>
<rect x="181.62" y="1251.80" width="14.82" height="15.75" fill="#f1ef75"/>
<rect x="195.84" y="1251.80" width="14.82" height="15.75" fill="#fbbe23"/>
<rect x="210.06" y="1251.80" width="14.82" height="15.75" fill="#f98e09"/>
<rect x="224.28" y="1251.80" width="14.82" height="15.75" fill="#f37819"/>
<rect x="238.50" y="1251.80" width="14.82" height="15.75" fill="#f98e09"/>
<rect x="252.72" y="1251.80" width="14.82" height="15.75" fill="#fca50a"/>
<rect x="266.94" y="1251.80" width="14.82" height="15.75" fill="#f37819"/>
<rect x="281.16" y="1251.80" width="14.82" height="15.75" fill="#f98e09"/>
<rect x="295.38" y="1251.80" width="14.82" height="15.75" fill="#cc4248"/>
<rect x="309.60" y="1251.80" width="14.82" height="15.75" fill="#f98e09"/>
<rect x="323.82" y="1251.80" width="14.82" height="15.75" fill="#f98e09"/>
<rect x="338.04" y="1251.80" width="14.82" height="15.75" fill="#f98e09"/>
<rect x="352.26" y="1251.80" width="14.82" height="15.75" fill="#dd513a"/>
<rect x="366.48" y="1251.80" width="14.82" height="15.75" fill="#ea632a"/>
<rect x="380.70" y="1251.80" width="14.82" height="15.75" fill="#dd513a"/>
<rect x="394.92" y="1251.80" width="14.82" height="15.75" fill="#bc3754"/>
<rect x="409.14" y="1251.80" width="14.82" height="15.75" fill="#cc4248"/>
<rect x="423.36" y="1251.80" width="14.82" height="15.75" fill="#932667"/>
<rect x="437.58" y="1251.80" width="14.82" height="15.75" fill="#932667"/>
<rect x="451.80" y="1251.80" width="14.82" height="15.75" fill="#7f1e6c"/>
<rect x="466.02" y="1251.80" width="14.82" height="15.75" fill="#cc4248"/>
<rect x="480.24" y="1251.80" width="14.82" height="15.75" fill="#57106e"/>
<rect x="494.46" y="1251.80" width="14.82" height="15.75" fill="#a82e5f"/>
<rect x="508.68" y="1251.80" width="14.82" height="15.75" fill="#6a176e"/>
<rect x="522.90" y="1251.80" width="14.82" height="15.75" fill="#dd513a"/>
<rect x="537.12" y="1251.80" width="14.82" height="15.75" fill="#bc3754"/>
<rect x="181.62" y="1266.95" width="14.82" height="15.75" fill="#f6d746"/>
<rect x="195.84" y="1266.95" width="14.82" height="15.75" fill="#fca50a"/>
<rect x="210.06" y="1266.95" width="14.82" height="15.75" fill="#fbbe23"/>
<rect x="224.28" y="1266.95" width="14.82" height="15.75" fill="#f6d746"/>
<rect x="238.50" y="1266.95" width="14.82" height="15.75" fill="#fca50a"/>
<rect x="252.72" y="1266.95" width="14.82" height="15.75" fill="#fbbe23"/>
<rect x="266.94" y="1266.95" width="14.82" height="15.75" fill="#fca50a"/>
<rect x="281.16" y="1266.95" width="14.82" height="15.75" fill="#f98e09"/>
<rect x="295.38" y="1266.95" width="14.82" height="15.75" fill="#f37819"/>
<rect x="309.60" y="1266.95" width="14.82" height="15.75" fill="#dd513a"/>
<rect x="323.82" y="1266.95" width="14.82" height="15.75" fill="#f98e09"/>
<rect x="338.04" y="1266.95" width="14.82" height="15.75" fill="#f98e09"/>
<rect x="352.26" y="1266.95" width="14.82" height="15.75" fill="#dd513a"/>
<rect x="366.48" y="1266.95" width="14.82" height="15.75" fill="#dd513a"/>
<rect x="380.70" y="1266.95" width="14.82" height="15.75" fill="#f37819"/>
<rect x="394.92" y="1266.95" width="14.82" height="15.75" fill="#ea632a"/>
<rect x="409.14" y="1266.95" width="14.82" height="15.75" fill="#dd513a"/>
<rect x="423.36" y="1266.95" width="14.82" height="15.75" fill="#bc3754"/>
<rect x="437.58" y="1266.95" width="14.82" height="15.75" fill="#dd513a"/>
<rect x="451.80" y="1266.95" width="14.82" height="15.75" fill="#6a176e"/>
<rect x="466.02" y="1266.95" width="14.82" height="15.75" fill="#6a176e"/>
<rect x="480.24" y="1266.95" width="14.82" height="15.75" fill="#2b0b57"/>
<rect x="494.46" y="1266.95" width="14.82" height="15.75" fill="#57106e"/>
<rect x="508.68" y="1266.95" width="14.82" height="15.75" fill="#a82e5f"/>
<rect x="522.90" y="1266.95" width="14.82" height="15.75" fill="#420a68"/>
<rect x="537.12" y="1266.95" width="14.82" height="15.75" fill="#a82e5f"/>
<rect x="551.34" y="1266.95" width="14.82" height="15.75" fill="#a82e5f"/>
<rect x="195.84" y="1282.10" width="14.82" height="15.75" fill="#f98e09"/>
<rect x="210.06" y="1282.10" width="14.82" height="15.75" fill="#fbbe23"/>
<rect x="224.28" y="1282.10" width="14.82" height="15.75" fill="#f6d746"/>
<rect x="238.50" y="1282.10" width="14.82" height="15.75" fill="#f6d746"/>
<rect x="252.72" y="1282.10" width="14.82" height="15.75" fill="#f6d746"/>
<rect x="266.94" y="1282.10" width="14.82" height="15.75" fill="#fbbe23"/>
<rect x="281.16" y="1282.10" width="14.82" height="15.75" fill="#fca50a"/>
<rect x="295.38" y="1282.10" width="14.82" height="15.75" fill="#f37819"/>
<rect x="309.60" y="1282.10" width="14.82" height="15.75" fill="#ea632a"/>
<rect x="323.82" y="1282.10" width="14.82" height="15.75" fill="#f98e09"/>
<rect x="338.04" y="1282.10" width="14.82" height="15.75" fill="#f98e09"/>
<rect x="352.26" y="1282.10" width="14.82" height="15.75" fill="#ea632a"/>
<rect x="366.48" y="1282.10" width="14.82" height="15.75" fill="#f98e09"/>
<rect x="380.70" y="1282.10" width="14.82" height="15.75" fill="#dd513a"/>
<rect x="394.92" y="1282.10" width="14.82" height="15.75" fill="#bc3754"/>
<rect x="409.14" y="1282.10" width="14.82" height="15.75" fill="#dd513a"/>
<rect x="423.36" y="1282.10" width="14.82" height="15.75" fill="#a82e5f"/>
<rect x="437.58" y="1282.10" width="14.82" height="15.75" fill="#a82e5f"/>
<rect x="451.80" y="1282.10" width="14.82" height="15.75" fill="#a82e5f"/>
<rect x="466.02" y="1282.10" width="14.82" height="15.75" fill="#a82e5f"/>
<rect x="480.24" y="1282.10" width="14.82" height="15.75" fill="#6a176e"/>
<rect x="494.46" y="1282.10" width="14.82" height="15.75" fill="#2b0b57"/>
<rect x="508.68" y="1282.10" width="14.82" height="15.75" fill="#cc4248"/>
<rect x="522.90" y="1282.10" width="14.82" height="15.75" fill="#160b39"/>
<rect x="537.12" y="1282.10" width="14.82" height="15.75" fill="#420a68"/>
<rect x="551.34" y="1282.10" width="14.82" height="15.75" fill="#6a176e"/>
<rect x="565.56" y="1282.10" width="14.82" height="15.75" fill="#bc3754"/>
<rect x="195.84" y="1297.25" width="14.82" height="15.75" fill="#fca50a"/>
<rect x="210.06" y="1297.25" width="14.82" height="15.75" fill="#fca50a"/>
<rect x="224.28" y="1297.25" width="14.82" height="15.75" fill="#f1ef75"/>
<rect x="238.50" y="1297.25" width="14.82" height="15.75" fill="#f1ef75"/>
<rect x="252.72" y="1297.25" width="14.82" height="15.75" fill="#fbbe23"/>
<rect x="266.94" y="1297.25" width="14.82" height="15.75" fill="#fca50a"/>
<rect x="281.16" y="1297.25" width="14.82" height="15.75" fill="#f98e09"/>
<rect x="295.38" y="1297.25" width="14.82" height="15.75" fill="#f37819"/>
<rect x="309.60" y="1297.25" width="14.82" height="15.75" fill="#ea632a"/>
<rect x="323.82" y="1297.25" width="14.82" height="15.75" fill="#f98e09"/>
<rect x="338.04" y="1297.25" width="14.82" height="15.75" fill="#a82e5f"/>
<rect x="352.26" y="1297.25" width="14.82" height="15.75" fill="#fca50a"/>
<rect x="366.48" y="1297.25" width="14.82" height="15.75" fill="#ea632a"/>
<rect x="380.70" y="1297.25" width="14.82" height="15.75" fill="#dd513a"/>
<rect x="394.92" y="1297.25" width="14.82" height="15.75" fill="#ea632a"/>
<rect x="409.14" y="1297.25" width="14.82" height="15.75" fill="#cc4248"/>
<rect x="423.36" y="1297.25" width="14.82" height="15.75" fill="#ea632a"/>
<rect x="437.58" y="1297.25" width="14.82" height="15.75" fill="#6a176e"/>
<rect x="451.80" y="1297.25" width="14.82" height="15.75" fill="#f98e09"/>
<rect x="466.02" y="1297.25" width="14.82" height="15.75" fill="#57106e"/>
<rect x="480.24" y="1297.25" width="14.82" height="15.75" fill="#57106e"/>
<rect x="494.46" y="1297.25" width="14.82" height="15.75" fill="#6a176e"/>
<rect x="508.68" y="1297.25" width="14.82" height="15.75" fill="#6a176e"/>
<rect x="522.90" y="1297.25" width="14.82" height="15.75" fill="#2b0b57"/>
<rect x="537.12" y="1297.25" width="14.82" height="15.75" fill="#7f1e6c"/>
<rect x="551.34" y="1297.25" width="14.82" height="15.75" fill="#7f1e6c"/>
<rect x="565.56" y="1297.25" width="14.82" height="15.75" fill="#57106e"/>
<rect x="579.78" y="1297.25" width="14.82" height="15.75" fill="#932667"/>
<rect x="210.06" y="1312.40" width="14.82" height="15.75" fill="#f37819"/>
<rect x="224.28" y="1312.40" width="14.82" height="15.75" fill="#fbbe23"/>
<rect x="238.50" y="1312.40" width="14.82" height="15.75" fill="#f1ef75"/>
<rect x="252.72" y="1312.40" width="14.82" height="15.75" fill="#fbbe23"/>
<rect x="266.94" y="1312.40" width="14.82" height="15.75" fill="#fca50a"/>
<rect x="281.16" y="1312.40" width="14.82" height="15.75" fill="#f98e09"/>
<rect x="295.38" y="1312.40" width="14.82" height="15.75" fill="#f98e09"/>
<rect x="309.60" y="1312.40" width="14.82" height="15.75" fill="#f37819"/>
<rect x="323.82" y="1312.40" width="14.82" height="15.75" fill="#fca50a"/>
<rect x="338.04" y="1312.40" width="14.82" height="15.75" fill="#ea632a"/>
<rect x="352.26" y="1312.40" width="14.82" height="15.75" fill="#cc4248"/>
<rect x="366.48" y="1312.40" width="14.82" height="15.75" fill="#ea632a"/>
<rect x="380.70" y="1312.40" width="14.82" height="15.75" fill="#ea632a"/>
<rect x="394.92" y="1312.40" width="14.82" height="15.75" fill="#dd513a"/>
<rect x="409.14" y="1312.40" width="14.82" height="15.75" fill="#dd513a"/>
<rect x="423.36" y="1312.40" width="14.82" height="15.75" fill="#ea632a"/>
<rect x="437.58" y="1312.40" width="14.82" height="15.75" fill="#bc3754"/>
<rect x="451.80" y="1312.40" width="14.82" height="15.75" fill="#dd513a"/>
<rect x="466.02" y="1312.40" width="14.82" height="15.75" fill="#a82e5f"/>
<rect x="480.24" y="1312.40" width="14.82" height="15.75" fill="#cc4248"/>
<rect x="494.46" y="1312.40" width="14.82" height="15.75" fill="#a82e5f"/>
<rect x="508.68" y="1312.40" width="14.82" height="15.75" fill="#bc3754"/>
<rect x="522.90" y="1312.40" width="14.82" height="15.75" fill="#420a68"/>
<rect x="537.12" y="1312.40" width="14.82" height="15.75" fill="#7f1e6c"/>
<rect x="551.34" y="1312.40" width="14.82" height="15.75" fill="#7f1e6c"/>
<rect x="565.56" y="1312.40" width="14.82" height="15.75" fill="#57106e"/>
<rect x="579.78" y="1312.40" width="14.82" height="15.75" fill="#7f1e6c"/>
<rect x="224.28" y="1327.55" width="14.82" height="15.75" fill="#f98e09"/>
<rect x="238.50" y="1327.55" width="14.82" height="15.75" fill="#f6d746"/>
<rect x="252.72" y="1327.55" width="14.82" height="15.75" fill="#fbbe23"/>
<rect x="266.94" y="1327.55" width="14.82" height="15.75" fill="#f98e09"/>
<rect x="281.16" y="1327.55" width="14.82" height="15.75" fill="#f98e09"/>
<rect x="295.38" y="1327.55" width="14.82" height="15.75" fill="#f98e09"/>
<rect x="309.60" y="1327.55" width="14.82" height="15.75" fill="#f98e09"/>
<rect x="323.82" y="1327.55" width="14.82" height="15.75" fill="#fbbe23"/>
<rect x="338.04" y="1327.55" width="14.82" height="15.75" fill="#f98e09"/>
<rect x="352.26" y="1327.55" width="14.82" height="15.75" fill="#ea632a"/>
<rect x="366.48" y="1327.55" width="14.82" height="15.75" fill="#ea632a"/>
<rect x="380.70" y="1327.55" width="14.82" height="15.75" fill="#bc3754"/>
<rect x="394.92" y="1327.55" width="14.82" height="15.75" fill="#a82e5f"/>
<rect x="409.14" y="1327.55" width="14.82" height="15.75" fill="#dd513a"/>
<rect x="423.36" y="1327.55" width="14.82" height="15.75" fill="#dd513a"/>
<rect x="437.58" y="1327.55" width="14.82" height="15.75" fill="#dd513a"/>
<rect x="451.80" y="1327.55" width="14.82" height="15.75" fill="#f37819"/>
<rect x="466.02" y="1327.55" width="14.82" height="15.75" fill="#cc4248"/>
<rect x="480.24" y="1327.55" width="14.82" height="15.75" fill="#932667"/>
<rect x="494.46" y="1327.55" width="14.82" height="15.75" fill="#bc3754"/>
<rect x="508.68" y="1327.55" width="14.82" height="15.75" fill="#932667"/>
<rect x="522.90" y="1327.55" width="14.82" height="15.75" fill="#7f1e6c"/>
<rect x="537.12" y="1327.55" width="14.82" height="15.75" fill="#932667"/>
<rect x="551.34" y="1327.55" width="14.82" height="15.75" fill="#57106e"/>
<rect x="565.56" y="1327.55" width="14.82" height="15.75" fill="#57106e"/>
<rect x="579.78" y="1327.55" width="14.82" height="15.75" fill="#7f1e6c"/>
<rect x="594.00" y="1327.55" width="14.82" height="15.75" fill="#7f1e6c"/>
<rect x="224.28" y="1342.70" width="14.82" height="15.75" fill="#f37819"/>
<rect x="238.50" y="1342.70" width="14.82" height="15.75" fill="#fca50a"/>
<rect x="252.72" y="1342.70" width="14.82" height="15.75" fill="#fbbe23"/>
<rect x="266.94" y="1342.70" width="14.82" height="15.75" fill="#f98e09"/>
<rect x="281.16" y="1342.70" width="14.82" height="15.75" fill="#f98e09"/>
<rect x="295.38" y="1342.70" width="14.82" height="15.75" fill="#f98e09"/>
<rect x="309.60" y="1342.70" width="14.82" height="15.75" fill="#fca50a"/>
<rect x="323.82" y="1342.70" width="14.82" height="15.75" fill="#f98e09"/>
<rect x="338.04" y="1342.70" width="14.82" height="15.75" fill="#f37819"/>
<rect x="352.26" y="1342.70" width="14.82" height="15.75" fill="#f98e09"/>
<rect x="366.48" y="1342.70" width="14.82" height="15.75" fill="#f98e09"/>
<rect x="380.70" y="1342.70" width="14.82" height="15.75" fill="#ea632a"/>
<rect x="394.92" y="1342.70" width="14.82" height="15.75" fill="#a82e5f"/>
<rect x="409.14" y="1342.70" width="14.82" height="15.75" fill="#cc4248"/>
<rect x="423.36" y="1342.70" width="14.82" height="15.75" fill="#a82e5f"/>
<rect x="437.58" y="1342.70" width="14.82" height="15.75" fill="#932667"/>
<rect x="451.80" y="1342.70" width="14.82" height="15.75" fill="#bc3754"/>
<rect x="466.02" y="1342.70" width="14.82" height="15.75" fill="#a82e5f"/>
<rect x="480.24" y="1342.70" width="14.82" height="15.75" fill="#932667"/>
<rect x="494.46" y="1342.70" width="14.82" height="15.75" fill="#a82e5f"/>
<rect x="508.68" y="1342.70" width="14.82" height="15.75" fill="#57106e"/>
<rect x="522.90" y="1342.70" width="14.82" height="15.75" fill="#bc3754"/>
<rect x="537.12" y="1342.70" width="14.82" height="15.75" fill="#bc3754"/>
<rect x="551.34" y="1342.70" width="14.82" height="15.75" fill="#2b0b57"/>
<rect x="565.56" y="1342.70" width="14.82" height="15.75" fill="#6a176e"/>
<rect x="579.78" y="1342.70" width="14.82" height="15.75" fill="#160b39"/>
<rect x="594.00" y="1342.70" width="14.82" height="15.75" fill="#57106e"/>
<rect x="608.22" y="1342.70" width="14.82" height="15.75" fill="#7f1e6c"/>
<rect x="238.50" y="1357.85" width="14.82" height="15.75" fill="#ea632a"/>
<rect x="252.72" y="1357.85" width="14.82" height="15.75" fill="#fbbe23"/>
<rect x="266.94" y="1357.85" width="14.82" height="15.75" fill="#f98e09"/>
<rect x="281.16" y="1357.85" width="14.82" height="15.75" fill="#f37819"/>
<rect x="295.38" y="1357.85" width="14.82" height="15.75" fill="#f37819"/>
<rect x="309.60" y="1357.85" width="14.82" height="15.75" fill="#f37819"/>
<rect x="323.82" y="1357.85" width="14.82" height="15.75" fill="#f37819"/>
<rect x="338.04" y="1357.85" width="14.82" height="15.75" fill="#dd513a"/>
<rect x="352.26" y="1357.85" width="14.82" height="15.75" fill="#ea632a"/>
<rect x="366.48" y="1357.85" width="14.82" height="15.75" fill="#f37819"/>
<rect x="380.70" y="1357.85" width="14.82" height="15.75" fill="#dd513a"/>
<rect x="394.92" y="1357.85" width="14.82" height="15.75" fill="#dd513a"/>
<rect x="409.14" y="1357.85" width="14.82" height="15.75" fill="#cc4248"/>
<rect x="423.36" y="1357.85" width="14.82" height="15.75" fill="#cc4248"/>
<rect x="437.58" y="1357.85" width="14.82" height="15.75" fill="#dd513a"/>
<rect x="451.80" y="1357.85" width="14.82" height="15.75" fill="#f37819"/>
<rect x="466.02" y="1357.85" width="14.82" height="15.75" fill="#6a176e"/>
<rect x="480.24" y="1357.85" width="14.82" height="15.75" fill="#bc3754"/>
<rect x="494.46" y="1357.85" width="14.82" height="15.75" fill="#bc3754"/>
<rect x="508.68" y="1357.85" width="14.82" height="15.75" fill="#932667"/>
<rect x="522.90" y="1357.85" width="14.82" height="15.75" fill="#bc3754"/>
<rect x="537.12" y="1357.85" width="14.82" height="15.75" fill="#bc3754"/>
<rect x="551.34" y="1357.85" width="14.82" height="15.75" fill="#932667"/>
<rect x="565.56" y="1357.85" width="14.82" height="15.75" fill="#6a176e"/>
<rect x="579.78" y="1357.85" width="14.82" height="15.75" fill="#160b39"/>
<rect x="594.00" y="1357.85" width="14.82" height="15.75" fill="#932667"/>
<rect x="608.22" y="1357.85" width="14.82" height="15.75" fill="#7f1e6c"/>
<rect x="238.50" y="1373.00" width="14.82" height="15.75" fill="#f98e09"/>
<rect x="252.72" y="1373.00" width="14.82" height="15.75" fill="#f37819"/>
<rect x="266.94" y="1373.00" width="14.82" height="15.75" fill="#f98e09"/>
<rect x="281.16" y="1373.00" width="14.82" height="15.75" fill="#ea632a"/>
<rect x="295.38" y="1373.00" width="14.82" height="15.75" fill="#ea632a"/>
<rect x="309.60" y="1373.00" width="14.82" height="15.75" fill="#ea632a"/>
<rect x="323.82" y="1373.00" width="14.82" height="15.75" fill="#ea632a"/>
<rect x="338.04" y="1373.00" width="14.82" height="15.75" fill="#fca50a"/>
<rect x="352.26" y="1373.00" width="14.82" height="15.75" fill="#f37819"/>
<rect x="366.48" y="1373.00" width="14.82" height="15.75" fill="#f37819"/>
<rect x="380.70" y="1373.00" width="14.82" height="15.75" fill="#f37819"/>
<rect x="394.92" y="1373.00" width="14.82" height="15.75" fill="#ea632a"/>
<rect x="409.14" y="1373.00" width="14.82" height="15.75" fill="#ea632a"/>
<rect x="423.36" y="1373.00" width="14.82" height="15.75" fill="#7f1e6c"/>
<rect x="437.58" y="1373.00" width="14.82" height="15.75" fill="#a82e5f"/>
<rect x="451.80" y="1373.00" width="14.82" height="15.75" fill="#bc3754"/>
<rect x="466.02" y="1373.00" width="14.82" height="15.75" fill="#a82e5f"/>
<rect x="480.24" y="1373.00" width="14.82" height="15.75" fill="#cc4248"/>
<rect x="494.46" y="1373.00" width="14.82" height="15.75" fill="#dd513a"/>
<rect x="508.68" y="1373.00" width="14.82" height="15.75" fill="#dd513a"/>
<rect x="522.90" y="1373.00" width="14.82" height="15.75" fill="#bc3754"/>
<rect x="537.12" y="1373.00" width="14.82" height="15.75" fill="#420a68"/>
<rect x="551.34" y="1373.00" width="14.82" height="15.75" fill="#932667"/>
<rect x="565.56" y="1373.00" width="14.82" height="15.75" fill="#6a176e"/>
<rect x="579.78" y="1373.00" width="14.82" height="15.75" fill="#07051b"/>
<rect x="594.00" y="1373.00" width="14.82" height="15.75" fill="#6a176e"/>
<rect x="608.22" y="1373.00" width="14.82" height="15.75" fill="#57106e"/>
<rect x="622.44" y="1373.00" width="14.82" height="15.75" fill="#6a176e"/>
<rect x="252.72" y="1388.15" width="14.82" height="15.75" fill="#dd513a"/>
<rect x="266.94" y="1388.15" width="14.82" height="15.75" fill="#fca50a"/>
<rect x="281.16" y="1388.15" width="14.82" height="15.75" fill="#f37819"/>
<rect x="295.38" y="1388.15" width="14.82" height="15.75" fill="#f37819"/>
<rect x="309.60" y="1388.15" width="14.82" height="15.75" fill="#f37819"/>
<rect x="323.82" y="1388.15" width="14.82" height="15.75" fill="#f37819"/>
<rect x="338.04" y="1388.15" width="14.82" height="15.75" fill="#f37819"/>
<rect x="352.26" y="1388.15" width="14.82" height="15.75" fill="#f37819"/>
<rect x="366.48" y="1388.15" width="14.82" height="15.75" fill="#f37819"/>
<rect x="380.70" y="1388.15" width="14.82" height="15.75" fill="#f37819"/>
<rect x="394.92" y="1388.15" width="14.82" height="15.75" fill="#f98e09"/>
<rect x="409.14" y="1388.15" width="14.82" height="15.75" fill="#dd513a"/>
<rect x="423.36" y="1388.15" width="14.82" height="15.75" fill="#a82e5f"/>
<rect x="437.58" y="1388.15" width="14.82" height="15.75" fill="#cc4248"/>
<rect x="451.80" y="1388.15" width="14.82" height="15.75" fill="#ea632a"/>
<rect x="466.02" y="1388.15" width="14.82" height="15.75" fill="#dd513a"/>
<rect x="480.24" y="1388.15" width="14.82" height="15.75" fill="#932667"/>
<rect x="494.46" y="1388.15" width="14.82" height="15.75" fill="#cc4248"/>
<rect x="508.68" y="1388.15" width="14.82" height="15.75" fill="#cc4248"/>
<rect x="522.90" y="1388.15" width="14.82" height="15.75" fill="#a82e5f"/>
<rect x="537.12" y="1388.15" width="14.82" height="15.75" fill="#7f1e6c"/>
<rect x="551.34" y="1388.15" width="14.82" height="15.75" fill="#a82e5f"/>
<rect x="565.56" y="1388.15" width="14.82" height="15.75" fill="#6a176e"/>
<rect x="579.78" y="1388.15" width="14.82" height="15.75" fill="#6a176e"/>
<rect x="594.00" y="1388.15" width="14.82" height="15.75" fill="#6a176e"/>
<rect x="608.22" y="1388.15" width="14.82" height="15.75" fill="#07051b"/>
<rect x="622.44" y="1388.15" width="14.82" height="15.75" fill="#2b0b57"/>
<rect x="636.66" y="1388.15" width="14.82" height="15.75" fill="#420a68"/>
<rect x="266.94" y="1403.30" width="14.82" height="15.75" fill="#f37819"/>
<rect x="281.16" y="1403.30" width="14.82" height="15.75" fill="#f37819"/>
<rect x="295.38" y="1403.30" width="14.82" height="15.75" fill="#ea632a"/>
<rect x="309.60" y="1403.30" width="14.82" height="15.75" fill="#ea632a"/>
<rect x="323.82" y="1403.30" width="14.82" height="15.75" fill="#ea632a"/>
<rect x="338.04" y="1403.30" width="14.82" height="15.75" fill="#f37819"/>
<rect x="352.26" y="1403.30" width="14.82" height="15.75" fill="#ea632a"/>
<rect x="366.48" y="1403.30" width="14.82" height="15.75" fill="#ea632a"/>
<rect x="380.70" y="1403.30" width="14.82" height="15.75" fill="#f37819"/>
<rect x="394.92" y="1403.30" width="14.82" height="15.75" fill="#f98e09"/>
<rect x="409.14" y="1403.30" width="14.82" height="15.75" fill="#a82e5f"/>
<rect x="423.36" y="1403.30" width="14.82" height="15.75" fill="#dd513a"/>
<rect x="437.58" y="1403.30" width="14.82" height="15.75" fill="#cc4248"/>
<rect x="451.80" y="1403.30" width="14.82" height="15.75" fill="#dd513a"/>
<rect x="466.02" y="1403.30" width="14.82" height="15.75" fill="#ea632a"/>
<rect x="480.24" y="1403.30" width="14.82" height="15.75" fill="#cc4248"/>
<rect x="494.46" y="1403.30" width="14.82" height="15.75" fill="#a82e5f"/>
<rect x="508.68" y="1403.30" width="14.82" height="15.75" fill="#6a176e"/>
<rect x="522.90" y="1403.30" width="14.82" height="15.75" fill="#dd513a"/>
<rect x="537.12" y="1403.30" width="14.82" height="15.75" fill="#bc3754"/>
<rect x="551.34" y="1403.30" width="14.82" height="15.75" fill="#7f1e6c"/>
<rect x="565.56" y="1403.30" width="14.82" height="15.75" fill="#a82e5f"/>
<rect x="579.78" y="1403.30" width="14.82" height="15.75" fill="#420a68"/>
<rect x="594.00" y="1403.30" width="14.82" height="15.75" fill="#a82e5f"/>
<rect x="608.22" y="1403.30" width="14.82" height="15.75" fill="#2b0b57"/>
<rect x="622.44" y="1403.30" width="14.82" height="15.75" fill="#160b39"/>
<rect x="636.66" y="1403.30" width="14.82" height="15.75" fill="#07051b"/>
<rect x="266.94" y="1418.45" width="14.82" height="15.75" fill="#f37819"/>
<rect x="281.16" y="1418.45" width="14.82" height="15.75" fill="#f37819"/>
<rect x="295.38" y="1418.45" width="14.82" height="15.75" fill="#ea632a"/>
<rect x="309.60" y="1418.45" width="14.82" height="15.75" fill="#ea632a"/>
<rect x="323.82" y="1418.45" width="14.82" height="15.75" fill="#ea632a"/>
<rect x="338.04" y="1418.45" width="14.82" height="15.75" fill="#f98e09"/>
<rect x="352.26" y="1418.45" width="14.82" height="15.75" fill="#ea632a"/>
<rect x="366.48" y="1418.45" width="14.82" height="15.75" fill="#dd513a"/>
<rect x="380.70" y="1418.45" width="14.82" height="15.75" fill="#ea632a"/>
<rect x="394.92" y="1418.45" width="14.82" height="15.75" fill="#f37819"/>
<rect x="409.14" y="1418.45" width="14.82" height="15.75" fill="#ea632a"/>
<rect x="423.36" y="1418.45" width="14.82" height="15.75" fill="#ea632a"/>
<rect x="437.58" y="1418.45" width="14.82" height="15.75" fill="#dd513a"/>
<rect x="451.80" y="1418.45" width="14.82" height="15.75" fill="#dd513a"/>
<rect x="466.02" y="1418.45" width="14.82" height="15.75" fill="#ea632a"/>
<rect x="480.24" y="1418.45" width="14.82" height="15.75" fill="#cc4248"/>
<rect x="494.46" y="1418.45" width="14.82" height="15.75" fill="#bc3754"/>
<rect x="508.68" y="1418.45" width="14.82" height="15.75" fill="#cc4248"/>
<rect x="522.90" y="1418.45" width="14.82" height="15.75" fill="#bc3754"/>
<rect x="537.12" y="1418.45" width="14.82" height="15.75" fill="#932667"/>
<rect x="551.34" y="1418.45" width="14.82" height="15.75" fill="#6a176e"/>
<rect x="565.56" y="1418.45" width="14.82" height="15.75" fill="#a82e5f"/>
<rect x="579.78" y="1418.45" width="14.82" height="15.75" fill="#6a176e"/>
<rect x="594.00" y="1418.45" width="14.82" height="15.75" fill="#bc3754"/>
<rect x="608.22" y="1418.45" width="14.82" height="15.75" fill="#420a68"/>
<rect x="622.44" y="1418.45" width="14.82" height="15.75" fill="#57106e"/>
<rect x="636.66" y="1418.45" width="14.82" height="15.75" fill="#2b0b57"/>
<rect x="650.88" y="1418.45" width="14.82" height="15.75" fill="#000004"/>
<rect x="281.16" y="1433.60" width="14.82" height="15.75" fill="#dd513a"/>
<rect x="295.38" y="1433.60" width="14.82" height="15.75" fill="#dd513a"/>
<rect x="309.60" y="1433.60" width="14.82" height="15.75" fill="#dd513a"/>
<rect x="323.82" y="1433.60" width="14.82" height="15.75" fill="#dd513a"/>
<rect x="338.04" y="1433.60" width="14.82" height="15.75" fill="#f98e09"/>
<rect x="352.26" y="1433.60" width="14.82" height="15.75" fill="#f37819"/>
<rect x="366.48" y="1433.60" width="14.82" height="15.75" fill="#ea632a"/>
<rect x="380.70" y="1433.60" width="14.82" height="15.75" fill="#ea632a"/>
<rect x="394.92" y="1433.60" width="14.82" height="15.75" fill="#ea632a"/>
<rect x="409.14" y="1433.60" width="14.82" height="15.75" fill="#f37819"/>
<rect x="423.36" y="1433.60" width="14.82" height="15.75" fill="#ea632a"/>
<rect x="437.58" y="1433.60" width="14.82" height="15.75" fill="#dd513a"/>
<rect x="451.80" y="1433.60" width="14.82" height="15.75" fill="#dd513a"/>
<rect x="466.02" y="1433.60" width="14.82" height="15.75" fill="#a82e5f"/>
<rect x="480.24" y="1433.60" width="14.82" height="15.75" fill="#a82e5f"/>
<rect x="494.46" y="1433.60" width="14.82" height="15.75" fill="#932667"/>
<rect x="508.68" y="1433.60" width="14.82" height="15.75" fill="#6a176e"/>
<rect x="522.90" y="1433.60" width="14.82" height="15.75" fill="#cc4248"/>
<rect x="537.12" y="1433.60" width="14.82" height="15.75" fill="#bc3754"/>
<rect x="551.34" y="1433.60" width="14.82" height="15.75" fill="#bc3754"/>
<rect x="565.56" y="1433.60" width="14.82" height="15.75" fill="#a82e5f"/>
<rect x="579.78" y="1433.60" width="14.82" height="15.75" fill="#2b0b57"/>
<rect x="594.00" y="1433.60" width="14.82" height="15.75" fill="#bc3754"/>
<rect x="608.22" y="1433.60" width="14.82" height="15.75" fill="#2b0b57"/>
<rect x="622.44" y="1433.60" width="14.82" height="15.75" fill="#160b39"/>
<rect x="636.66" y="1433.60" width="14.82" height="15.75" fill="#420a68"/>
<rect x="650.88" y="1433.60" width="14.82" height="15.75" fill="#420a68"/>
<rect x="665.10" y="1433.60" width="14.82" height="15.75" fill="#000004"/>
<rect x="295.38" y="1448.75" width="14.82" height="15.75" fill="#ea632a"/>
<rect x="309.60" y="1448.75" width="14.82" height="15.75" fill="#cc4248"/>
<rect x="323.82" y="1448.75" width="14.82" height="15.75" fill="#cc4248"/>
<rect x="338.04" y="1448.75" width="14.82" height="15.75" fill="#f98e09"/>
<rect x="352.26" y="1448.75" width="14.82" height="15.75" fill="#f98e09"/>
<rect x="366.48" y="1448.75" width="14.82" height="15.75" fill="#f37819"/>
<rect x="380.70" y="1448.75" width="14.82" height="15.75" fill="#f37819"/>
<rect x="394.92" y="1448.75" width="14.82" height="15.75" fill="#dd513a"/>
<rect x="409.14" y="1448.75" width="14.82" height="15.75" fill="#ea632a"/>
<rect x="423.36" y="1448.75" width="14.82" height="15.75" fill="#cc4248"/>
<rect x="437.58" y="1448.75" width="14.82" height="15.75" fill="#ea632a"/>
<rect x="451.80" y="1448.75" width="14.82" height="15.75" fill="#a82e5f"/>
<rect x="466.02" y="1448.75" width="14.82" height="15.75" fill="#932667"/>
<rect x="480.24" y="1448.75" width="14.82" height="15.75" fill="#a82e5f"/>
<rect x="494.46" y="1448.75" width="14.82" height="15.75" fill="#cc4248"/>
<rect x="508.68" y="1448.75" width="14.82" height="15.75" fill="#cc4248"/>
<rect x="522.90" y="1448.75" width="14.82" height="15.75" fill="#a82e5f"/>
<rect x="537.12" y="1448.75" width="14.82" height="15.75" fill="#932667"/>
<rect x="551.34" y="1448.75" width="14.82" height="15.75" fill="#a82e5f"/>
<rect x="565.56" y="1448.75" width="14.82" height="15.75" fill="#7f1e6c"/>
<rect x="579.78" y="1448.75" width="14.82" height="15.75" fill="#420a68"/>
<rect x="594.00" y="1448.75" width="14.82" height="15.75" fill="#7f1e6c"/>
<rect x="608.22" y="1448.75" width="14.82" height="15.75" fill="#2b0b57"/>
<rect x="622.44" y="1448.75" width="14.82" height="15.75" fill="#7f1e6c"/>
<rect x="636.66" y="1448.75" width="14.82" height="15.75" fill="#420a68"/>
<rect x="650.88" y="1448.75" width="14.82" height="15.75" fill="#6a176e"/>
<rect x="665.10" y="1448.75" width="14.82" height="15.75" fill="#57106e"/>
<rect x="295.38" y="1463.90" width="14.82" height="15.75" fill="#bc3754"/>
<rect x="309.60" y="1463.90" width="14.82" height="15.75" fill="#bc3754"/>
<rect x="323.82" y="1463.90" width="14.82" height="15.75" fill="#cc4248"/>
<rect x="338.04" y="1463.90" width="14.82" height="15.75" fill="#f37819"/>
<rect x="352.26" y="1463.90" width="14.82" height="15.75" fill="#f37819"/>
<rect x="366.48" y="1463.90" width="14.82" height="15.75" fill="#f37819"/>
<rect x="380.70" y="1463.90" width="14.82" height="15.75" fill="#f37819"/>
<rect x="394.92" y="1463.90" width="14.82" height="15.75" fill="#f37819"/>
<rect x="409.14" y="1463.90" width="14.82" height="15.75" fill="#ea632a"/>
<rect x="423.36" y="1463.90" width="14.82" height="15.75" fill="#ea632a"/>
<rect x="437.58" y="1463.90" width="14.82" height="15.75" fill="#ea632a"/>
<rect x="451.80" y="1463.90" width="14.82" height="15.75" fill="#bc3754"/>
<rect x="466.02" y="1463.90" width="14.82" height="15.75" fill="#a82e5f"/>
<rect x="480.24" y="1463.90" width="14.82" height="15.75" fill="#a82e5f"/>
<rect x="494.46" y="1463.90" width="14.82" height="15.75" fill="#ea632a"/>
<rect x="508.68" y="1463.90" width="14.82" height="15.75" fill="#7f1e6c"/>
<rect x="522.90" y="1463.90" width="14.82" height="15.75" fill="#a82e5f"/>
<rect x="537.12" y="1463.90" width="14.82" height="15.75" fill="#bc3754"/>
<rect x="551.34" y="1463.90" width="14.82" height="15.75" fill="#a82e5f"/>
<rect x="565.56" y="1463.90" width="14.82" height="15.75" fill="#a82e5f"/>
<rect x="579.78" y="1463.90" width="14.82" height="15.75" fill="#a82e5f"/>
<rect x="594.00" y="1463.90" width="14.82" height="15.75" fill="#7f1e6c"/>
<rect x="608.22" y="1463.90" width="14.82" height="15.75" fill="#2b0b57"/>
<rect x="622.44" y="1463.90" width="14.82" height="15.75" fill="#6a176e"/>
<rect x="636.66" y="1463.90" width="14.82" height="15.75" fill="#160b39"/>
<rect x="650.88" y="1463.90" width="14.82" height="15.75" fill="#420a68"/>
<rect x="665.10" y="1463.90" width="14.82" height="15.75" fill="#7f1e6c"/>
<rect x="679.32" y="1463.90" width="14.82" height="15.75" fill="#07051b"/>
<rect x="309.60" y="1479.05" width="14.82" height="15.75" fill="#a82e5f"/>
<rect x="323.82" y="1479.05" width="14.82" height="15.75" fill="#dd513a"/>
<rect x="338.04" y="1479.05" width="14.82" height="15.75" fill="#dd513a"/>
<rect x="352.26" y="1479.05" width="14.82" height="15.75" fill="#dd513a"/>
<rect x="366.48" y="1479.05" width="14.82" height="15.75" fill="#ea632a"/>
<rect x="380.70" y="1479.05" width="14.82" height="15.75" fill="#ea632a"/>
<rect x="394.92" y="1479.05" width="14.82" height="15.75" fill="#ea632a"/>
<rect x="409.14" y="1479.05" width="14.82" height="15.75" fill="#ea632a"/>
<rect x="423.36" y="1479.05" width="14.82" height="15.75" fill="#f37819"/>
<rect x="437.58" y="1479.05" width="14.82" height="15.75" fill="#f37819"/>
<rect x="451.80" y="1479.05" width="14.82" height="15.75" fill="#ea632a"/>
<rect x="466.02" y="1479.05" width="14.82" height="15.75" fill="#bc3754"/>
<rect x="480.24" y="1479.05" width="14.82" height="15.75" fill="#bc3754"/>
<rect x="494.46" y="1479.05" width="14.82" height="15.75" fill="#7f1e6c"/>
<rect x="508.68" y="1479.05" width="14.82" height="15.75" fill="#6a176e"/>
<rect x="522.90" y="1479.05" width="14.82" height="15.75" fill="#bc3754"/>
<rect x="537.12" y="1479.05" width="14.82" height="15.75" fill="#7f1e6c"/>
<rect x="551.34" y="1479.05" width="14.82" height="15.75" fill="#bc3754"/>
<rect x="565.56" y="1479.05" width="14.82" height="15.75" fill="#6a176e"/>
<rect x="579.78" y="1479.05" width="14.82" height="15.75" fill="#57106e"/>
<rect x="594.00" y="1479.05" width="14.82" height="15.75" fill="#cc4248"/>
<rect x="608.22" y="1479.05" width="14.82" height="15.75" fill="#cc4248"/>
<rect x="622.44" y="1479.05" width="14.82" height="15.75" fill="#bc3754"/>
<rect x="636.66" y="1479.05" width="14.82" height="15.75" fill="#420a68"/>
<rect x="650.88" y="1479.05" width="14.82" height="15.75" fill="#000004"/>
<rect x="665.10" y="1479.05" width="14.82" height="15.75" fill="#07051b"/>
<rect x="679.32" y="1479.05" width="14.82" height="15.75" fill="#420a68"/>
<rect x="323.82" y="1494.20" width="14.82" height="15.75" fill="#bc3754"/>
<rect x="338.04" y="1494.20" width="14.82" height="15.75" fill="#bc3754"/>
<rect x="352.26" y="1494.20" width="14.82" height="15.75" fill="#cc4248"/>
<rect x="366.48" y="1494.20" width="14.82" height="15.75" fill="#cc4248"/>
<rect x="380.70" y="1494.20" width="14.82" height="15.75" fill="#cc4248"/>
<rect x="394.92" y="1494.20" width="14.82" height="15.75" fill="#cc4248"/>
<rect x="409.14" y="1494.20" width="14.82" height="15.75" fill="#dd513a"/>
<rect x="423.36" y="1494.20" width="14.82" height="15.75" fill="#dd513a"/>
<rect x="437.58" y="1494.20" width="14.82" height="15.75" fill="#ea632a"/>
<rect x="451.80" y="1494.20" width="14.82" height="15.75" fill="#ea632a"/>
<rect x="466.02" y="1494.20" width="14.82" height="15.75" fill="#bc3754"/>
<rect x="480.24" y="1494.20" width="14.82" height="15.75" fill="#bc3754"/>
<rect x="494.46" y="1494.20" width="14.82" height="15.75" fill="#932667"/>
<rect x="508.68" y="1494.20" width="14.82" height="15.75" fill="#bc3754"/>
<rect x="522.90" y="1494.20" width="14.82" height="15.75" fill="#bc3754"/>
<rect x="537.12" y="1494.20" width="14.82" height="15.75" fill="#bc3754"/>
<rect x="551.34" y="1494.20" width="14.82" height="15.75" fill="#bc3754"/>
<rect x="565.56" y="1494.20" width="14.82" height="15.75" fill="#932667"/>
<rect x="579.78" y="1494.20" width="14.82" height="15.75" fill="#6a176e"/>
<rect x="594.00" y="1494.20" width="14.82" height="15.75" fill="#6a176e"/>
<rect x="608.22" y="1494.20" width="14.82" height="15.75" fill="#a82e5f"/>
<rect x="622.44" y="1494.20" width="14.82" height="15.75" fill="#57106e"/>
<rect x="636.66" y="1494.20" width="14.82" height="15.75" fill="#6a176e"/>
<rect x="650.88" y="1494.20" width="14.82" height="15.75" fill="#6a176e"/>
<rect x="665.10" y="1494.20" width="14.82" height="15.75" fill="#160b39"/>
<rect x="679.32" y="1494.20" width="14.82" height="15.75" fill="#932667"/>
<rect x="693.54" y="1494.20" width="14.82" height="15.75" fill="#07051b"/>
<rect x="352.26" y="1509.35" width="14.82" height="15.75" fill="#a82e5f"/>
<rect x="366.48" y="1509.35" width="14.82" height="15.75" fill="#a82e5f"/>
<rect x="380.70" y="1509.35" width="14.82" height="15.75" fill="#bc3754"/>
<rect x="394.92" y="1509.35" width="14.82" height="15.75" fill="#bc3754"/>
<rect x="409.14" y="1509.35" width="14.82" height="15.75" fill="#cc4248"/>
<rect x="423.36" y="1509.35" width="14.82" height="15.75" fill="#cc4248"/>
<rect x="437.58" y="1509.35" width="14.82" height="15.75" fill="#dd513a"/>
<rect x="451.80" y="1509.35" width="14.82" height="15.75" fill="#dd513a"/>
<rect x="466.02" y="1509.35" width="14.82" height="15.75" fill="#cc4248"/>
<rect x="480.24" y="1509.35" width="14.82" height="15.75" fill="#bc3754"/>
<rect x="494.46" y="1509.35" width="14.82" height="15.75" fill="#932667"/>
<rect x="508.68" y="1509.35" width="14.82" height="15.75" fill="#bc3754"/>
<rect x="522.90" y="1509.35" width="14.82" height="15.75" fill="#bc3754"/>
<rect x="537.12" y="1509.35" width="14.82" height="15.75" fill="#bc3754"/>
<rect x="551.34" y="1509.35" width="14.82" height="15.75" fill="#bc3754"/>
<rect x="565.56" y="1509.35" width="14.82" height="15.75" fill="#932667"/>
<rect x="579.78" y="1509.35" width="14.82" height="15.75" fill="#6a176e"/>
<rect x="594.00" y="1509.35" width="14.82" height="15.75" fill="#6a176e"/>
<rect x="608.22" y="1509.35" width="14.82" height="15.75" fill="#7f1e6c"/>
<rect x="622.44" y="1509.35" width="14.82" height="15.75" fill="#57106e"/>
<rect x="636.66" y="1509.35" width="14.82" height="15.75" fill="#6a176e"/>
<rect x="650.88" y="1509.35" width="14.82" height="15.75" fill="#7f1e6c"/>
<rect x="665.10" y="1509.35" width="14.82" height="15.75" fill="#7f1e6c"/>
<rect x="679.32" y="1509.35" width="14.82" height="15.75" fill="#6a176e"/>
<rect x="693.54" y="1509.35" width="14.82" height="15.75" fill="#6a176e"/>
<rect x="409.14" y="1524.50" width="14.82" height="15.75" fill="#a82e5f"/>
<rect x="423.36" y="1524.50" width="14.82" height="15.75" fill="#bc3754"/>
<rect x="437.58" y="1524.50" width="14.82" height="15.75" fill="#cc4248"/>
<rect x="451.80" y="1524.50" width="14.82" height="15.75" fill="#cc4248"/>
<rect x="466.02" y="1524.50" width="14.82" height="15.75" fill="#dd513a"/>
<rect x="480.24" y="1524.50" width="14.82" height="15.75" fill="#cc4248"/>
<rect x="494.46" y="1524.50" width="14.82" height="15.75" fill="#cc4248"/>
<rect x="508.68" y="1524.50" width="14.82" height="15.75" fill="#cc4248"/>
<rect x="522.90" y="1524.50" width="14.82" height="15.75" fill="#bc3754"/>
<rect x="537.12" y="1524.50" width="14.82" height="15.75" fill="#a82e5f"/>
<rect x="551.34" y="1524.50" width="14.82" height="15.75" fill="#bc3754"/>
<rect x="565.56" y="1524.50" width="14.82" height="15.75" fill="#bc3754"/>
<rect x="579.78" y="1524.50" width="14.82" height="15.75" fill="#6a176e"/>
<rect x="594.00" y="1524.50" width="14.82" height="15.75" fill="#6a176e"/>
<rect x="608.22" y="1524.50" width="14.82" height="15.75" fill="#57106e"/>
<rect x="622.44" y="1524.50" width="14.82" height="15.75" fill="#420a68"/>
<rect x="636.66" y="1524.50" width="14.82" height="15.75" fill="#420a68"/>
<rect x="650.88" y="1524.50" width="14.82" height="15.75" fill="#420a68"/>
<rect x="665.10" y="1524.50" width="14.82" height="15.75" fill="#57106e"/>
<rect x="679.32" y="1524.50" width="14.82" height="15.75" fill="#7f1e6c"/>
<rect x="466.02" y="1539.65" width="14.82" height="15.75" fill="#932667"/>
<rect x="480.24" y="1539.65" width="14.82" height="15.75" fill="#cc4248"/>
<rect x="494.46" y="1539.65" width="14.82" height="15.75" fill="#cc4248"/>
<rect x="508.68" y="1539.65" width="14.82" height="15.75" fill="#cc4248"/>
<rect x="522.90" y="1539.65" width="14.82" height="15.75" fill="#bc3754"/>
<rect x="537.12" y="1539.65" width="14.82" height="15.75" fill="#a82e5f"/>
<rect x="551.34" y="1539.65" width="14.82" height="15.75" fill="#932667"/>
<rect x="565.56" y="1539.65" width="14.82" height="15.75" fill="#a82e5f"/>
<rect x="579.78" y="1539.65" width="14.82" height="15.75" fill="#7f1e6c"/>
<rect x="594.00" y="1539.65" width="14.82" height="15.75" fill="#7f1e6c"/>
<rect x="608.22" y="1539.65" width="14.82" height="15.75" fill="#57106e"/>
<rect x="622.44" y="1539.65" width="14.82" height="15.75" fill="#57106e"/>
<rect x="636.66" y="1539.65" width="14.82" height="15.75" fill="#6a176e"/>
<rect x="650.88" y="1539.65" width="14.82" height="15.75" fill="#932667"/>
<rect x="522.90" y="1554.80" width="14.82" height="15.75" fill="#a82e5f"/>
<rect x="537.12" y="1554.80" width="14.82" height="15.75" fill="#cc4248"/>
<rect x="551.34" y="1554.80" width="14.82" height="15.75" fill="#a82e5f"/>
<rect x="565.56" y="1554.80" width="14.82" height="15.75" fill="#7f1e6c"/>
<rect x="579.78" y="1554.80" width="14.82" height="15.75" fill="#a82e5f"/>
<rect x="594.00" y="1554.80" width="14.82" height="15.75" fill="#932667"/>
<rect x="608.22" y="1554.80" width="14.82" height="15.75" fill="#932667"/>
<rect x="106.7" y="958.25" width="656.80" height="678.75" fill="none" stroke="#000" stroke-width="3.2"/>
<line x1="96.60" y1="987.60" x2="105.10" y2="987.60" stroke="#262626" stroke-width="3"/>
<text x="88.80" y="997.20" font-size="27" fill="#4d4d4d" text-anchor="end">100</text>
<line x1="96.60" y1="1033.68" x2="105.10" y2="1033.68" stroke="#262626" stroke-width="3"/>
<text x="88.80" y="1043.28" font-size="27" fill="#4d4d4d" text-anchor="end">80</text>
<line x1="96.60" y1="1093.09" x2="105.10" y2="1093.09" stroke="#262626" stroke-width="3"/>
<text x="88.80" y="1102.69" font-size="27" fill="#4d4d4d" text-anchor="end">60</text>
<line x1="96.60" y1="1176.82" x2="105.10" y2="1176.82" stroke="#262626" stroke-width="3"/>
<text x="88.80" y="1186.42" font-size="27" fill="#4d4d4d" text-anchor="end">40</text>
<line x1="96.60" y1="1236.23" x2="105.10" y2="1236.23" stroke="#262626" stroke-width="3"/>
<text x="88.80" y="1245.83" font-size="27" fill="#4d4d4d" text-anchor="end">30</text>
<line x1="96.60" y1="1319.96" x2="105.10" y2="1319.96" stroke="#262626" stroke-width="3"/>
<text x="88.80" y="1329.56" font-size="27" fill="#4d4d4d" text-anchor="end">20</text>
<line x1="96.60" y1="1463.10" x2="105.10" y2="1463.10" stroke="#262626" stroke-width="3"/>
<text x="88.80" y="1472.70" font-size="27" fill="#4d4d4d" text-anchor="end">10</text>
<line x1="96.60" y1="1606.24" x2="105.10" y2="1606.24" stroke="#262626" stroke-width="3"/>
<text x="88.80" y="1615.84" font-size="27" fill="#4d4d4d" text-anchor="end">5</text>
<line x1="216.90" y1="1638.60" x2="216.90" y2="1646.60" stroke="#262626" stroke-width="3"/>
<text x="216.90" y="1674.20" font-size="27" fill="#4d4d4d" text-anchor="middle">100</text>
<line x1="406.60" y1="1638.60" x2="406.60" y2="1646.60" stroke="#262626" stroke-width="3"/>
<text x="406.60" y="1674.20" font-size="27" fill="#4d4d4d" text-anchor="middle">500</text>
<line x1="570.90" y1="1638.60" x2="570.90" y2="1646.60" stroke="#262626" stroke-width="3"/>
<text x="570.90" y="1674.20" font-size="27" fill="#4d4d4d" text-anchor="middle">1000</text>
<line x1="735.00" y1="1638.60" x2="735.00" y2="1646.60" stroke="#262626" stroke-width="3"/>
<text x="735.00" y="1674.20" font-size="27" fill="#4d4d4d" text-anchor="middle">8000</text>
<text x="353.50" y="1722.60" font-size="34" fill="#000">Trees ha<tspan font-size="22" dx="3" dy="-16">&#8722;1</tspan></text>
<text transform="translate(27.80,1297.50) rotate(-90)" x="0" y="0" font-size="34" fill="#000" text-anchor="middle">Reineke's diameter (cm)</text>
<text x="672.40" y="1020.60" font-size="48" fill="#000">C.</text>
<rect x="960.25" y="1107.30" width="13.85" height="13.29" fill="#6a176e"/>
<rect x="973.50" y="1107.30" width="13.85" height="13.29" fill="#932667"/>
<rect x="986.75" y="1107.30" width="13.85" height="13.29" fill="#7f1e6c"/>
<rect x="1000.00" y="1107.30" width="13.85" height="13.29" fill="#7f1e6c"/>
<rect x="1013.25" y="1107.30" width="13.85" height="13.29" fill="#932667"/>
<rect x="1026.50" y="1107.30" width="13.85" height="13.29" fill="#bc3754"/>
<rect x="1039.75" y="1107.30" width="13.85" height="13.29" fill="#bc3754"/>
<rect x="1053.00" y="1107.30" width="13.85" height="13.29" fill="#7f1e6c"/>
<rect x="1066.25" y="1107.30" width="13.85" height="13.29" fill="#420a68"/>
<rect x="947.00" y="1119.99" width="13.85" height="13.29" fill="#bc3754"/>
<rect x="960.25" y="1119.99" width="13.85" height="13.29" fill="#420a68"/>
<rect x="973.50" y="1119.99" width="13.85" height="13.29" fill="#932667"/>
<rect x="986.75" y="1119.99" width="13.85" height="13.29" fill="#932667"/>
<rect x="1000.00" y="1119.99" width="13.85" height="13.29" fill="#6a176e"/>
<rect x="1013.25" y="1119.99" width="13.85" height="13.29" fill="#932667"/>
<rect x="1026.50" y="1119.99" width="13.85" height="13.29" fill="#a82e5f"/>
<rect x="1039.75" y="1119.99" width="13.85" height="13.29" fill="#932667"/>
<rect x="1053.00" y="1119.99" width="13.85" height="13.29" fill="#932667"/>
<rect x="1066.25" y="1119.99" width="13.85" height="13.29" fill="#6a176e"/>
<rect x="1079.50" y="1119.99" width="13.85" height="13.29" fill="#a82e5f"/>
<rect x="1092.75" y="1119.99" width="13.85" height="13.29" fill="#bc3754"/>
<rect x="1106.00" y="1119.99" width="13.85" height="13.29" fill="#cc4248"/>
<rect x="947.00" y="1132.68" width="13.85" height="13.29" fill="#6a176e"/>
<rect x="960.25" y="1132.68" width="13.85" height="13.29" fill="#57106e"/>
<rect x="973.50" y="1132.68" width="13.85" height="13.29" fill="#932667"/>
<rect x="986.75" y="1132.68" width="13.85" height="13.29" fill="#932667"/>
<rect x="1000.00" y="1132.68" width="13.85" height="13.29" fill="#6a176e"/>
<rect x="1013.25" y="1132.68" width="13.85" height="13.29" fill="#6a176e"/>
<rect x="1026.50" y="1132.68" width="13.85" height="13.29" fill="#6a176e"/>
<rect x="1039.75" y="1132.68" width="13.85" height="13.29" fill="#57106e"/>
<rect x="1053.00" y="1132.68" width="13.85" height="13.29" fill="#a82e5f"/>
<rect x="1066.25" y="1132.68" width="13.85" height="13.29" fill="#7f1e6c"/>
<rect x="1079.50" y="1132.68" width="13.85" height="13.29" fill="#7f1e6c"/>
<rect x="1092.75" y="1132.68" width="13.85" height="13.29" fill="#dd513a"/>
<rect x="1106.00" y="1132.68" width="13.85" height="13.29" fill="#cc4248"/>
<rect x="1119.25" y="1132.68" width="13.85" height="13.29" fill="#bc3754"/>
<rect x="1132.50" y="1132.68" width="13.85" height="13.29" fill="#bc3754"/>
<rect x="947.00" y="1145.37" width="13.85" height="13.29" fill="#2b0b57"/>
<rect x="960.25" y="1145.37" width="13.85" height="13.29" fill="#07051b"/>
<rect x="973.50" y="1145.37" width="13.85" height="13.29" fill="#932667"/>
<rect x="986.75" y="1145.37" width="13.85" height="13.29" fill="#420a68"/>
<rect x="1000.00" y="1145.37" width="13.85" height="13.29" fill="#6a176e"/>
<rect x="1013.25" y="1145.37" width="13.85" height="13.29" fill="#6a176e"/>
<rect x="1026.50" y="1145.37" width="13.85" height="13.29" fill="#160b39"/>
<rect x="1039.75" y="1145.37" width="13.85" height="13.29" fill="#7f1e6c"/>
<rect x="1053.00" y="1145.37" width="13.85" height="13.29" fill="#a82e5f"/>
<rect x="1066.25" y="1145.37" width="13.85" height="13.29" fill="#ea632a"/>
<rect x="1079.50" y="1145.37" width="13.85" height="13.29" fill="#7f1e6c"/>
<rect x="1092.75" y="1145.37" width="13.85" height="13.29" fill="#932667"/>
<rect x="1106.00" y="1145.37" width="13.85" height="13.29" fill="#dd513a"/>
<rect x="1119.25" y="1145.37" width="13.85" height="13.29" fill="#dd513a"/>
<rect x="1132.50" y="1145.37" width="13.85" height="13.29" fill="#dd513a"/>
<rect x="1145.75" y="1145.37" width="13.85" height="13.29" fill="#bc3754"/>
<rect x="947.00" y="1158.06" width="13.85" height="13.29" fill="#07051b"/>
<rect x="960.25" y="1158.06" width="13.85" height="13.29" fill="#932667"/>
<rect x="973.50" y="1158.06" width="13.85" height="13.29" fill="#cc4248"/>
<rect x="986.75" y="1158.06" width="13.85" height="13.29" fill="#2b0b57"/>
<rect x="1000.00" y="1158.06" width="13.85" height="13.29" fill="#932667"/>
<rect x="1013.25" y="1158.06" width="13.85" height="13.29" fill="#a82e5f"/>
<rect x="1026.50" y="1158.06" width="13.85" height="13.29" fill="#7f1e6c"/>
<rect x="1039.75" y="1158.06" width="13.85" height="13.29" fill="#a82e5f"/>
<rect x="1053.00" y="1158.06" width="13.85" height="13.29" fill="#dd513a"/>
<rect x="1066.25" y="1158.06" width="13.85" height="13.29" fill="#a82e5f"/>
<rect x="1079.50" y="1158.06" width="13.85" height="13.29" fill="#a82e5f"/>
<rect x="1092.75" y="1158.06" width="13.85" height="13.29" fill="#dd513a"/>
<rect x="1106.00" y="1158.06" width="13.85" height="13.29" fill="#cc4248"/>
<rect x="1119.25" y="1158.06" width="13.85" height="13.29" fill="#ea632a"/>
<rect x="1132.50" y="1158.06" width="13.85" height="13.29" fill="#dd513a"/>
<rect x="1145.75" y="1158.06" width="13.85" height="13.29" fill="#bc3754"/>
<rect x="1159.00" y="1158.06" width="13.85" height="13.29" fill="#cc4248"/>
<rect x="1172.25" y="1158.06" width="13.85" height="13.29" fill="#dd513a"/>
<rect x="947.00" y="1170.75" width="13.85" height="13.29" fill="#000004"/>
<rect x="960.25" y="1170.75" width="13.85" height="13.29" fill="#57106e"/>
<rect x="973.50" y="1170.75" width="13.85" height="13.29" fill="#57106e"/>
<rect x="986.75" y="1170.75" width="13.85" height="13.29" fill="#57106e"/>
<rect x="1000.00" y="1170.75" width="13.85" height="13.29" fill="#6a176e"/>
<rect x="1013.25" y="1170.75" width="13.85" height="13.29" fill="#932667"/>
<rect x="1026.50" y="1170.75" width="13.85" height="13.29" fill="#a82e5f"/>
<rect x="1039.75" y="1170.75" width="13.85" height="13.29" fill="#cc4248"/>
<rect x="1053.00" y="1170.75" width="13.85" height="13.29" fill="#bc3754"/>
<rect x="1066.25" y="1170.75" width="13.85" height="13.29" fill="#932667"/>
<rect x="1079.50" y="1170.75" width="13.85" height="13.29" fill="#dd513a"/>
<rect x="1092.75" y="1170.75" width="13.85" height="13.29" fill="#dd513a"/>
<rect x="1106.00" y="1170.75" width="13.85" height="13.29" fill="#a82e5f"/>
<rect x="1119.25" y="1170.75" width="13.85" height="13.29" fill="#932667"/>
<rect x="1132.50" y="1170.75" width="13.85" height="13.29" fill="#cc4248"/>
<rect x="1145.75" y="1170.75" width="13.85" height="13.29" fill="#bc3754"/>
<rect x="1159.00" y="1170.75" width="13.85" height="13.29" fill="#dd513a"/>
<rect x="1172.25" y="1170.75" width="13.85" height="13.29" fill="#ea632a"/>
<rect x="1185.50" y="1170.75" width="13.85" height="13.29" fill="#ea632a"/>
<rect x="947.00" y="1183.44" width="13.85" height="13.29" fill="#7f1e6c"/>
<rect x="960.25" y="1183.44" width="13.85" height="13.29" fill="#420a68"/>
<rect x="973.50" y="1183.44" width="13.85" height="13.29" fill="#7f1e6c"/>
<rect x="986.75" y="1183.44" width="13.85" height="13.29" fill="#6a176e"/>
<rect x="1000.00" y="1183.44" width="13.85" height="13.29" fill="#cc4248"/>
<rect x="1013.25" y="1183.44" width="13.85" height="13.29" fill="#cc4248"/>
<rect x="1026.50" y="1183.44" width="13.85" height="13.29" fill="#7f1e6c"/>
<rect x="1039.75" y="1183.44" width="13.85" height="13.29" fill="#dd513a"/>
<rect x="1053.00" y="1183.44" width="13.85" height="13.29" fill="#932667"/>
<rect x="1066.25" y="1183.44" width="13.85" height="13.29" fill="#dd513a"/>
<rect x="1079.50" y="1183.44" width="13.85" height="13.29" fill="#6a176e"/>
<rect x="1092.75" y="1183.44" width="13.85" height="13.29" fill="#dd513a"/>
<rect x="1106.00" y="1183.44" width="13.85" height="13.29" fill="#cc4248"/>
<rect x="1119.25" y="1183.44" width="13.85" height="13.29" fill="#932667"/>
<rect x="1132.50" y="1183.44" width="13.85" height="13.29" fill="#ea632a"/>
<rect x="1145.75" y="1183.44" width="13.85" height="13.29" fill="#dd513a"/>
<rect x="1159.00" y="1183.44" width="13.85" height="13.29" fill="#cc4248"/>
<rect x="1172.25" y="1183.44" width="13.85" height="13.29" fill="#dd513a"/>
<rect x="1185.50" y="1183.44" width="13.85" height="13.29" fill="#dd513a"/>
<rect x="1198.75" y="1183.44" width="13.85" height="13.29" fill="#ea632a"/>
<rect x="947.00" y="1196.13" width="13.85" height="13.29" fill="#932667"/>
<rect x="960.25" y="1196.13" width="13.85" height="13.29" fill="#2b0b57"/>
<rect x="973.50" y="1196.13" width="13.85" height="13.29" fill="#7f1e6c"/>
<rect x="986.75" y="1196.13" width="13.85" height="13.29" fill="#6a176e"/>
<rect x="1000.00" y="1196.13" width="13.85" height="13.29" fill="#6a176e"/>
<rect x="1013.25" y="1196.13" width="13.85" height="13.29" fill="#cc4248"/>
<rect x="1026.50" y="1196.13" width="13.85" height="13.29" fill="#cc4248"/>
<rect x="1039.75" y="1196.13" width="13.85" height="13.29" fill="#f37819"/>
<rect x="1053.00" y="1196.13" width="13.85" height="13.29" fill="#57106e"/>
<rect x="1066.25" y="1196.13" width="13.85" height="13.29" fill="#932667"/>
<rect x="1079.50" y="1196.13" width="13.85" height="13.29" fill="#bc3754"/>
<rect x="1092.75" y="1196.13" width="13.85" height="13.29" fill="#bc3754"/>
<rect x="1106.00" y="1196.13" width="13.85" height="13.29" fill="#cc4248"/>
<rect x="1119.25" y="1196.13" width="13.85" height="13.29" fill="#dd513a"/>
<rect x="1132.50" y="1196.13" width="13.85" height="13.29" fill="#cc4248"/>
<rect x="1145.75" y="1196.13" width="13.85" height="13.29" fill="#dd513a"/>
<rect x="1159.00" y="1196.13" width="13.85" height="13.29" fill="#a82e5f"/>
<rect x="1172.25" y="1196.13" width="13.85" height="13.29" fill="#ea632a"/>
<rect x="1185.50" y="1196.13" width="13.85" height="13.29" fill="#dd513a"/>
<rect x="1198.75" y="1196.13" width="13.85" height="13.29" fill="#dd513a"/>
<rect x="1212.00" y="1196.13" width="13.85" height="13.29" fill="#f37819"/>
<rect x="1225.25" y="1196.13" width="13.85" height="13.29" fill="#f37819"/>
<rect x="947.00" y="1208.82" width="13.85" height="13.29" fill="#932667"/>
<rect x="960.25" y="1208.82" width="13.85" height="13.29" fill="#420a68"/>
<rect x="973.50" y="1208.82" width="13.85" height="13.29" fill="#6a176e"/>
<rect x="986.75" y="1208.82" width="13.85" height="13.29" fill="#6a176e"/>
<rect x="1000.00" y="1208.82" width="13.85" height="13.29" fill="#57106e"/>
<rect x="1013.25" y="1208.82" width="13.85" height="13.29" fill="#6a176e"/>
<rect x="1026.50" y="1208.82" width="13.85" height="13.29" fill="#7f1e6c"/>
<rect x="1039.75" y="1208.82" width="13.85" height="13.29" fill="#420a68"/>
<rect x="1053.00" y="1208.82" width="13.85" height="13.29" fill="#bc3754"/>
<rect x="1066.25" y="1208.82" width="13.85" height="13.29" fill="#932667"/>
<rect x="1079.50" y="1208.82" width="13.85" height="13.29" fill="#bc3754"/>
<rect x="1092.75" y="1208.82" width="13.85" height="13.29" fill="#cc4248"/>
<rect x="1106.00" y="1208.82" width="13.85" height="13.29" fill="#ea632a"/>
<rect x="1119.25" y="1208.82" width="13.85" height="13.29" fill="#a82e5f"/>
<rect x="1132.50" y="1208.82" width="13.85" height="13.29" fill="#ea632a"/>
<rect x="1145.75" y="1208.82" width="13.85" height="13.29" fill="#bc3754"/>
<rect x="1159.00" y="1208.82" width="13.85" height="13.29" fill="#ea632a"/>
<rect x="1172.25" y="1208.82" width="13.85" height="13.29" fill="#a82e5f"/>
<rect x="1185.50" y="1208.82" width="13.85" height="13.29" fill="#f37819"/>
<rect x="1198.75" y="1208.82" width="13.85" height="13.29" fill="#a82e5f"/>
<rect x="1212.00" y="1208.82" width="13.85" height="13.29" fill="#f37819"/>
<rect x="1225.25" y="1208.82" width="13.85" height="13.29" fill="#dd513a"/>
<rect x="1238.50" y="1208.82" width="13.85" height="13.29" fill="#f37819"/>
<rect x="947.00" y="1221.51" width="13.85" height="13.29" fill="#932667"/>
<rect x="960.25" y="1221.51" width="13.85" height="13.29" fill="#7f1e6c"/>
<rect x="973.50" y="1221.51" width="13.85" height="13.29" fill="#57106e"/>
<rect x="986.75" y="1221.51" width="13.85" height="13.29" fill="#bc3754"/>
<rect x="1000.00" y="1221.51" width="13.85" height="13.29" fill="#cc4248"/>
<rect x="1013.25" y="1221.51" width="13.85" height="13.29" fill="#932667"/>
<rect x="1026.50" y="1221.51" width="13.85" height="13.29" fill="#cc4248"/>
<rect x="1039.75" y="1221.51" width="13.85" height="13.29" fill="#dd513a"/>
<rect x="1053.00" y="1221.51" width="13.85" height="13.29" fill="#7f1e6c"/>
<rect x="1066.25" y="1221.51" width="13.85" height="13.29" fill="#bc3754"/>
<rect x="1079.50" y="1221.51" width="13.85" height="13.29" fill="#7f1e6c"/>
<rect x="1092.75" y="1221.51" width="13.85" height="13.29" fill="#7f1e6c"/>
<rect x="1106.00" y="1221.51" width="13.85" height="13.29" fill="#f37819"/>
<rect x="1119.25" y="1221.51" width="13.85" height="13.29" fill="#bc3754"/>
<rect x="1132.50" y="1221.51" width="13.85" height="13.29" fill="#ea632a"/>
<rect x="1145.75" y="1221.51" width="13.85" height="13.29" fill="#dd513a"/>
<rect x="1159.00" y="1221.51" width="13.85" height="13.29" fill="#a82e5f"/>
<rect x="1172.25" y="1221.51" width="13.85" height="13.29" fill="#dd513a"/>
<rect x="1185.50" y="1221.51" width="13.85" height="13.29" fill="#cc4248"/>
<rect x="1198.75" y="1221.51" width="13.85" height="13.29" fill="#ea632a"/>
<rect x="1212.00" y="1221.51" width="13.85" height="13.29" fill="#ea632a"/>
<rect x="1225.25" y="1221.51" width="13.85" height="13.29" fill="#cc4248"/>
<rect x="1238.50" y="1221.51" width="13.85" height="13.29" fill="#ea632a"/>
<rect x="1251.75" y="1221.51" width="13.85" height="13.29" fill="#f37819"/>
<rect x="947.00" y="1234.20" width="13.85" height="13.29" fill="#cc4248"/>
<rect x="960.25" y="1234.20" width="13.85" height="13.29" fill="#bc3754"/>
<rect x="973.50" y="1234.20" width="13.85" height="13.29" fill="#932667"/>
<rect x="986.75" y="1234.20" width="13.85" height="13.29" fill="#dd513a"/>
<rect x="1000.00" y="1234.20" width="13.85" height="13.29" fill="#a82e5f"/>
<rect x="1013.25" y="1234.20" width="13.85" height="13.29" fill="#932667"/>
<rect x="1026.50" y="1234.20" width="13.85" height="13.29" fill="#dd513a"/>
<rect x="1039.75" y="1234.20" width="13.85" height="13.29" fill="#7f1e6c"/>
<rect x="1053.00" y="1234.20" width="13.85" height="13.29" fill="#932667"/>
<rect x="1066.25" y="1234.20" width="13.85" height="13.29" fill="#7f1e6c"/>
<rect x="1079.50" y="1234.20" width="13.85" height="13.29" fill="#57106e"/>
<rect x="1092.75" y="1234.20" width="13.85" height="13.29" fill="#ea632a"/>
<rect x="1106.00" y="1234.20" width="13.85" height="13.29" fill="#cc4248"/>
<rect x="1119.25" y="1234.20" width="13.85" height="13.29" fill="#bc3754"/>
<rect x="1132.50" y="1234.20" width="13.85" height="13.29" fill="#bc3754"/>
<rect x="1145.75" y="1234.20" width="13.85" height="13.29" fill="#f37819"/>
<rect x="1159.00" y="1234.20" width="13.85" height="13.29" fill="#dd513a"/>
<rect x="1172.25" y="1234.20" width="13.85" height="13.29" fill="#ea632a"/>
<rect x="1185.50" y="1234.20" width="13.85" height="13.29" fill="#dd513a"/>
<rect x="1198.75" y="1234.20" width="13.85" height="13.29" fill="#ea632a"/>
<rect x="1212.00" y="1234.20" width="13.85" height="13.29" fill="#f37819"/>
<rect x="1225.25" y="1234.20" width="13.85" height="13.29" fill="#f37819"/>
<rect x="1238.50" y="1234.20" width="13.85" height="13.29" fill="#ea632a"/>
<rect x="1251.75" y="1234.20" width="13.85" height="13.29" fill="#ea632a"/>
<rect x="1265.00" y="1234.20" width="13.85" height="13.29" fill="#f37819"/>
<rect x="1278.25" y="1234.20" width="13.85" height="13.29" fill="#f37819"/>
<rect x="947.00" y="1246.89" width="13.85" height="13.29" fill="#cc4248"/>
<rect x="960.25" y="1246.89" width="13.85" height="13.29" fill="#a82e5f"/>
<rect x="973.50" y="1246.89" width="13.85" height="13.29" fill="#160b39"/>
<rect x="986.75" y="1246.89" width="13.85" height="13.29" fill="#a82e5f"/>
<rect x="1000.00" y="1246.89" width="13.85" height="13.29" fill="#a82e5f"/>
<rect x="1013.25" y="1246.89" width="13.85" height="13.29" fill="#a82e5f"/>
<rect x="1026.50" y="1246.89" width="13.85" height="13.29" fill="#bc3754"/>
<rect x="1039.75" y="1246.89" width="13.85" height="13.29" fill="#bc3754"/>
<rect x="1053.00" y="1246.89" width="13.85" height="13.29" fill="#bc3754"/>
<rect x="1066.25" y="1246.89" width="13.85" height="13.29" fill="#932667"/>
<rect x="1079.50" y="1246.89" width="13.85" height="13.29" fill="#bc3754"/>
<rect x="1092.75" y="1246.89" width="13.85" height="13.29" fill="#bc3754"/>
<rect x="1106.00" y="1246.89" width="13.85" height="13.29" fill="#cc4248"/>
<rect x="1119.25" y="1246.89" width="13.85" height="13.29" fill="#f37819"/>
<rect x="1132.50" y="1246.89" width="13.85" height="13.29" fill="#bc3754"/>
<rect x="1145.75" y="1246.89" width="13.85" height="13.29" fill="#f37819"/>
<rect x="1159.00" y="1246.89" width="13.85" height="13.29" fill="#dd513a"/>
<rect x="1172.25" y="1246.89" width="13.85" height="13.29" fill="#ea632a"/>
<rect x="1185.50" y="1246.89" width="13.85" height="13.29" fill="#cc4248"/>
<rect x="1198.75" y="1246.89" width="13.85" height="13.29" fill="#f37819"/>
<rect x="1212.00" y="1246.89" width="13.85" height="13.29" fill="#f37819"/>
<rect x="1225.25" y="1246.89" width="13.85" height="13.29" fill="#f37819"/>
<rect x="1238.50" y="1246.89" width="13.85" height="13.29" fill="#f37819"/>
<rect x="1251.75" y="1246.89" width="13.85" height="13.29" fill="#ea632a"/>
<rect x="1265.00" y="1246.89" width="13.85" height="13.29" fill="#ea632a"/>
<rect x="1278.25" y="1246.89" width="13.85" height="13.29" fill="#f37819"/>
<rect x="947.00" y="1259.58" width="13.85" height="13.29" fill="#932667"/>
<rect x="960.25" y="1259.58" width="13.85" height="13.29" fill="#6a176e"/>
<rect x="973.50" y="1259.58" width="13.85" height="13.29" fill="#420a68"/>
<rect x="986.75" y="1259.58" width="13.85" height="13.29" fill="#ea632a"/>
<rect x="1000.00" y="1259.58" width="13.85" height="13.29" fill="#932667"/>
<rect x="1013.25" y="1259.58" width="13.85" height="13.29" fill="#7f1e6c"/>
<rect x="1026.50" y="1259.58" width="13.85" height="13.29" fill="#ea632a"/>
<rect x="1039.75" y="1259.58" width="13.85" height="13.29" fill="#f37819"/>
<rect x="1053.00" y="1259.58" width="13.85" height="13.29" fill="#6a176e"/>
<rect x="1066.25" y="1259.58" width="13.85" height="13.29" fill="#dd513a"/>
<rect x="1079.50" y="1259.58" width="13.85" height="13.29" fill="#ea632a"/>
<rect x="1092.75" y="1259.58" width="13.85" height="13.29" fill="#ea632a"/>
<rect x="1106.00" y="1259.58" width="13.85" height="13.29" fill="#f37819"/>
<rect x="1119.25" y="1259.58" width="13.85" height="13.29" fill="#ea632a"/>
<rect x="1132.50" y="1259.58" width="13.85" height="13.29" fill="#cc4248"/>
<rect x="1145.75" y="1259.58" width="13.85" height="13.29" fill="#ea632a"/>
<rect x="1159.00" y="1259.58" width="13.85" height="13.29" fill="#f98e09"/>
<rect x="1172.25" y="1259.58" width="13.85" height="13.29" fill="#ea632a"/>
<rect x="1185.50" y="1259.58" width="13.85" height="13.29" fill="#f37819"/>
<rect x="1198.75" y="1259.58" width="13.85" height="13.29" fill="#f37819"/>
<rect x="1212.00" y="1259.58" width="13.85" height="13.29" fill="#dd513a"/>
<rect x="1225.25" y="1259.58" width="13.85" height="13.29" fill="#f37819"/>
<rect x="1238.50" y="1259.58" width="13.85" height="13.29" fill="#f37819"/>
<rect x="1251.75" y="1259.58" width="13.85" height="13.29" fill="#f98e09"/>
<rect x="1265.00" y="1259.58" width="13.85" height="13.29" fill="#f37819"/>
<rect x="1278.25" y="1259.58" width="13.85" height="13.29" fill="#ea632a"/>
<rect x="1291.50" y="1259.58" width="13.85" height="13.29" fill="#f37819"/>
<rect x="947.00" y="1272.27" width="13.85" height="13.29" fill="#cc4248"/>
<rect x="960.25" y="1272.27" width="13.85" height="13.29" fill="#932667"/>
<rect x="973.50" y="1272.27" width="13.85" height="13.29" fill="#dd513a"/>
<rect x="986.75" y="1272.27" width="13.85" height="13.29" fill="#7f1e6c"/>
<rect x="1000.00" y="1272.27" width="13.85" height="13.29" fill="#7f1e6c"/>
<rect x="1013.25" y="1272.27" width="13.85" height="13.29" fill="#bc3754"/>
<rect x="1026.50" y="1272.27" width="13.85" height="13.29" fill="#dd513a"/>
<rect x="1039.75" y="1272.27" width="13.85" height="13.29" fill="#7f1e6c"/>
<rect x="1053.00" y="1272.27" width="13.85" height="13.29" fill="#7f1e6c"/>
<rect x="1066.25" y="1272.27" width="13.85" height="13.29" fill="#a82e5f"/>
<rect x="1079.50" y="1272.27" width="13.85" height="13.29" fill="#dd513a"/>
<rect x="1092.75" y="1272.27" width="13.85" height="13.29" fill="#ea632a"/>
<rect x="1106.00" y="1272.27" width="13.85" height="13.29" fill="#cc4248"/>
<rect x="1119.25" y="1272.27" width="13.85" height="13.29" fill="#cc4248"/>
<rect x="1132.50" y="1272.27" width="13.85" height="13.29" fill="#ea632a"/>
<rect x="1145.75" y="1272.27" width="13.85" height="13.29" fill="#f37819"/>
<rect x="1159.00" y="1272.27" width="13.85" height="13.29" fill="#dd513a"/>
<rect x="1172.25" y="1272.27" width="13.85" height="13.29" fill="#f37819"/>
<rect x="1185.50" y="1272.27" width="13.85" height="13.29" fill="#cc4248"/>
<rect x="1198.75" y="1272.27" width="13.85" height="13.29" fill="#f37819"/>
<rect x="1212.00" y="1272.27" width="13.85" height="13.29" fill="#ea632a"/>
<rect x="1225.25" y="1272.27" width="13.85" height="13.29" fill="#ea632a"/>
<rect x="1238.50" y="1272.27" width="13.85" height="13.29" fill="#ea632a"/>
<rect x="1251.75" y="1272.27" width="13.85" height="13.29" fill="#ea632a"/>
<rect x="1265.00" y="1272.27" width="13.85" height="13.29" fill="#f98e09"/>
<rect x="1278.25" y="1272.27" width="13.85" height="13.29" fill="#dd513a"/>
<rect x="1291.50" y="1272.27" width="13.85" height="13.29" fill="#ea632a"/>
<rect x="1304.75" y="1272.27" width="13.85" height="13.29" fill="#f98e09"/>
<rect x="947.00" y="1284.96" width="13.85" height="13.29" fill="#cc4248"/>
<rect x="960.25" y="1284.96" width="13.85" height="13.29" fill="#6a176e"/>
<rect x="973.50" y="1284.96" width="13.85" height="13.29" fill="#cc4248"/>
<rect x="986.75" y="1284.96" width="13.85" height="13.29" fill="#a82e5f"/>
<rect x="1000.00" y="1284.96" width="13.85" height="13.29" fill="#bc3754"/>
<rect x="1013.25" y="1284.96" width="13.85" height="13.29" fill="#bc3754"/>
<rect x="1026.50" y="1284.96" width="13.85" height="13.29" fill="#ea632a"/>
<rect x="1039.75" y="1284.96" width="13.85" height="13.29" fill="#7f1e6c"/>
<rect x="1053.00" y="1284.96" width="13.85" height="13.29" fill="#a82e5f"/>
<rect x="1066.25" y="1284.96" width="13.85" height="13.29" fill="#932667"/>
<rect x="1079.50" y="1284.96" width="13.85" height="13.29" fill="#cc4248"/>
<rect x="1092.75" y="1284.96" width="13.85" height="13.29" fill="#a82e5f"/>
<rect x="1106.00" y="1284.96" width="13.85" height="13.29" fill="#bc3754"/>
<rect x="1119.25" y="1284.96" width="13.85" height="13.29" fill="#ea632a"/>
<rect x="1132.50" y="1284.96" width="13.85" height="13.29" fill="#932667"/>
<rect x="1145.75" y="1284.96" width="13.85" height="13.29" fill="#ea632a"/>
<rect x="1159.00" y="1284.96" width="13.85" height="13.29" fill="#a82e5f"/>
<rect x="1172.25" y="1284.96" width="13.85" height="13.29" fill="#ea632a"/>
<rect x="1185.50" y="1284.96" width="13.85" height="13.29" fill="#ea632a"/>
<rect x="1198.75" y="1284.96" width="13.85" height="13.29" fill="#dd513a"/>
<rect x="1212.00" y="1284.96" width="13.85" height="13.29" fill="#bc3754"/>
<rect x="1225.25" y="1284.96" width="13.85" height="13.29" fill="#bc3754"/>
<rect x="1238.50" y="1284.96" width="13.85" height="13.29" fill="#ea632a"/>
<rect x="1251.75" y="1284.96" width="13.85" height="13.29" fill="#dd513a"/>
<rect x="1265.00" y="1284.96" width="13.85" height="13.29" fill="#f37819"/>
<rect x="1278.25" y="1284.96" width="13.85" height="13.29" fill="#f98e09"/>
<rect x="1291.50" y="1284.96" width="13.85" height="13.29" fill="#ea632a"/>
<rect x="1304.75" y="1284.96" width="13.85" height="13.29" fill="#f98e09"/>
<rect x="1318.00" y="1284.96" width="13.85" height="13.29" fill="#f98e09"/>
<rect x="947.00" y="1297.65" width="13.85" height="13.29" fill="#cc4248"/>
<rect x="960.25" y="1297.65" width="13.85" height="13.29" fill="#932667"/>
<rect x="973.50" y="1297.65" width="13.85" height="13.29" fill="#57106e"/>
<rect x="986.75" y="1297.65" width="13.85" height="13.29" fill="#cc4248"/>
<rect x="1000.00" y="1297.65" width="13.85" height="13.29" fill="#57106e"/>
<rect x="1013.25" y="1297.65" width="13.85" height="13.29" fill="#7f1e6c"/>
<rect x="1026.50" y="1297.65" width="13.85" height="13.29" fill="#cc4248"/>
<rect x="1039.75" y="1297.65" width="13.85" height="13.29" fill="#ea632a"/>
<rect x="1053.00" y="1297.65" width="13.85" height="13.29" fill="#cc4248"/>
<rect x="1066.25" y="1297.65" width="13.85" height="13.29" fill="#dd513a"/>
<rect x="1079.50" y="1297.65" width="13.85" height="13.29" fill="#dd513a"/>
<rect x="1092.75" y="1297.65" width="13.85" height="13.29" fill="#bc3754"/>
<rect x="1106.00" y="1297.65" width="13.85" height="13.29" fill="#dd513a"/>
<rect x="1119.25" y="1297.65" width="13.85" height="13.29" fill="#bc3754"/>
<rect x="1132.50" y="1297.65" width="13.85" height="13.29" fill="#ea632a"/>
<rect x="1145.75" y="1297.65" width="13.85" height="13.29" fill="#dd513a"/>
<rect x="1159.00" y="1297.65" width="13.85" height="13.29" fill="#dd513a"/>
<rect x="1172.25" y="1297.65" width="13.85" height="13.29" fill="#cc4248"/>
<rect x="1185.50" y="1297.65" width="13.85" height="13.29" fill="#dd513a"/>
<rect x="1198.75" y="1297.65" width="13.85" height="13.29" fill="#ea632a"/>
<rect x="1212.00" y="1297.65" width="13.85" height="13.29" fill="#ea632a"/>
<rect x="1225.25" y="1297.65" width="13.85" height="13.29" fill="#f37819"/>
<rect x="1238.50" y="1297.65" width="13.85" height="13.29" fill="#f37819"/>
<rect x="1251.75" y="1297.65" width="13.85" height="13.29" fill="#f37819"/>
<rect x="1265.00" y="1297.65" width="13.85" height="13.29" fill="#f37819"/>
<rect x="1278.25" y="1297.65" width="13.85" height="13.29" fill="#f98e09"/>
<rect x="1291.50" y="1297.65" width="13.85" height="13.29" fill="#dd513a"/>
<rect x="1304.75" y="1297.65" width="13.85" height="13.29" fill="#f37819"/>
<rect x="1318.00" y="1297.65" width="13.85" height="13.29" fill="#f98e09"/>
<rect x="960.25" y="1310.34" width="13.85" height="13.29" fill="#932667"/>
<rect x="973.50" y="1310.34" width="13.85" height="13.29" fill="#a82e5f"/>
<rect x="986.75" y="1310.34" width="13.85" height="13.29" fill="#ea632a"/>
<rect x="1000.00" y="1310.34" width="13.85" height="13.29" fill="#bc3754"/>
<rect x="1013.25" y="1310.34" width="13.85" height="13.29" fill="#dd513a"/>
<rect x="1026.50" y="1310.34" width="13.85" height="13.29" fill="#cc4248"/>
<rect x="1039.75" y="1310.34" width="13.85" height="13.29" fill="#bc3754"/>
<rect x="1053.00" y="1310.34" width="13.85" height="13.29" fill="#420a68"/>
<rect x="1066.25" y="1310.34" width="13.85" height="13.29" fill="#cc4248"/>
<rect x="1079.50" y="1310.34" width="13.85" height="13.29" fill="#dd513a"/>
<rect x="1092.75" y="1310.34" width="13.85" height="13.29" fill="#ea632a"/>
<rect x="1106.00" y="1310.34" width="13.85" height="13.29" fill="#dd513a"/>
<rect x="1119.25" y="1310.34" width="13.85" height="13.29" fill="#ea632a"/>
<rect x="1132.50" y="1310.34" width="13.85" height="13.29" fill="#ea632a"/>
<rect x="1145.75" y="1310.34" width="13.85" height="13.29" fill="#bc3754"/>
<rect x="1159.00" y="1310.34" width="13.85" height="13.29" fill="#ea632a"/>
<rect x="1172.25" y="1310.34" width="13.85" height="13.29" fill="#f37819"/>
<rect x="1185.50" y="1310.34" width="13.85" height="13.29" fill="#f98e09"/>
<rect x="1198.75" y="1310.34" width="13.85" height="13.29" fill="#ea632a"/>
<rect x="1212.00" y="1310.34" width="13.85" height="13.29" fill="#ea632a"/>
<rect x="1225.25" y="1310.34" width="13.85" height="13.29" fill="#f98e09"/>
<rect x="1238.50" y="1310.34" width="13.85" height="13.29" fill="#f98e09"/>
<rect x="1251.75" y="1310.34" width="13.85" height="13.29" fill="#f98e09"/>
<rect x="1265.00" y="1310.34" width="13.85" height="13.29" fill="#f37819"/>
<rect x="1278.25" y="1310.34" width="13.85" height="13.29" fill="#f98e09"/>
<rect x="1291.50" y="1310.34" width="13.85" height="13.29" fill="#fca50a"/>
<rect x="1304.75" y="1310.34" width="13.85" height="13.29" fill="#ea632a"/>
<rect x="1318.00" y="1310.34" width="13.85" height="13.29" fill="#f98e09"/>
<rect x="1331.25" y="1310.34" width="13.85" height="13.29" fill="#f98e09"/>
<rect x="960.25" y="1323.03" width="13.85" height="13.29" fill="#420a68"/>
<rect x="973.50" y="1323.03" width="13.85" height="13.29" fill="#cc4248"/>
<rect x="986.75" y="1323.03" width="13.85" height="13.29" fill="#dd513a"/>
<rect x="1000.00" y="1323.03" width="13.85" height="13.29" fill="#dd513a"/>
<rect x="1013.25" y="1323.03" width="13.85" height="13.29" fill="#dd513a"/>
<rect x="1026.50" y="1323.03" width="13.85" height="13.29" fill="#f37819"/>
<rect x="1039.75" y="1323.03" width="13.85" height="13.29" fill="#cc4248"/>
<rect x="1053.00" y="1323.03" width="13.85" height="13.29" fill="#cc4248"/>
<rect x="1066.25" y="1323.03" width="13.85" height="13.29" fill="#bc3754"/>
<rect x="1079.50" y="1323.03" width="13.85" height="13.29" fill="#cc4248"/>
<rect x="1092.75" y="1323.03" width="13.85" height="13.29" fill="#dd513a"/>
<rect x="1106.00" y="1323.03" width="13.85" height="13.29" fill="#a82e5f"/>
<rect x="1119.25" y="1323.03" width="13.85" height="13.29" fill="#bc3754"/>
<rect x="1132.50" y="1323.03" width="13.85" height="13.29" fill="#932667"/>
<rect x="1145.75" y="1323.03" width="13.85" height="13.29" fill="#cc4248"/>
<rect x="1159.00" y="1323.03" width="13.85" height="13.29" fill="#dd513a"/>
<rect x="1172.25" y="1323.03" width="13.85" height="13.29" fill="#dd513a"/>
<rect x="1185.50" y="1323.03" width="13.85" height="13.29" fill="#dd513a"/>
<rect x="1198.75" y="1323.03" width="13.85" height="13.29" fill="#ea632a"/>
<rect x="1212.00" y="1323.03" width="13.85" height="13.29" fill="#ea632a"/>
<rect x="1225.25" y="1323.03" width="13.85" height="13.29" fill="#f37819"/>
<rect x="1238.50" y="1323.03" width="13.85" height="13.29" fill="#ea632a"/>
<rect x="1251.75" y="1323.03" width="13.85" height="13.29" fill="#f37819"/>
<rect x="1265.00" y="1323.03" width="13.85" height="13.29" fill="#f37819"/>
<rect x="1278.25" y="1323.03" width="13.85" height="13.29" fill="#f98e09"/>
<rect x="1291.50" y="1323.03" width="13.85" height="13.29" fill="#ea632a"/>
<rect x="1304.75" y="1323.03" width="13.85" height="13.29" fill="#fca50a"/>
<rect x="1318.00" y="1323.03" width="13.85" height="13.29" fill="#f37819"/>
<rect x="1331.25" y="1323.03" width="13.85" height="13.29" fill="#f98e09"/>
<rect x="1344.50" y="1323.03" width="13.85" height="13.29" fill="#fca50a"/>
<rect x="960.25" y="1335.72" width="13.85" height="13.29" fill="#57106e"/>
<rect x="973.50" y="1335.72" width="13.85" height="13.29" fill="#932667"/>
<rect x="986.75" y="1335.72" width="13.85" height="13.29" fill="#bc3754"/>
<rect x="1000.00" y="1335.72" width="13.85" height="13.29" fill="#cc4248"/>
<rect x="1013.25" y="1335.72" width="13.85" height="13.29" fill="#dd513a"/>
<rect x="1026.50" y="1335.72" width="13.85" height="13.29" fill="#cc4248"/>
<rect x="1039.75" y="1335.72" width="13.85" height="13.29" fill="#cc4248"/>
<rect x="1053.00" y="1335.72" width="13.85" height="13.29" fill="#dd513a"/>
<rect x="1066.25" y="1335.72" width="13.85" height="13.29" fill="#dd513a"/>
<rect x="1079.50" y="1335.72" width="13.85" height="13.29" fill="#dd513a"/>
<rect x="1092.75" y="1335.72" width="13.85" height="13.29" fill="#bc3754"/>
<rect x="1106.00" y="1335.72" width="13.85" height="13.29" fill="#6a176e"/>
<rect x="1119.25" y="1335.72" width="13.85" height="13.29" fill="#f37819"/>
<rect x="1132.50" y="1335.72" width="13.85" height="13.29" fill="#a82e5f"/>
<rect x="1145.75" y="1335.72" width="13.85" height="13.29" fill="#f98e09"/>
<rect x="1159.00" y="1335.72" width="13.85" height="13.29" fill="#dd513a"/>
<rect x="1172.25" y="1335.72" width="13.85" height="13.29" fill="#ea632a"/>
<rect x="1185.50" y="1335.72" width="13.85" height="13.29" fill="#ea632a"/>
<rect x="1198.75" y="1335.72" width="13.85" height="13.29" fill="#ea632a"/>
<rect x="1212.00" y="1335.72" width="13.85" height="13.29" fill="#bc3754"/>
<rect x="1225.25" y="1335.72" width="13.85" height="13.29" fill="#f37819"/>
<rect x="1238.50" y="1335.72" width="13.85" height="13.29" fill="#ea632a"/>
<rect x="1251.75" y="1335.72" width="13.85" height="13.29" fill="#fbbe23"/>
<rect x="1265.00" y="1335.72" width="13.85" height="13.29" fill="#f98e09"/>
<rect x="1278.25" y="1335.72" width="13.85" height="13.29" fill="#f98e09"/>
<rect x="1291.50" y="1335.72" width="13.85" height="13.29" fill="#ea632a"/>
<rect x="1304.75" y="1335.72" width="13.85" height="13.29" fill="#ea632a"/>
<rect x="1318.00" y="1335.72" width="13.85" height="13.29" fill="#f98e09"/>
<rect x="1331.25" y="1335.72" width="13.85" height="13.29" fill="#f98e09"/>
<rect x="1344.50" y="1335.72" width="13.85" height="13.29" fill="#fca50a"/>
<rect x="960.25" y="1348.41" width="13.85" height="13.29" fill="#7f1e6c"/>
<rect x="973.50" y="1348.41" width="13.85" height="13.29" fill="#57106e"/>
<rect x="986.75" y="1348.41" width="13.85" height="13.29" fill="#6a176e"/>
<rect x="1000.00" y="1348.41" width="13.85" height="13.29" fill="#932667"/>
<rect x="1013.25" y="1348.41" width="13.85" height="13.29" fill="#cc4248"/>
<rect x="1026.50" y="1348.41" width="13.85" height="13.29" fill="#ea632a"/>
<rect x="1039.75" y="1348.41" width="13.85" height="13.29" fill="#ea632a"/>
<rect x="1053.00" y="1348.41" width="13.85" height="13.29" fill="#cc4248"/>
<rect x="1066.25" y="1348.41" width="13.85" height="13.29" fill="#bc3754"/>
<rect x="1079.50" y="1348.41" width="13.85" height="13.29" fill="#dd513a"/>
<rect x="1092.75" y="1348.41" width="13.85" height="13.29" fill="#dd513a"/>
<rect x="1106.00" y="1348.41" width="13.85" height="13.29" fill="#dd513a"/>
<rect x="1119.25" y="1348.41" width="13.85" height="13.29" fill="#932667"/>
<rect x="1132.50" y="1348.41" width="13.85" height="13.29" fill="#cc4248"/>
<rect x="1145.75" y="1348.41" width="13.85" height="13.29" fill="#cc4248"/>
<rect x="1159.00" y="1348.41" width="13.85" height="13.29" fill="#cc4248"/>
<rect x="1172.25" y="1348.41" width="13.85" height="13.29" fill="#ea632a"/>
<rect x="1185.50" y="1348.41" width="13.85" height="13.29" fill="#ea632a"/>
<rect x="1198.75" y="1348.41" width="13.85" height="13.29" fill="#ea632a"/>
<rect x="1212.00" y="1348.41" width="13.85" height="13.29" fill="#f98e09"/>
<rect x="1225.25" y="1348.41" width="13.85" height="13.29" fill="#f98e09"/>
<rect x="1238.50" y="1348.41" width="13.85" height="13.29" fill="#f98e09"/>
<rect x="1251.75" y="1348.41" width="13.85" height="13.29" fill="#f37819"/>
<rect x="1265.00" y="1348.41" width="13.85" height="13.29" fill="#ea632a"/>
<rect x="1278.25" y="1348.41" width="13.85" height="13.29" fill="#fca50a"/>
<rect x="1291.50" y="1348.41" width="13.85" height="13.29" fill="#ea632a"/>
<rect x="1304.75" y="1348.41" width="13.85" height="13.29" fill="#ea632a"/>
<rect x="1318.00" y="1348.41" width="13.85" height="13.29" fill="#fca50a"/>
<rect x="1331.25" y="1348.41" width="13.85" height="13.29" fill="#fca50a"/>
<rect x="1344.50" y="1348.41" width="13.85" height="13.29" fill="#fca50a"/>
<rect x="1357.75" y="1348.41" width="13.85" height="13.29" fill="#fca50a"/>
<rect x="960.25" y="1361.10" width="13.85" height="13.29" fill="#932667"/>
<rect x="973.50" y="1361.10" width="13.85" height="13.29" fill="#7f1e6c"/>
<rect x="986.75" y="1361.10" width="13.85" height="13.29" fill="#57106e"/>
<rect x="1000.00" y="1361.10" width="13.85" height="13.29" fill="#7f1e6c"/>
<rect x="1013.25" y="1361.10" width="13.85" height="13.29" fill="#cc4248"/>
<rect x="1026.50" y="1361.10" width="13.85" height="13.29" fill="#dd513a"/>
<rect x="1039.75" y="1361.10" width="13.85" height="13.29" fill="#ea632a"/>
<rect x="1053.00" y="1361.10" width="13.85" height="13.29" fill="#cc4248"/>
<rect x="1066.25" y="1361.10" width="13.85" height="13.29" fill="#bc3754"/>
<rect x="1079.50" y="1361.10" width="13.85" height="13.29" fill="#dd513a"/>
<rect x="1092.75" y="1361.10" width="13.85" height="13.29" fill="#dd513a"/>
<rect x="1106.00" y="1361.10" width="13.85" height="13.29" fill="#a82e5f"/>
<rect x="1119.25" y="1361.10" width="13.85" height="13.29" fill="#932667"/>
<rect x="1132.50" y="1361.10" width="13.85" height="13.29" fill="#f37819"/>
<rect x="1145.75" y="1361.10" width="13.85" height="13.29" fill="#ea632a"/>
<rect x="1159.00" y="1361.10" width="13.85" height="13.29" fill="#ea632a"/>
<rect x="1172.25" y="1361.10" width="13.85" height="13.29" fill="#f98e09"/>
<rect x="1185.50" y="1361.10" width="13.85" height="13.29" fill="#f37819"/>
<rect x="1198.75" y="1361.10" width="13.85" height="13.29" fill="#ea632a"/>
<rect x="1212.00" y="1361.10" width="13.85" height="13.29" fill="#f98e09"/>
<rect x="1225.25" y="1361.10" width="13.85" height="13.29" fill="#dd513a"/>
<rect x="1238.50" y="1361.10" width="13.85" height="13.29" fill="#cc4248"/>
<rect x="1251.75" y="1361.10" width="13.85" height="13.29" fill="#a82e5f"/>
<rect x="1265.00" y="1361.10" width="13.85" height="13.29" fill="#f98e09"/>
<rect x="1278.25" y="1361.10" width="13.85" height="13.29" fill="#f98e09"/>
<rect x="1291.50" y="1361.10" width="13.85" height="13.29" fill="#fca50a"/>
<rect x="1304.75" y="1361.10" width="13.85" height="13.29" fill="#f98e09"/>
<rect x="1318.00" y="1361.10" width="13.85" height="13.29" fill="#f98e09"/>
<rect x="1331.25" y="1361.10" width="13.85" height="13.29" fill="#fbbe23"/>
<rect x="1344.50" y="1361.10" width="13.85" height="13.29" fill="#f37819"/>
<rect x="1357.75" y="1361.10" width="13.85" height="13.29" fill="#fca50a"/>
<rect x="1371.00" y="1361.10" width="13.85" height="13.29" fill="#fbbe23"/>
<rect x="960.25" y="1373.79" width="13.85" height="13.29" fill="#cc4248"/>
<rect x="973.50" y="1373.79" width="13.85" height="13.29" fill="#932667"/>
<rect x="986.75" y="1373.79" width="13.85" height="13.29" fill="#7f1e6c"/>
<rect x="1000.00" y="1373.79" width="13.85" height="13.29" fill="#7f1e6c"/>
<rect x="1013.25" y="1373.79" width="13.85" height="13.29" fill="#bc3754"/>
<rect x="1026.50" y="1373.79" width="13.85" height="13.29" fill="#dd513a"/>
<rect x="1039.75" y="1373.79" width="13.85" height="13.29" fill="#ea632a"/>
<rect x="1053.00" y="1373.79" width="13.85" height="13.29" fill="#ea632a"/>
<rect x="1066.25" y="1373.79" width="13.85" height="13.29" fill="#bc3754"/>
<rect x="1079.50" y="1373.79" width="13.85" height="13.29" fill="#dd513a"/>
<rect x="1092.75" y="1373.79" width="13.85" height="13.29" fill="#dd513a"/>
<rect x="1106.00" y="1373.79" width="13.85" height="13.29" fill="#6a176e"/>
<rect x="1119.25" y="1373.79" width="13.85" height="13.29" fill="#ea632a"/>
<rect x="1132.50" y="1373.79" width="13.85" height="13.29" fill="#bc3754"/>
<rect x="1145.75" y="1373.79" width="13.85" height="13.29" fill="#ea632a"/>
<rect x="1159.00" y="1373.79" width="13.85" height="13.29" fill="#ea632a"/>
<rect x="1172.25" y="1373.79" width="13.85" height="13.29" fill="#cc4248"/>
<rect x="1185.50" y="1373.79" width="13.85" height="13.29" fill="#f37819"/>
<rect x="1198.75" y="1373.79" width="13.85" height="13.29" fill="#bc3754"/>
<rect x="1212.00" y="1373.79" width="13.85" height="13.29" fill="#ea632a"/>
<rect x="1225.25" y="1373.79" width="13.85" height="13.29" fill="#f37819"/>
<rect x="1238.50" y="1373.79" width="13.85" height="13.29" fill="#f37819"/>
<rect x="1251.75" y="1373.79" width="13.85" height="13.29" fill="#f37819"/>
<rect x="1265.00" y="1373.79" width="13.85" height="13.29" fill="#f98e09"/>
<rect x="1278.25" y="1373.79" width="13.85" height="13.29" fill="#f98e09"/>
<rect x="1291.50" y="1373.79" width="13.85" height="13.29" fill="#f37819"/>
<rect x="1304.75" y="1373.79" width="13.85" height="13.29" fill="#dd513a"/>
<rect x="1318.00" y="1373.79" width="13.85" height="13.29" fill="#f98e09"/>
<rect x="1331.25" y="1373.79" width="13.85" height="13.29" fill="#fca50a"/>
<rect x="1344.50" y="1373.79" width="13.85" height="13.29" fill="#fca50a"/>
<rect x="1357.75" y="1373.79" width="13.85" height="13.29" fill="#fca50a"/>
<rect x="1371.00" y="1373.79" width="13.85" height="13.29" fill="#fbbe23"/>
<rect x="973.50" y="1386.48" width="13.85" height="13.29" fill="#cc4248"/>
<rect x="986.75" y="1386.48" width="13.85" height="13.29" fill="#bc3754"/>
<rect x="1000.00" y="1386.48" width="13.85" height="13.29" fill="#a82e5f"/>
<rect x="1013.25" y="1386.48" width="13.85" height="13.29" fill="#932667"/>
<rect x="1026.50" y="1386.48" width="13.85" height="13.29" fill="#dd513a"/>
<rect x="1039.75" y="1386.48" width="13.85" height="13.29" fill="#ea632a"/>
<rect x="1053.00" y="1386.48" width="13.85" height="13.29" fill="#f37819"/>
<rect x="1066.25" y="1386.48" width="13.85" height="13.29" fill="#bc3754"/>
<rect x="1079.50" y="1386.48" width="13.85" height="13.29" fill="#dd513a"/>
<rect x="1092.75" y="1386.48" width="13.85" height="13.29" fill="#bc3754"/>
<rect x="1106.00" y="1386.48" width="13.85" height="13.29" fill="#ea632a"/>
<rect x="1119.25" y="1386.48" width="13.85" height="13.29" fill="#f37819"/>
<rect x="1132.50" y="1386.48" width="13.85" height="13.29" fill="#ea632a"/>
<rect x="1145.75" y="1386.48" width="13.85" height="13.29" fill="#fca50a"/>
<rect x="1159.00" y="1386.48" width="13.85" height="13.29" fill="#a82e5f"/>
<rect x="1172.25" y="1386.48" width="13.85" height="13.29" fill="#f98e09"/>
<rect x="1185.50" y="1386.48" width="13.85" height="13.29" fill="#fca50a"/>
<rect x="1198.75" y="1386.48" width="13.85" height="13.29" fill="#f98e09"/>
<rect x="1212.00" y="1386.48" width="13.85" height="13.29" fill="#f37819"/>
<rect x="1225.25" y="1386.48" width="13.85" height="13.29" fill="#f98e09"/>
<rect x="1238.50" y="1386.48" width="13.85" height="13.29" fill="#f37819"/>
<rect x="1251.75" y="1386.48" width="13.85" height="13.29" fill="#f98e09"/>
<rect x="1265.00" y="1386.48" width="13.85" height="13.29" fill="#fbbe23"/>
<rect x="1278.25" y="1386.48" width="13.85" height="13.29" fill="#ea632a"/>
<rect x="1291.50" y="1386.48" width="13.85" height="13.29" fill="#f37819"/>
<rect x="1304.75" y="1386.48" width="13.85" height="13.29" fill="#fca50a"/>
<rect x="1318.00" y="1386.48" width="13.85" height="13.29" fill="#f98e09"/>
<rect x="1331.25" y="1386.48" width="13.85" height="13.29" fill="#f37819"/>
<rect x="1344.50" y="1386.48" width="13.85" height="13.29" fill="#f98e09"/>
<rect x="1357.75" y="1386.48" width="13.85" height="13.29" fill="#f98e09"/>
<rect x="1371.00" y="1386.48" width="13.85" height="13.29" fill="#fca50a"/>
<rect x="1384.25" y="1386.48" width="13.85" height="13.29" fill="#f6d746"/>
<rect x="973.50" y="1399.17" width="13.85" height="13.29" fill="#cc4248"/>
<rect x="986.75" y="1399.17" width="13.85" height="13.29" fill="#cc4248"/>
<rect x="1000.00" y="1399.17" width="13.85" height="13.29" fill="#bc3754"/>
<rect x="1013.25" y="1399.17" width="13.85" height="13.29" fill="#a82e5f"/>
<rect x="1026.50" y="1399.17" width="13.85" height="13.29" fill="#a82e5f"/>
<rect x="1039.75" y="1399.17" width="13.85" height="13.29" fill="#ea632a"/>
<rect x="1053.00" y="1399.17" width="13.85" height="13.29" fill="#f98e09"/>
<rect x="1066.25" y="1399.17" width="13.85" height="13.29" fill="#dd513a"/>
<rect x="1079.50" y="1399.17" width="13.85" height="13.29" fill="#932667"/>
<rect x="1092.75" y="1399.17" width="13.85" height="13.29" fill="#932667"/>
<rect x="1106.00" y="1399.17" width="13.85" height="13.29" fill="#dd513a"/>
<rect x="1119.25" y="1399.17" width="13.85" height="13.29" fill="#f37819"/>
<rect x="1132.50" y="1399.17" width="13.85" height="13.29" fill="#cc4248"/>
<rect x="1145.75" y="1399.17" width="13.85" height="13.29" fill="#f37819"/>
<rect x="1159.00" y="1399.17" width="13.85" height="13.29" fill="#a82e5f"/>
<rect x="1172.25" y="1399.17" width="13.85" height="13.29" fill="#ea632a"/>
<rect x="1185.50" y="1399.17" width="13.85" height="13.29" fill="#bc3754"/>
<rect x="1198.75" y="1399.17" width="13.85" height="13.29" fill="#fca50a"/>
<rect x="1212.00" y="1399.17" width="13.85" height="13.29" fill="#ea632a"/>
<rect x="1225.25" y="1399.17" width="13.85" height="13.29" fill="#f98e09"/>
<rect x="1238.50" y="1399.17" width="13.85" height="13.29" fill="#f98e09"/>
<rect x="1251.75" y="1399.17" width="13.85" height="13.29" fill="#fbbe23"/>
<rect x="1265.00" y="1399.17" width="13.85" height="13.29" fill="#f98e09"/>
<rect x="1278.25" y="1399.17" width="13.85" height="13.29" fill="#ea632a"/>
<rect x="1291.50" y="1399.17" width="13.85" height="13.29" fill="#ea632a"/>
<rect x="1304.75" y="1399.17" width="13.85" height="13.29" fill="#fca50a"/>
<rect x="1318.00" y="1399.17" width="13.85" height="13.29" fill="#f98e09"/>
<rect x="1331.25" y="1399.17" width="13.85" height="13.29" fill="#fbbe23"/>
<rect x="1344.50" y="1399.17" width="13.85" height="13.29" fill="#fbbe23"/>
<rect x="1357.75" y="1399.17" width="13.85" height="13.29" fill="#fca50a"/>
<rect x="1371.00" y="1399.17" width="13.85" height="13.29" fill="#f6d746"/>
<rect x="1384.25" y="1399.17" width="13.85" height="13.29" fill="#fbbe23"/>
<rect x="1397.50" y="1399.17" width="13.85" height="13.29" fill="#f6d746"/>
<rect x="986.75" y="1411.86" width="13.85" height="13.29" fill="#dd513a"/>
<rect x="1000.00" y="1411.86" width="13.85" height="13.29" fill="#dd513a"/>
<rect x="1013.25" y="1411.86" width="13.85" height="13.29" fill="#dd513a"/>
<rect x="1026.50" y="1411.86" width="13.85" height="13.29" fill="#cc4248"/>
<rect x="1039.75" y="1411.86" width="13.85" height="13.29" fill="#bc3754"/>
<rect x="1053.00" y="1411.86" width="13.85" height="13.29" fill="#f37819"/>
<rect x="1066.25" y="1411.86" width="13.85" height="13.29" fill="#f37819"/>
<rect x="1079.50" y="1411.86" width="13.85" height="13.29" fill="#932667"/>
<rect x="1092.75" y="1411.86" width="13.85" height="13.29" fill="#7f1e6c"/>
<rect x="1106.00" y="1411.86" width="13.85" height="13.29" fill="#f37819"/>
<rect x="1119.25" y="1411.86" width="13.85" height="13.29" fill="#dd513a"/>
<rect x="1132.50" y="1411.86" width="13.85" height="13.29" fill="#f37819"/>
<rect x="1145.75" y="1411.86" width="13.85" height="13.29" fill="#dd513a"/>
<rect x="1159.00" y="1411.86" width="13.85" height="13.29" fill="#f37819"/>
<rect x="1172.25" y="1411.86" width="13.85" height="13.29" fill="#ea632a"/>
<rect x="1185.50" y="1411.86" width="13.85" height="13.29" fill="#bc3754"/>
<rect x="1198.75" y="1411.86" width="13.85" height="13.29" fill="#ea632a"/>
<rect x="1212.00" y="1411.86" width="13.85" height="13.29" fill="#f98e09"/>
<rect x="1225.25" y="1411.86" width="13.85" height="13.29" fill="#dd513a"/>
<rect x="1238.50" y="1411.86" width="13.85" height="13.29" fill="#fbbe23"/>
<rect x="1251.75" y="1411.86" width="13.85" height="13.29" fill="#dd513a"/>
<rect x="1265.00" y="1411.86" width="13.85" height="13.29" fill="#f98e09"/>
<rect x="1278.25" y="1411.86" width="13.85" height="13.29" fill="#f98e09"/>
<rect x="1291.50" y="1411.86" width="13.85" height="13.29" fill="#fca50a"/>
<rect x="1304.75" y="1411.86" width="13.85" height="13.29" fill="#f37819"/>
<rect x="1318.00" y="1411.86" width="13.85" height="13.29" fill="#f98e09"/>
<rect x="1331.25" y="1411.86" width="13.85" height="13.29" fill="#f6d746"/>
<rect x="1344.50" y="1411.86" width="13.85" height="13.29" fill="#f98e09"/>
<rect x="1357.75" y="1411.86" width="13.85" height="13.29" fill="#fca50a"/>
<rect x="1371.00" y="1411.86" width="13.85" height="13.29" fill="#fca50a"/>
<rect x="1384.25" y="1411.86" width="13.85" height="13.29" fill="#fca50a"/>
<rect x="1397.50" y="1411.86" width="13.85" height="13.29" fill="#fca50a"/>
<rect x="1000.00" y="1424.55" width="13.85" height="13.29" fill="#dd513a"/>
<rect x="1013.25" y="1424.55" width="13.85" height="13.29" fill="#dd513a"/>
<rect x="1026.50" y="1424.55" width="13.85" height="13.29" fill="#dd513a"/>
<rect x="1039.75" y="1424.55" width="13.85" height="13.29" fill="#dd513a"/>
<rect x="1053.00" y="1424.55" width="13.85" height="13.29" fill="#dd513a"/>
<rect x="1066.25" y="1424.55" width="13.85" height="13.29" fill="#fca50a"/>
<rect x="1079.50" y="1424.55" width="13.85" height="13.29" fill="#932667"/>
<rect x="1092.75" y="1424.55" width="13.85" height="13.29" fill="#dd513a"/>
<rect x="1106.00" y="1424.55" width="13.85" height="13.29" fill="#dd513a"/>
<rect x="1119.25" y="1424.55" width="13.85" height="13.29" fill="#f98e09"/>
<rect x="1132.50" y="1424.55" width="13.85" height="13.29" fill="#fca50a"/>
<rect x="1145.75" y="1424.55" width="13.85" height="13.29" fill="#f98e09"/>
<rect x="1159.00" y="1424.55" width="13.85" height="13.29" fill="#dd513a"/>
<rect x="1172.25" y="1424.55" width="13.85" height="13.29" fill="#dd513a"/>
<rect x="1185.50" y="1424.55" width="13.85" height="13.29" fill="#bc3754"/>
<rect x="1198.75" y="1424.55" width="13.85" height="13.29" fill="#932667"/>
<rect x="1212.00" y="1424.55" width="13.85" height="13.29" fill="#f98e09"/>
<rect x="1225.25" y="1424.55" width="13.85" height="13.29" fill="#fbbe23"/>
<rect x="1238.50" y="1424.55" width="13.85" height="13.29" fill="#dd513a"/>
<rect x="1251.75" y="1424.55" width="13.85" height="13.29" fill="#fbbe23"/>
<rect x="1265.00" y="1424.55" width="13.85" height="13.29" fill="#f98e09"/>
<rect x="1278.25" y="1424.55" width="13.85" height="13.29" fill="#f98e09"/>
<rect x="1291.50" y="1424.55" width="13.85" height="13.29" fill="#fca50a"/>
<rect x="1304.75" y="1424.55" width="13.85" height="13.29" fill="#f98e09"/>
<rect x="1318.00" y="1424.55" width="13.85" height="13.29" fill="#fbbe23"/>
<rect x="1331.25" y="1424.55" width="13.85" height="13.29" fill="#f37819"/>
<rect x="1344.50" y="1424.55" width="13.85" height="13.29" fill="#fca50a"/>
<rect x="1357.75" y="1424.55" width="13.85" height="13.29" fill="#fbbe23"/>
<rect x="1371.00" y="1424.55" width="13.85" height="13.29" fill="#fbbe23"/>
<rect x="1384.25" y="1424.55" width="13.85" height="13.29" fill="#fbbe23"/>
<rect x="1397.50" y="1424.55" width="13.85" height="13.29" fill="#fbbe23"/>
<rect x="1410.75" y="1424.55" width="13.85" height="13.29" fill="#f6d746"/>
<rect x="1000.00" y="1437.24" width="13.85" height="13.29" fill="#dd513a"/>
<rect x="1013.25" y="1437.24" width="13.85" height="13.29" fill="#dd513a"/>
<rect x="1026.50" y="1437.24" width="13.85" height="13.29" fill="#dd513a"/>
<rect x="1039.75" y="1437.24" width="13.85" height="13.29" fill="#dd513a"/>
<rect x="1053.00" y="1437.24" width="13.85" height="13.29" fill="#dd513a"/>
<rect x="1066.25" y="1437.24" width="13.85" height="13.29" fill="#ea632a"/>
<rect x="1079.50" y="1437.24" width="13.85" height="13.29" fill="#7f1e6c"/>
<rect x="1092.75" y="1437.24" width="13.85" height="13.29" fill="#f98e09"/>
<rect x="1106.00" y="1437.24" width="13.85" height="13.29" fill="#ea632a"/>
<rect x="1119.25" y="1437.24" width="13.85" height="13.29" fill="#fca50a"/>
<rect x="1132.50" y="1437.24" width="13.85" height="13.29" fill="#ea632a"/>
<rect x="1145.75" y="1437.24" width="13.85" height="13.29" fill="#f37819"/>
<rect x="1159.00" y="1437.24" width="13.85" height="13.29" fill="#a82e5f"/>
<rect x="1172.25" y="1437.24" width="13.85" height="13.29" fill="#ea632a"/>
<rect x="1185.50" y="1437.24" width="13.85" height="13.29" fill="#a82e5f"/>
<rect x="1198.75" y="1437.24" width="13.85" height="13.29" fill="#dd513a"/>
<rect x="1212.00" y="1437.24" width="13.85" height="13.29" fill="#f98e09"/>
<rect x="1225.25" y="1437.24" width="13.85" height="13.29" fill="#fca50a"/>
<rect x="1238.50" y="1437.24" width="13.85" height="13.29" fill="#f98e09"/>
<rect x="1251.75" y="1437.24" width="13.85" height="13.29" fill="#f37819"/>
<rect x="1265.00" y="1437.24" width="13.85" height="13.29" fill="#fbbe23"/>
<rect x="1278.25" y="1437.24" width="13.85" height="13.29" fill="#f98e09"/>
<rect x="1291.50" y="1437.24" width="13.85" height="13.29" fill="#f98e09"/>
<rect x="1304.75" y="1437.24" width="13.85" height="13.29" fill="#fbbe23"/>
<rect x="1318.00" y="1437.24" width="13.85" height="13.29" fill="#f98e09"/>
<rect x="1331.25" y="1437.24" width="13.85" height="13.29" fill="#f98e09"/>
<rect x="1344.50" y="1437.24" width="13.85" height="13.29" fill="#fbbe23"/>
<rect x="1357.75" y="1437.24" width="13.85" height="13.29" fill="#f98e09"/>
<rect x="1371.00" y="1437.24" width="13.85" height="13.29" fill="#fbbe23"/>
<rect x="1384.25" y="1437.24" width="13.85" height="13.29" fill="#f6d746"/>
<rect x="1397.50" y="1437.24" width="13.85" height="13.29" fill="#fbbe23"/>
<rect x="1410.75" y="1437.24" width="13.85" height="13.29" fill="#fbbe23"/>
<rect x="1424.00" y="1437.24" width="13.85" height="13.29" fill="#f6d746"/>
<rect x="1013.25" y="1449.93" width="13.85" height="13.29" fill="#dd513a"/>
<rect x="1026.50" y="1449.93" width="13.85" height="13.29" fill="#dd513a"/>
<rect x="1039.75" y="1449.93" width="13.85" height="13.29" fill="#dd513a"/>
<rect x="1053.00" y="1449.93" width="13.85" height="13.29" fill="#dd513a"/>
<rect x="1066.25" y="1449.93" width="13.85" height="13.29" fill="#ea632a"/>
<rect x="1079.50" y="1449.93" width="13.85" height="13.29" fill="#dd513a"/>
<rect x="1092.75" y="1449.93" width="13.85" height="13.29" fill="#f37819"/>
<rect x="1106.00" y="1449.93" width="13.85" height="13.29" fill="#ea632a"/>
<rect x="1119.25" y="1449.93" width="13.85" height="13.29" fill="#fca50a"/>
<rect x="1132.50" y="1449.93" width="13.85" height="13.29" fill="#ea632a"/>
<rect x="1145.75" y="1449.93" width="13.85" height="13.29" fill="#f37819"/>
<rect x="1159.00" y="1449.93" width="13.85" height="13.29" fill="#dd513a"/>
<rect x="1172.25" y="1449.93" width="13.85" height="13.29" fill="#f98e09"/>
<rect x="1185.50" y="1449.93" width="13.85" height="13.29" fill="#ea632a"/>
<rect x="1198.75" y="1449.93" width="13.85" height="13.29" fill="#ea632a"/>
<rect x="1212.00" y="1449.93" width="13.85" height="13.29" fill="#f37819"/>
<rect x="1225.25" y="1449.93" width="13.85" height="13.29" fill="#f37819"/>
<rect x="1238.50" y="1449.93" width="13.85" height="13.29" fill="#fca50a"/>
<rect x="1251.75" y="1449.93" width="13.85" height="13.29" fill="#fca50a"/>
<rect x="1265.00" y="1449.93" width="13.85" height="13.29" fill="#fbbe23"/>
<rect x="1278.25" y="1449.93" width="13.85" height="13.29" fill="#fca50a"/>
<rect x="1291.50" y="1449.93" width="13.85" height="13.29" fill="#f98e09"/>
<rect x="1304.75" y="1449.93" width="13.85" height="13.29" fill="#f98e09"/>
<rect x="1318.00" y="1449.93" width="13.85" height="13.29" fill="#f98e09"/>
<rect x="1331.25" y="1449.93" width="13.85" height="13.29" fill="#fbbe23"/>
<rect x="1344.50" y="1449.93" width="13.85" height="13.29" fill="#fbbe23"/>
<rect x="1357.75" y="1449.93" width="13.85" height="13.29" fill="#f98e09"/>
<rect x="1371.00" y="1449.93" width="13.85" height="13.29" fill="#fbbe23"/>
<rect x="1384.25" y="1449.93" width="13.85" height="13.29" fill="#f1ef75"/>
<rect x="1397.50" y="1449.93" width="13.85" height="13.29" fill="#fbbe23"/>
<rect x="1410.75" y="1449.93" width="13.85" height="13.29" fill="#fbbe23"/>
<rect x="1424.00" y="1449.93" width="13.85" height="13.29" fill="#fbbe23"/>
<rect x="1013.25" y="1462.62" width="13.85" height="13.29" fill="#dd513a"/>
<rect x="1026.50" y="1462.62" width="13.85" height="13.29" fill="#ea632a"/>
<rect x="1039.75" y="1462.62" width="13.85" height="13.29" fill="#ea632a"/>
<rect x="1053.00" y="1462.62" width="13.85" height="13.29" fill="#ea632a"/>
<rect x="1066.25" y="1462.62" width="13.85" height="13.29" fill="#ea632a"/>
<rect x="1079.50" y="1462.62" width="13.85" height="13.29" fill="#ea632a"/>
<rect x="1092.75" y="1462.62" width="13.85" height="13.29" fill="#ea632a"/>
<rect x="1106.00" y="1462.62" width="13.85" height="13.29" fill="#ea632a"/>
<rect x="1119.25" y="1462.62" width="13.85" height="13.29" fill="#f98e09"/>
<rect x="1132.50" y="1462.62" width="13.85" height="13.29" fill="#ea632a"/>
<rect x="1145.75" y="1462.62" width="13.85" height="13.29" fill="#f37819"/>
<rect x="1159.00" y="1462.62" width="13.85" height="13.29" fill="#ea632a"/>
<rect x="1172.25" y="1462.62" width="13.85" height="13.29" fill="#ea632a"/>
<rect x="1185.50" y="1462.62" width="13.85" height="13.29" fill="#fca50a"/>
<rect x="1198.75" y="1462.62" width="13.85" height="13.29" fill="#ea632a"/>
<rect x="1212.00" y="1462.62" width="13.85" height="13.29" fill="#f98e09"/>
<rect x="1225.25" y="1462.62" width="13.85" height="13.29" fill="#cc4248"/>
<rect x="1238.50" y="1462.62" width="13.85" height="13.29" fill="#f98e09"/>
<rect x="1251.75" y="1462.62" width="13.85" height="13.29" fill="#fca50a"/>
<rect x="1265.00" y="1462.62" width="13.85" height="13.29" fill="#fca50a"/>
<rect x="1278.25" y="1462.62" width="13.85" height="13.29" fill="#fca50a"/>
<rect x="1291.50" y="1462.62" width="13.85" height="13.29" fill="#f6d746"/>
<rect x="1304.75" y="1462.62" width="13.85" height="13.29" fill="#f37819"/>
<rect x="1318.00" y="1462.62" width="13.85" height="13.29" fill="#f6d746"/>
<rect x="1331.25" y="1462.62" width="13.85" height="13.29" fill="#fca50a"/>
<rect x="1344.50" y="1462.62" width="13.85" height="13.29" fill="#fca50a"/>
<rect x="1357.75" y="1462.62" width="13.85" height="13.29" fill="#fca50a"/>
<rect x="1371.00" y="1462.62" width="13.85" height="13.29" fill="#fbbe23"/>
<rect x="1384.25" y="1462.62" width="13.85" height="13.29" fill="#fbbe23"/>
<rect x="1397.50" y="1462.62" width="13.85" height="13.29" fill="#f6d746"/>
<rect x="1410.75" y="1462.62" width="13.85" height="13.29" fill="#f1ef75"/>
<rect x="1424.00" y="1462.62" width="13.85" height="13.29" fill="#f1ef75"/>
<rect x="1437.25" y="1462.62" width="13.85" height="13.29" fill="#f1ef75"/>
<rect x="1026.50" y="1475.31" width="13.85" height="13.29" fill="#ea632a"/>
<rect x="1039.75" y="1475.31" width="13.85" height="13.29" fill="#ea632a"/>
<rect x="1053.00" y="1475.31" width="13.85" height="13.29" fill="#ea632a"/>
<rect x="1066.25" y="1475.31" width="13.85" height="13.29" fill="#ea632a"/>
<rect x="1079.50" y="1475.31" width="13.85" height="13.29" fill="#a82e5f"/>
<rect x="1092.75" y="1475.31" width="13.85" height="13.29" fill="#932667"/>
<rect x="1106.00" y="1475.31" width="13.85" height="13.29" fill="#cc4248"/>
<rect x="1119.25" y="1475.31" width="13.85" height="13.29" fill="#ea632a"/>
<rect x="1132.50" y="1475.31" width="13.85" height="13.29" fill="#ea632a"/>
<rect x="1145.75" y="1475.31" width="13.85" height="13.29" fill="#f37819"/>
<rect x="1159.00" y="1475.31" width="13.85" height="13.29" fill="#f37819"/>
<rect x="1172.25" y="1475.31" width="13.85" height="13.29" fill="#fca50a"/>
<rect x="1185.50" y="1475.31" width="13.85" height="13.29" fill="#cc4248"/>
<rect x="1198.75" y="1475.31" width="13.85" height="13.29" fill="#ea632a"/>
<rect x="1212.00" y="1475.31" width="13.85" height="13.29" fill="#fbbe23"/>
<rect x="1225.25" y="1475.31" width="13.85" height="13.29" fill="#f98e09"/>
<rect x="1238.50" y="1475.31" width="13.85" height="13.29" fill="#ea632a"/>
<rect x="1251.75" y="1475.31" width="13.85" height="13.29" fill="#f37819"/>
<rect x="1265.00" y="1475.31" width="13.85" height="13.29" fill="#ea632a"/>
<rect x="1278.25" y="1475.31" width="13.85" height="13.29" fill="#fbbe23"/>
<rect x="1291.50" y="1475.31" width="13.85" height="13.29" fill="#fbbe23"/>
<rect x="1304.75" y="1475.31" width="13.85" height="13.29" fill="#f1ef75"/>
<rect x="1318.00" y="1475.31" width="13.85" height="13.29" fill="#fca50a"/>
<rect x="1331.25" y="1475.31" width="13.85" height="13.29" fill="#f6d746"/>
<rect x="1344.50" y="1475.31" width="13.85" height="13.29" fill="#fca50a"/>
<rect x="1357.75" y="1475.31" width="13.85" height="13.29" fill="#fbbe23"/>
<rect x="1371.00" y="1475.31" width="13.85" height="13.29" fill="#f6d746"/>
<rect x="1384.25" y="1475.31" width="13.85" height="13.29" fill="#fca50a"/>
<rect x="1397.50" y="1475.31" width="13.85" height="13.29" fill="#f6d746"/>
<rect x="1410.75" y="1475.31" width="13.85" height="13.29" fill="#f1ef75"/>
<rect x="1424.00" y="1475.31" width="13.85" height="13.29" fill="#f1ef75"/>
<rect x="1437.25" y="1475.31" width="13.85" height="13.29" fill="#f1ef75"/>
<rect x="1039.75" y="1488.00" width="13.85" height="13.29" fill="#ea632a"/>
<rect x="1053.00" y="1488.00" width="13.85" height="13.29" fill="#ea632a"/>
<rect x="1066.25" y="1488.00" width="13.85" height="13.29" fill="#ea632a"/>
<rect x="1079.50" y="1488.00" width="13.85" height="13.29" fill="#a82e5f"/>
<rect x="1092.75" y="1488.00" width="13.85" height="13.29" fill="#a82e5f"/>
<rect x="1106.00" y="1488.00" width="13.85" height="13.29" fill="#ea632a"/>
<rect x="1119.25" y="1488.00" width="13.85" height="13.29" fill="#ea632a"/>
<rect x="1132.50" y="1488.00" width="13.85" height="13.29" fill="#ea632a"/>
<rect x="1145.75" y="1488.00" width="13.85" height="13.29" fill="#ea632a"/>
<rect x="1159.00" y="1488.00" width="13.85" height="13.29" fill="#ea632a"/>
<rect x="1172.25" y="1488.00" width="13.85" height="13.29" fill="#cc4248"/>
<rect x="1185.50" y="1488.00" width="13.85" height="13.29" fill="#cc4248"/>
<rect x="1198.75" y="1488.00" width="13.85" height="13.29" fill="#f37819"/>
<rect x="1212.00" y="1488.00" width="13.85" height="13.29" fill="#f98e09"/>
<rect x="1225.25" y="1488.00" width="13.85" height="13.29" fill="#f98e09"/>
<rect x="1238.50" y="1488.00" width="13.85" height="13.29" fill="#f37819"/>
<rect x="1251.75" y="1488.00" width="13.85" height="13.29" fill="#dd513a"/>
<rect x="1265.00" y="1488.00" width="13.85" height="13.29" fill="#ea632a"/>
<rect x="1278.25" y="1488.00" width="13.85" height="13.29" fill="#fca50a"/>
<rect x="1291.50" y="1488.00" width="13.85" height="13.29" fill="#fbbe23"/>
<rect x="1304.75" y="1488.00" width="13.85" height="13.29" fill="#f1ef75"/>
<rect x="1318.00" y="1488.00" width="13.85" height="13.29" fill="#fca50a"/>
<rect x="1331.25" y="1488.00" width="13.85" height="13.29" fill="#fca50a"/>
<rect x="1344.50" y="1488.00" width="13.85" height="13.29" fill="#fca50a"/>
<rect x="1357.75" y="1488.00" width="13.85" height="13.29" fill="#f6d746"/>
<rect x="1371.00" y="1488.00" width="13.85" height="13.29" fill="#f1ef75"/>
<rect x="1384.25" y="1488.00" width="13.85" height="13.29" fill="#fbbe23"/>
<rect x="1397.50" y="1488.00" width="13.85" height="13.29" fill="#fbbe23"/>
<rect x="1410.75" y="1488.00" width="13.85" height="13.29" fill="#f1ef75"/>
<rect x="1424.00" y="1488.00" width="13.85" height="13.29" fill="#f1ef75"/>
<rect x="1437.25" y="1488.00" width="13.85" height="13.29" fill="#f1ef75"/>
<rect x="1039.75" y="1500.69" width="13.85" height="13.29" fill="#ea632a"/>
<rect x="1053.00" y="1500.69" width="13.85" height="13.29" fill="#ea632a"/>
<rect x="1066.25" y="1500.69" width="13.85" height="13.29" fill="#ea632a"/>
<rect x="1079.50" y="1500.69" width="13.85" height="13.29" fill="#a82e5f"/>
<rect x="1092.75" y="1500.69" width="13.85" height="13.29" fill="#cc4248"/>
<rect x="1106.00" y="1500.69" width="13.85" height="13.29" fill="#f37819"/>
<rect x="1119.25" y="1500.69" width="13.85" height="13.29" fill="#ea632a"/>
<rect x="1132.50" y="1500.69" width="13.85" height="13.29" fill="#bc3754"/>
<rect x="1145.75" y="1500.69" width="13.85" height="13.29" fill="#dd513a"/>
<rect x="1159.00" y="1500.69" width="13.85" height="13.29" fill="#a82e5f"/>
<rect x="1172.25" y="1500.69" width="13.85" height="13.29" fill="#cc4248"/>
<rect x="1185.50" y="1500.69" width="13.85" height="13.29" fill="#dd513a"/>
<rect x="1198.75" y="1500.69" width="13.85" height="13.29" fill="#ea632a"/>
<rect x="1212.00" y="1500.69" width="13.85" height="13.29" fill="#f98e09"/>
<rect x="1225.25" y="1500.69" width="13.85" height="13.29" fill="#fca50a"/>
<rect x="1238.50" y="1500.69" width="13.85" height="13.29" fill="#fca50a"/>
<rect x="1251.75" y="1500.69" width="13.85" height="13.29" fill="#ea632a"/>
<rect x="1265.00" y="1500.69" width="13.85" height="13.29" fill="#fbbe23"/>
<rect x="1278.25" y="1500.69" width="13.85" height="13.29" fill="#f98e09"/>
<rect x="1291.50" y="1500.69" width="13.85" height="13.29" fill="#f6d746"/>
<rect x="1304.75" y="1500.69" width="13.85" height="13.29" fill="#f6d746"/>
<rect x="1318.00" y="1500.69" width="13.85" height="13.29" fill="#fca50a"/>
<rect x="1331.25" y="1500.69" width="13.85" height="13.29" fill="#f98e09"/>
<rect x="1344.50" y="1500.69" width="13.85" height="13.29" fill="#fbbe23"/>
<rect x="1357.75" y="1500.69" width="13.85" height="13.29" fill="#f1ef75"/>
<rect x="1371.00" y="1500.69" width="13.85" height="13.29" fill="#fbbe23"/>
<rect x="1384.25" y="1500.69" width="13.85" height="13.29" fill="#fbbe23"/>
<rect x="1397.50" y="1500.69" width="13.85" height="13.29" fill="#fbbe23"/>
<rect x="1410.75" y="1500.69" width="13.85" height="13.29" fill="#f1ef75"/>
<rect x="1424.00" y="1500.69" width="13.85" height="13.29" fill="#f1ef75"/>
<rect x="1437.25" y="1500.69" width="13.85" height="13.29" fill="#f1ef75"/>
<rect x="1053.00" y="1513.38" width="13.85" height="13.29" fill="#ea632a"/>
<rect x="1066.25" y="1513.38" width="13.85" height="13.29" fill="#ea632a"/>
<rect x="1079.50" y="1513.38" width="13.85" height="13.29" fill="#bc3754"/>
<rect x="1092.75" y="1513.38" width="13.85" height="13.29" fill="#ea632a"/>
<rect x="1106.00" y="1513.38" width="13.85" height="13.29" fill="#f98e09"/>
<rect x="1119.25" y="1513.38" width="13.85" height="13.29" fill="#f37819"/>
<rect x="1132.50" y="1513.38" width="13.85" height="13.29" fill="#bc3754"/>
<rect x="1145.75" y="1513.38" width="13.85" height="13.29" fill="#a82e5f"/>
<rect x="1159.00" y="1513.38" width="13.85" height="13.29" fill="#bc3754"/>
<rect x="1172.25" y="1513.38" width="13.85" height="13.29" fill="#dd513a"/>
<rect x="1185.50" y="1513.38" width="13.85" height="13.29" fill="#ea632a"/>
<rect x="1198.75" y="1513.38" width="13.85" height="13.29" fill="#ea632a"/>
<rect x="1212.00" y="1513.38" width="13.85" height="13.29" fill="#f98e09"/>
<rect x="1225.25" y="1513.38" width="13.85" height="13.29" fill="#f98e09"/>
<rect x="1238.50" y="1513.38" width="13.85" height="13.29" fill="#fbbe23"/>
<rect x="1251.75" y="1513.38" width="13.85" height="13.29" fill="#fca50a"/>
<rect x="1265.00" y="1513.38" width="13.85" height="13.29" fill="#fca50a"/>
<rect x="1278.25" y="1513.38" width="13.85" height="13.29" fill="#f98e09"/>
<rect x="1291.50" y="1513.38" width="13.85" height="13.29" fill="#f6d746"/>
<rect x="1304.75" y="1513.38" width="13.85" height="13.29" fill="#f6d746"/>
<rect x="1318.00" y="1513.38" width="13.85" height="13.29" fill="#fca50a"/>
<rect x="1331.25" y="1513.38" width="13.85" height="13.29" fill="#f98e09"/>
<rect x="1344.50" y="1513.38" width="13.85" height="13.29" fill="#fbbe23"/>
<rect x="1357.75" y="1513.38" width="13.85" height="13.29" fill="#f6d746"/>
<rect x="1371.00" y="1513.38" width="13.85" height="13.29" fill="#fbbe23"/>
<rect x="1384.25" y="1513.38" width="13.85" height="13.29" fill="#fbbe23"/>
<rect x="1397.50" y="1513.38" width="13.85" height="13.29" fill="#f1ef75"/>
<rect x="1410.75" y="1513.38" width="13.85" height="13.29" fill="#f1ef75"/>
<rect x="1424.00" y="1513.38" width="13.85" height="13.29" fill="#f1ef75"/>
<rect x="1437.25" y="1513.38" width="13.85" height="13.29" fill="#f1ef75"/>
<rect x="1066.25" y="1526.07" width="13.85" height="13.29" fill="#f37819"/>
<rect x="1079.50" y="1526.07" width="13.85" height="13.29" fill="#ea632a"/>
<rect x="1092.75" y="1526.07" width="13.85" height="13.29" fill="#f98e09"/>
<rect x="1106.00" y="1526.07" width="13.85" height="13.29" fill="#ea632a"/>
<rect x="1119.25" y="1526.07" width="13.85" height="13.29" fill="#cc4248"/>
<rect x="1132.50" y="1526.07" width="13.85" height="13.29" fill="#cc4248"/>
<rect x="1145.75" y="1526.07" width="13.85" height="13.29" fill="#cc4248"/>
<rect x="1159.00" y="1526.07" width="13.85" height="13.29" fill="#cc4248"/>
<rect x="1172.25" y="1526.07" width="13.85" height="13.29" fill="#dd513a"/>
<rect x="1185.50" y="1526.07" width="13.85" height="13.29" fill="#ea632a"/>
<rect x="1198.75" y="1526.07" width="13.85" height="13.29" fill="#ea632a"/>
<rect x="1212.00" y="1526.07" width="13.85" height="13.29" fill="#f98e09"/>
<rect x="1225.25" y="1526.07" width="13.85" height="13.29" fill="#fca50a"/>
<rect x="1238.50" y="1526.07" width="13.85" height="13.29" fill="#fbbe23"/>
<rect x="1251.75" y="1526.07" width="13.85" height="13.29" fill="#f6d746"/>
<rect x="1265.00" y="1526.07" width="13.85" height="13.29" fill="#fca50a"/>
<rect x="1278.25" y="1526.07" width="13.85" height="13.29" fill="#f98e09"/>
<rect x="1291.50" y="1526.07" width="13.85" height="13.29" fill="#f6d746"/>
<rect x="1304.75" y="1526.07" width="13.85" height="13.29" fill="#f6d746"/>
<rect x="1318.00" y="1526.07" width="13.85" height="13.29" fill="#fbbe23"/>
<rect x="1331.25" y="1526.07" width="13.85" height="13.29" fill="#f98e09"/>
<rect x="1344.50" y="1526.07" width="13.85" height="13.29" fill="#fbbe23"/>
<rect x="1357.75" y="1526.07" width="13.85" height="13.29" fill="#fbbe23"/>
<rect x="1371.00" y="1526.07" width="13.85" height="13.29" fill="#f6d746"/>
<rect x="1384.25" y="1526.07" width="13.85" height="13.29" fill="#fbbe23"/>
<rect x="1397.50" y="1526.07" width="13.85" height="13.29" fill="#f1ef75"/>
<rect x="1410.75" y="1526.07" width="13.85" height="13.29" fill="#fcffa4"/>
<rect x="1424.00" y="1526.07" width="13.85" height="13.29" fill="#f1ef75"/>
<rect x="1437.25" y="1526.07" width="13.85" height="13.29" fill="#f1ef75"/>
<rect x="1066.25" y="1538.76" width="13.85" height="13.29" fill="#f37819"/>
<rect x="1079.50" y="1538.76" width="13.85" height="13.29" fill="#f37819"/>
<rect x="1092.75" y="1538.76" width="13.85" height="13.29" fill="#dd513a"/>
<rect x="1106.00" y="1538.76" width="13.85" height="13.29" fill="#dd513a"/>
<rect x="1119.25" y="1538.76" width="13.85" height="13.29" fill="#dd513a"/>
<rect x="1132.50" y="1538.76" width="13.85" height="13.29" fill="#dd513a"/>
<rect x="1145.75" y="1538.76" width="13.85" height="13.29" fill="#dd513a"/>
<rect x="1159.00" y="1538.76" width="13.85" height="13.29" fill="#dd513a"/>
<rect x="1172.25" y="1538.76" width="13.85" height="13.29" fill="#dd513a"/>
<rect x="1185.50" y="1538.76" width="13.85" height="13.29" fill="#dd513a"/>
<rect x="1198.75" y="1538.76" width="13.85" height="13.29" fill="#dd513a"/>
<rect x="1212.00" y="1538.76" width="13.85" height="13.29" fill="#f37819"/>
<rect x="1225.25" y="1538.76" width="13.85" height="13.29" fill="#f98e09"/>
<rect x="1238.50" y="1538.76" width="13.85" height="13.29" fill="#fca50a"/>
<rect x="1251.75" y="1538.76" width="13.85" height="13.29" fill="#fbbe23"/>
<rect x="1265.00" y="1538.76" width="13.85" height="13.29" fill="#fca50a"/>
<rect x="1278.25" y="1538.76" width="13.85" height="13.29" fill="#f6d746"/>
<rect x="1291.50" y="1538.76" width="13.85" height="13.29" fill="#f6d746"/>
<rect x="1304.75" y="1538.76" width="13.85" height="13.29" fill="#f6d746"/>
<rect x="1318.00" y="1538.76" width="13.85" height="13.29" fill="#f6d746"/>
<rect x="1331.25" y="1538.76" width="13.85" height="13.29" fill="#fbbe23"/>
<rect x="1344.50" y="1538.76" width="13.85" height="13.29" fill="#f6d746"/>
<rect x="1357.75" y="1538.76" width="13.85" height="13.29" fill="#fbbe23"/>
<rect x="1371.00" y="1538.76" width="13.85" height="13.29" fill="#f6d746"/>
<rect x="1384.25" y="1538.76" width="13.85" height="13.29" fill="#f6d746"/>
<rect x="1397.50" y="1538.76" width="13.85" height="13.29" fill="#f6d746"/>
<rect x="1410.75" y="1538.76" width="13.85" height="13.29" fill="#fcffa4"/>
<rect x="1424.00" y="1538.76" width="13.85" height="13.29" fill="#f1ef75"/>
<rect x="1437.25" y="1538.76" width="13.85" height="13.29" fill="#f1ef75"/>
<rect x="1092.75" y="1551.45" width="13.85" height="13.29" fill="#f37819"/>
<rect x="1106.00" y="1551.45" width="13.85" height="13.29" fill="#f37819"/>
<rect x="1119.25" y="1551.45" width="13.85" height="13.29" fill="#f37819"/>
<rect x="1132.50" y="1551.45" width="13.85" height="13.29" fill="#f37819"/>
<rect x="1145.75" y="1551.45" width="13.85" height="13.29" fill="#f37819"/>
<rect x="1159.00" y="1551.45" width="13.85" height="13.29" fill="#f37819"/>
<rect x="1172.25" y="1551.45" width="13.85" height="13.29" fill="#f37819"/>
<rect x="1185.50" y="1551.45" width="13.85" height="13.29" fill="#f37819"/>
<rect x="1198.75" y="1551.45" width="13.85" height="13.29" fill="#ea632a"/>
<rect x="1212.00" y="1551.45" width="13.85" height="13.29" fill="#ea632a"/>
<rect x="1225.25" y="1551.45" width="13.85" height="13.29" fill="#f37819"/>
<rect x="1238.50" y="1551.45" width="13.85" height="13.29" fill="#f98e09"/>
<rect x="1251.75" y="1551.45" width="13.85" height="13.29" fill="#fca50a"/>
<rect x="1265.00" y="1551.45" width="13.85" height="13.29" fill="#fbbe23"/>
<rect x="1278.25" y="1551.45" width="13.85" height="13.29" fill="#f98e09"/>
<rect x="1291.50" y="1551.45" width="13.85" height="13.29" fill="#f6d746"/>
<rect x="1304.75" y="1551.45" width="13.85" height="13.29" fill="#f6d746"/>
<rect x="1318.00" y="1551.45" width="13.85" height="13.29" fill="#f6d746"/>
<rect x="1331.25" y="1551.45" width="13.85" height="13.29" fill="#f6d746"/>
<rect x="1344.50" y="1551.45" width="13.85" height="13.29" fill="#f6d746"/>
<rect x="1357.75" y="1551.45" width="13.85" height="13.29" fill="#f6d746"/>
<rect x="1371.00" y="1551.45" width="13.85" height="13.29" fill="#f6d746"/>
<rect x="1384.25" y="1551.45" width="13.85" height="13.29" fill="#f6d746"/>
<rect x="1397.50" y="1551.45" width="13.85" height="13.29" fill="#f6d746"/>
<rect x="1410.75" y="1551.45" width="13.85" height="13.29" fill="#fcffa4"/>
<rect x="1424.00" y="1551.45" width="13.85" height="13.29" fill="#f1ef75"/>
<rect x="1437.25" y="1551.45" width="13.85" height="13.29" fill="#f1ef75"/>
<rect x="1159.00" y="1564.14" width="13.85" height="13.29" fill="#f98e09"/>
<rect x="1172.25" y="1564.14" width="13.85" height="13.29" fill="#f98e09"/>
<rect x="1185.50" y="1564.14" width="13.85" height="13.29" fill="#f98e09"/>
<rect x="1198.75" y="1564.14" width="13.85" height="13.29" fill="#f98e09"/>
<rect x="1212.00" y="1564.14" width="13.85" height="13.29" fill="#f98e09"/>
<rect x="1225.25" y="1564.14" width="13.85" height="13.29" fill="#f37819"/>
<rect x="1238.50" y="1564.14" width="13.85" height="13.29" fill="#f37819"/>
<rect x="1251.75" y="1564.14" width="13.85" height="13.29" fill="#f98e09"/>
<rect x="1265.00" y="1564.14" width="13.85" height="13.29" fill="#fca50a"/>
<rect x="1278.25" y="1564.14" width="13.85" height="13.29" fill="#fca50a"/>
<rect x="1291.50" y="1564.14" width="13.85" height="13.29" fill="#fbbe23"/>
<rect x="1304.75" y="1564.14" width="13.85" height="13.29" fill="#fbbe23"/>
<rect x="1318.00" y="1564.14" width="13.85" height="13.29" fill="#fbbe23"/>
<rect x="1331.25" y="1564.14" width="13.85" height="13.29" fill="#f6d746"/>
<rect x="1344.50" y="1564.14" width="13.85" height="13.29" fill="#f6d746"/>
<rect x="1357.75" y="1564.14" width="13.85" height="13.29" fill="#f6d746"/>
<rect x="1371.00" y="1564.14" width="13.85" height="13.29" fill="#f6d746"/>
<rect x="1384.25" y="1564.14" width="13.85" height="13.29" fill="#f6d746"/>
<rect x="1397.50" y="1564.14" width="13.85" height="13.29" fill="#f6d746"/>
<rect x="1410.75" y="1564.14" width="13.85" height="13.29" fill="#f1ef75"/>
<rect x="1424.00" y="1564.14" width="13.85" height="13.29" fill="#f1ef75"/>
<rect x="1437.25" y="1564.14" width="13.85" height="13.29" fill="#f1ef75"/>
<rect x="1225.25" y="1576.83" width="13.85" height="13.29" fill="#fca50a"/>
<rect x="1238.50" y="1576.83" width="13.85" height="13.29" fill="#fca50a"/>
<rect x="1251.75" y="1576.83" width="13.85" height="13.29" fill="#fca50a"/>
<rect x="1265.00" y="1576.83" width="13.85" height="13.29" fill="#f98e09"/>
<rect x="1278.25" y="1576.83" width="13.85" height="13.29" fill="#fca50a"/>
<rect x="1291.50" y="1576.83" width="13.85" height="13.29" fill="#fbbe23"/>
<rect x="1304.75" y="1576.83" width="13.85" height="13.29" fill="#fbbe23"/>
<rect x="1318.00" y="1576.83" width="13.85" height="13.29" fill="#fbbe23"/>
<rect x="1331.25" y="1576.83" width="13.85" height="13.29" fill="#fbbe23"/>
<rect x="1344.50" y="1576.83" width="13.85" height="13.29" fill="#fbbe23"/>
<rect x="1357.75" y="1576.83" width="13.85" height="13.29" fill="#fbbe23"/>
<rect x="1371.00" y="1576.83" width="13.85" height="13.29" fill="#fbbe23"/>
<rect x="1384.25" y="1576.83" width="13.85" height="13.29" fill="#fbbe23"/>
<rect x="1397.50" y="1576.83" width="13.85" height="13.29" fill="#fbbe23"/>
<rect x="1410.75" y="1576.83" width="13.85" height="13.29" fill="#fbbe23"/>
<rect x="1424.00" y="1576.83" width="13.85" height="13.29" fill="#fbbe23"/>
<rect x="885.85" y="966.5" width="645.55" height="666.90" fill="none" stroke="#000" stroke-width="3.2"/>
<line x1="875.75" y1="995.40" x2="884.25" y2="995.40" stroke="#262626" stroke-width="3"/>
<text x="867.80" y="1005.00" font-size="27" fill="#4d4d4d" text-anchor="end">100</text>
<line x1="875.75" y1="1040.67" x2="884.25" y2="1040.67" stroke="#262626" stroke-width="3"/>
<text x="867.80" y="1050.27" font-size="27" fill="#4d4d4d" text-anchor="end">80</text>
<line x1="875.75" y1="1099.03" x2="884.25" y2="1099.03" stroke="#262626" stroke-width="3"/>
<text x="867.80" y="1108.63" font-size="27" fill="#4d4d4d" text-anchor="end">60</text>
<line x1="875.75" y1="1181.28" x2="884.25" y2="1181.28" stroke="#262626" stroke-width="3"/>
<text x="867.80" y="1190.88" font-size="27" fill="#4d4d4d" text-anchor="end">40</text>
<line x1="875.75" y1="1239.64" x2="884.25" y2="1239.64" stroke="#262626" stroke-width="3"/>
<text x="867.80" y="1249.24" font-size="27" fill="#4d4d4d" text-anchor="end">30</text>
<line x1="875.75" y1="1321.89" x2="884.25" y2="1321.89" stroke="#262626" stroke-width="3"/>
<text x="867.80" y="1331.49" font-size="27" fill="#4d4d4d" text-anchor="end">20</text>
<line x1="875.75" y1="1462.50" x2="884.25" y2="1462.50" stroke="#262626" stroke-width="3"/>
<text x="867.80" y="1472.10" font-size="27" fill="#4d4d4d" text-anchor="end">10</text>
<line x1="875.75" y1="1603.11" x2="884.25" y2="1603.11" stroke="#262626" stroke-width="3"/>
<text x="867.80" y="1612.71" font-size="27" fill="#4d4d4d" text-anchor="end">5</text>
<line x1="994.20" y1="1635.00" x2="994.20" y2="1643.00" stroke="#262626" stroke-width="3"/>
<text x="994.20" y="1670.60" font-size="27" fill="#4d4d4d" text-anchor="middle">100</text>
<line x1="1180.80" y1="1635.00" x2="1180.80" y2="1643.00" stroke="#262626" stroke-width="3"/>
<text x="1180.80" y="1670.60" font-size="27" fill="#4d4d4d" text-anchor="middle">500</text>
<line x1="1342.40" y1="1635.00" x2="1342.40" y2="1643.00" stroke="#262626" stroke-width="3"/>
<text x="1342.40" y="1670.60" font-size="27" fill="#4d4d4d" text-anchor="middle">1000</text>
<line x1="1503.70" y1="1635.00" x2="1503.70" y2="1643.00" stroke="#262626" stroke-width="3"/>
<text x="1503.70" y="1670.60" font-size="27" fill="#4d4d4d" text-anchor="middle">8000</text>
<text x="1127.80" y="1717.60" font-size="34" fill="#000">Trees ha<tspan font-size="22" dx="3" dy="-16">&#8722;1</tspan></text>
<text transform="translate(809.50,1298.60) rotate(-90)" x="0" y="0" font-size="34" fill="#000" text-anchor="middle">Reineke's diameter (cm)</text>
<text x="1453.30" y="1022.90" font-size="48" fill="#000">D.</text>
<rect x="336.6" y="812.8" width="326.30" height="52.70" fill="url(#inf)"/>
<line x1="399.1" y1="812.8" x2="399.1" y2="823.3" stroke="#fff" stroke-width="1.4"/>
<line x1="399.1" y1="855.0" x2="399.1" y2="865.5" stroke="#fff" stroke-width="1.4"/>
<line x1="495.7" y1="812.8" x2="495.7" y2="823.3" stroke="#fff" stroke-width="1.4"/>
<line x1="495.7" y1="855.0" x2="495.7" y2="865.5" stroke="#fff" stroke-width="1.4"/>
<line x1="592.5" y1="812.8" x2="592.5" y2="823.3" stroke="#fff" stroke-width="1.4"/>
<line x1="592.5" y1="855.0" x2="592.5" y2="865.5" stroke="#fff" stroke-width="1.4"/>
<text x="402.2" y="902.20" font-size="27" fill="#000" text-anchor="middle">2.7</text>
<text x="499.2" y="902.20" font-size="27" fill="#000" text-anchor="middle">7.4</text>
<text x="590.6" y="902.20" font-size="27" fill="#000" text-anchor="middle">20.1</text>
<text x="192.50" y="872.30" font-size="33" fill="#000">&#916; <tspan dx="2">ASDI</tspan></text>
<rect x="1118.6" y="811.2" width="325.80" height="52.10" fill="url(#inf)"/>
<line x1="1200.4" y1="811.2" x2="1200.4" y2="821.7" stroke="#fff" stroke-width="1.4"/>
<line x1="1200.4" y1="852.8" x2="1200.4" y2="863.3" stroke="#fff" stroke-width="1.4"/>
<line x1="1306" y1="811.2" x2="1306" y2="821.7" stroke="#fff" stroke-width="1.4"/>
<line x1="1306" y1="852.8" x2="1306" y2="863.3" stroke="#fff" stroke-width="1.4"/>
<line x1="1411.8" y1="811.2" x2="1411.8" y2="821.7" stroke="#fff" stroke-width="1.4"/>
<line x1="1411.8" y1="852.8" x2="1411.8" y2="863.3" stroke="#fff" stroke-width="1.4"/>
<text x="1204.3" y="900.00" font-size="27" fill="#000" text-anchor="middle">1.0</text>
<text x="1309" y="900.00" font-size="27" fill="#000" text-anchor="middle">2.7</text>
<text x="1415.9" y="900.00" font-size="27" fill="#000" text-anchor="middle">7.4</text>
<text x="974.20" y="870.50" font-size="33" fill="#000">&#916; <tspan dx="2">ASDI</tspan></text>
<rect x="342.9" y="1781.5" width="331.60" height="53.70" fill="url(#inf)"/>
<line x1="359.8" y1="1781.5" x2="359.8" y2="1792.0" stroke="#fff" stroke-width="1.4"/>
<line x1="359.8" y1="1824.7" x2="359.8" y2="1835.2" stroke="#fff" stroke-width="1.4"/>
<line x1="439" y1="1781.5" x2="439" y2="1792.0" stroke="#fff" stroke-width="1.4"/>
<line x1="439" y1="1824.7" x2="439" y2="1835.2" stroke="#fff" stroke-width="1.4"/>
<line x1="617" y1="1781.5" x2="617" y2="1792.0" stroke="#fff" stroke-width="1.4"/>
<line x1="617" y1="1824.7" x2="617" y2="1835.2" stroke="#fff" stroke-width="1.4"/>
<text x="359.8" y="1872.50" font-size="27" fill="#000" text-anchor="middle">2.0</text>
<text x="438.6" y="1872.50" font-size="27" fill="#000" text-anchor="middle">2.7</text>
<text x="616.3" y="1872.50" font-size="27" fill="#000" text-anchor="middle">5.4</text>
<text x="195.80" y="1842.00" font-size="33" fill="#000">&#916; <tspan dx="2">ASDI</tspan></text>
<rect x="1118" y="1775.9" width="325.70" height="52.10" fill="url(#inf)"/>
<line x1="1165.9" y1="1775.9" x2="1165.9" y2="1786.4" stroke="#fff" stroke-width="1.4"/>
<line x1="1165.9" y1="1817.5" x2="1165.9" y2="1828" stroke="#fff" stroke-width="1.4"/>
<line x1="1257" y1="1775.9" x2="1257" y2="1786.4" stroke="#fff" stroke-width="1.4"/>
<line x1="1257" y1="1817.5" x2="1257" y2="1828" stroke="#fff" stroke-width="1.4"/>
<line x1="1321.6" y1="1775.9" x2="1321.6" y2="1786.4" stroke="#fff" stroke-width="1.4"/>
<line x1="1321.6" y1="1817.5" x2="1321.6" y2="1828" stroke="#fff" stroke-width="1.4"/>
<line x1="1372.7" y1="1775.9" x2="1372.7" y2="1786.4" stroke="#fff" stroke-width="1.4"/>
<line x1="1372.7" y1="1817.5" x2="1372.7" y2="1828" stroke="#fff" stroke-width="1.4"/>
<line x1="1412.8" y1="1775.9" x2="1412.8" y2="1786.4" stroke="#fff" stroke-width="1.4"/>
<line x1="1412.8" y1="1817.5" x2="1412.8" y2="1828" stroke="#fff" stroke-width="1.4"/>
<text x="1165.7" y="1865.50" font-size="27" fill="#000" text-anchor="middle">0.5</text>
<text x="1257.5" y="1865.50" font-size="27" fill="#000" text-anchor="middle">0.8</text>
<text x="1322.3" y="1865.50" font-size="27" fill="#000" text-anchor="middle">1.0</text>
<text x="1373" y="1865.50" font-size="27" fill="#000" text-anchor="middle">1.2</text>
<text x="1413.7" y="1865.50" font-size="27" fill="#000" text-anchor="middle">1.5</text>
<text x="973.20" y="1835.20" font-size="33" fill="#000">&#916; <tspan dx="2">ASDI</tspan></text>
</svg>
</body></html>
